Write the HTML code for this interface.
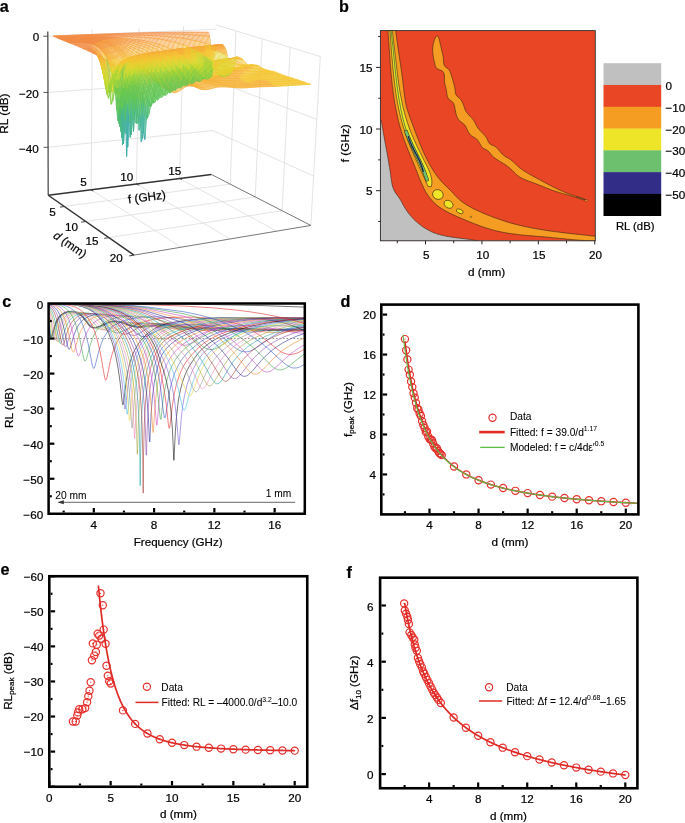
<!DOCTYPE html>
<html><head><meta charset="utf-8"><style>
html,body{margin:0;padding:0;background:#fff;width:685px;height:823px;overflow:hidden;position:relative;}
svg text{font-family:"Liberation Sans", sans-serif;stroke:currentColor;stroke-width:0.22px;}
svg{will-change:transform;}
svg text[font-size="10.2"]{stroke-width:0.06px;}
</style></head><body><svg width="685" height="823" viewBox="0 0 685 823" font-family='"Liberation Sans", sans-serif' style="position:absolute;left:0;top:0"><defs><clipPath id="clipc"><rect x="48.6" y="303.5" width="256.2" height="210.25"/></clipPath><clipPath id="clipb"><rect x="380.4" y="30.6" width="214.89999999999998" height="210.20000000000002"/></clipPath></defs><text x="2.3" y="306.6" font-size="16.2" font-weight="bold">c</text><g fill="none" stroke-width="0.55" clip-path="url(#clipc)"><path d="M48.6 326l1.5 8.4 .7 2.3 .4 .2 .3-.2 .8-1.7 2.2-7.9 1.4-4.2 1.5-3.1 1.8-2.8 2.6-2.5 2.9-1.7 3.3-1 3.7-.3 2.2 .2 2.2 .5 1.8 .8 1.9 1.2 1.4 1.2 1.9 1.9 6.5 8.4 1.9 1.4 1.8 .6 2.6-.2 4-1.1 2.2-.9 5.1-2.6 2.6-1 2.2-.5 2.6-.2 2.5 .2 2.6 .5 12.1 4.1 3.3 .7 2.9 .3 5.2-.2 12.8-1.7 4-.1 9.5 .6 18.7 2.2 8.8 .5 25 .2 32.6 1.1 27.5 .2 22.7 .4" stroke="#666666" stroke-width="1.5"/><path d="M48.6 320.7l2.6 14.7 .7 2.2 .4 .3 .3-.2 .8-1.7 2.2-7.9 1.4-4.3 1.5-3.2 1.8-2.9 2.2-2.3 3-2 3.3-1.2 3.6-.5 2.6 .1 2.2 .5 2.2 .8 2.2 1.3 1.8 1.5 1.9 2 5.1 6.6 1.8 2.1 1.8 1.3 1.9 .6 2.2-.3 4-1.2 7.7-3.6 2.6-1 2.9-.7 2.9-.2 2.6 .2 2.6 .5 12.8 3.8 3.3 .7 2.9 .2 5.2-.1 8-1.1 10.3-.2 9.9 .5 19.8 2.1 9.9 .7 28.2 0 29.3 1.1 27.1 0 14.7 .3" stroke="#40B8E0"/><path d="M48.6 316.3l1.1 5 2.6 14.5 .7 2.5 .4 .5 .3 0 .8-1.4 2.5-9.1 1.5-4.2 1.5-3.2 1.8-2.8 2.6-2.7 2.9-1.8 3.3-1.2 3.7-.5 2.5 .1 2.6 .6 2.2 .8 2.2 1.3 1.8 1.5 1.8 1.9 5.5 7 1.9 2 1.8 1.4 1.8 .6 2.2-.1 3.3-1 3-1.3 5.8-2.8 3-1.1 2.9-.7 3.3-.3 2.9 .2 3 .5 13.2 3.5 3.3 .6 2.9 .3 16.9-.8 9.8 0 12.9 .7 19 1.8 9.6 .6 6.2 .1 21.6-.3 31.2 1.1 30.4 .1" stroke="#E8D030"/><path d="M48.6 312.7l1.1 3.7 1.1 4.9 2.9 16 .8 2.2 .3 .3 .4-.1 .7-1.5 2.6-9.1 1.5-4.2 1.4-3.2 1.9-3 2.5-2.7 3-2 3.6-1.3 3.7-.5 2.9 .1 2.6 .5 2.6 1 2.2 1.3 1.8 1.4 2.2 2.2 5.8 7.2 1.9 2 2.2 1.5 1.8 .4 1.8-.2 3-.9 9.1-4.1 3.3-1.3 3.7-.8 4-.3 3.7 .3 3.3 .5 14.3 3.3 7.7 .7 6.6 .1 23.4-.3 5.9 .1 7.7 .5 18 1.8 8.8 .4 28.9-.3 30.8 1 18.7 0" stroke="#909090"/><path d="M48.6 310.1l1.5 3.7 1.1 3.8 1.4 6.7 2.6 13.9 .7 2.3 .4 .4 .4 0 .7-1.4 2.9-10.2 1.5-4.1 1.5-3.2 1.8-2.8 2.6-2.8 2.9-1.9 3.7-1.4 4-.7 2.9 .1 2.6 .5 2.6 .8 2.5 1.4 2.2 1.6 2.2 2.1 6.2 7.4 1.9 1.9 2.2 1.6 2.2 .6 1.8-.2 2.6-.7 9.9-4.3 4-1.4 4-.9 4.8-.3 3.7 .2 3.6 .5 11.4 2.5 6.6 1.2 5.5 .6 5.8 .5 11 .1 11.4-.8 8.8-.1 8.4 .4 18.4 1.7 8.8 .5 8.4 .1 25.3-.5 34.8 1.1" stroke="#F080B0"/><path d="M48.6 308.1l1.8 3.3 1.9 5.1 1.8 7.7 2.6 13.9 .7 2.8 .4 .9 .3 .3 .4-.1 .7-1.3 3-10.2 1.4-4.2 1.9-3.9 1.8-2.8 2.6-2.7 3.3-2.2 3.6-1.3 4.4-.7 3.3 .1 2.9 .6 3 1 2.5 1.4 2.2 1.7 2.6 2.4 6.2 7.3 2.2 2.3 2.2 1.5 2.2 .7 1.9-.1 2.2-.7 9.9-4.6 5.5-2 4.7-1.1 5.2-.3 3.6 .1 4.1 .5 20.8 4.3 5.9 .9 5.5 .7 7-.2 17.6-1.3 8.4-.1 10.3 .3 19 1.7 9.2 .5 7.7 0 24.5-.6 21.3 .6" stroke="#A0A030"/><path d="M48.6 306.7l1.5 1.6 1.4 2.3 1.1 2.4 1.1 3 2.2 8.7 3 15.4 .7 2.5 .4 .7 .3 .2 .4-.2 .7-1.4 3-10.2 1.4-4.2 1.9-4 2.2-3.3 2.9-3 3.3-2.1 4-1.4 4.4-.7 3.3 .1 3.3 .5 3.3 1.1 2.9 1.5 2.6 1.9 2.6 2.3 7.3 8.2 2.2 2.2 2.2 1.5 2.2 .6 2.2-.1 2.2-.7 10.3-5.2 5.1-2 5.5-1.3 5.9-.6 4.4 .2 6.6 .8 8 1.5 15.4 3.4 4.8 .7 4.7 .4 7.7-.1 20.6-1.5 8.8-.3 9.9 .3 19.7 1.7 9.2 .5 8.4 0 19.1-.6 9.9 0" stroke="#1A9A9A"/><path d="M48.6 305.7l1.8 1.3 1.9 2.1 1.4 2.5 1.5 3.3 1.5 4.6 1.1 4.4 3.6 18.4 .8 2.2 .3 .5 .4 .1 .4-.3 .7-1.6 2.9-10.1 1.9-5.2 1.8-3.8 2.2-3.2 2.9-3 1.9-1.3 1.8-1 4-1.5 4.8-.7 4 .1 3.7 .5 3.6 1.2 3.3 1.6 3 2 2.9 2.5 7.7 8.2 2.6 2.4 2.5 1.7 1.1 .4 1.5 .2 2.2-.2 2.2-.7 9.9-5.6 5.9-2.5 5.8-1.5 5.5-.3 8.1 .2 8.8 1 6.9 1.2 17.3 3.7 5.1 .8 4.8 .4 9.1-.1 19.8-1.8 11-.4 11.4 .4 18.3 1.5 8.1 .5 9.1 .2 11.4-.3" stroke="#A0302A"/><path d="M48.6 305l2.9 1.6 2.2 2 1.9 2.7 1.8 3.9 1.5 4.2 1.4 5.6 4.1 19.7 .7 1.9 .4 .4 .3 0 .4-.4 .7-1.8 3-10.1 1.8-5.2 2.2-4.5 2.2-3.2 1.5-1.7 1.8-1.6 3.7-2.3 4.3-1.6 5.2-.8 4.4 0 4.4 .6 4 1.2 4 1.8 3.3 2.1 3.3 2.6 3 2.7 5.8 5.9 2.6 2.3 2.9 1.8 2.6 .7 2.2-.2 2.6-1 2.2-1.2 6.9-4.5 3.7-1.9 3.7-1 4.4-.8 5.1-.6 5.5-.2 9.9 .1 8 .7 8.1 1.4 18 3.7 5.8 .9 4.8 .4 4.4 .1 4.8-.2 23-2.2 11-.4 12.1 .4 25.7 2.1" stroke="#8A3FA8"/><path d="M48.6 304.5l3.7 1.3 1.4 .9 1.5 1.2 2.2 2.5 2.2 3.9 1.5 3.6 1.4 4.7 1.9 7.6 3.3 16.2 .7 2.2 .4 .6 .3 .1 .8-.7 .7-1.9 2.9-10.2 2.2-6 2.2-4.4 2.2-3.2 1.5-1.7 1.8-1.6 1.9-1.3 2.1-1.3 2.2-.9 2.6-.8 5.5-1 5.1-.1 5.2 .6 5.1 1.3 4.8 2 4.4 2.5 4 2.9 3.3 2.9 6.2 6 2.6 2.2 2.6 1.5 2.5 .6 1.9-.1 1.8-.5 4-2.3 6.3-3.2 3.6-1.5 3.7-1.2 4-.9 5.1-.8 9.9-1.1 5.2-.4 8.8 0 9.1 .8 9.9 1.6 18.4 3.7 5.5 .8 5.1 .3 5.1 .1 5.1-.3 19.8-2 9.2-.7 9.5-.2 10.3 .4" stroke="#1F1F8F"/><path d="M48.6 304.2l2.6 .5 2.2 .6 1.8 .8 1.8 1.2 1.5 1.2 1.5 1.6 2.5 3.9 2.2 5.1 1.9 5.9 1.8 7.6 3.3 16.1 .7 2.5 .8 1 .3 0 .4-.4 .7-1.7 3.3-11.4 2.2-6.1 2.6-5.1 2.6-3.6 1.8-2 1.8-1.5 2.2-1.5 2.2-1.2 2.6-1 2.5-.8 5.9-1 6.2-.2 6.3 .6 6.2 1.5 5.9 2 4.7 2.4 4.8 2.9 4 3 7.7 6.4 4.1 2.7 4 2 1.8 .6 1.9 .2 3.2-.1 3.3-.9 16.2-7.6 5.8-2.1 4.1-1 4.4-.8 9.5-1.1 5.5-.2 6.2 .1 9.9 .7 9.6 1.4 20.8 4 5.2 .7 5.1 .4 5.5 .1 6.2-.3 22.4-2.3" stroke="#F08020"/><path d="M48.6 303.9l3.3 .4 2.9 .7 2.2 .7 2.2 1 1.9 1.2 1.8 1.7 1.8 2.1 1.5 2.3 2.6 5.3 2.2 6.5 2.2 8.8 3.6 17.8 .8 2.5 .7 1.1 .4-.1 .3-.3 .8-1.6 3.6-12.9 2.2-6.1 2.6-5.2 2.9-4.2 1.8-1.9 2.2-1.9 2.2-1.5 2.6-1.4 2.9-1.2 3-.9 3.3-.7 3.6-.5 4.1-.2 4 0 8.1 .7 4 .7 4 1 3.7 1.1 3.7 1.4 5.5 2.7 9.5 5.5 5.8 4.1 8.8 7.2 3.3 2.5 3.3 2 1.9 .8 1.1 .2 1.4 0 1.9-.3 1.8-.6 1.8-.9 3-1.8 10.2-7.2 3.7-2.1 3.7-1.7 4.7-1.6 5.9-1.4 5.1-1 5.5-.7 5.9-.4 6.2-.1 6.2 .2 6.3 .5 11 1.4 24.2 4.5 6.6 .8 6.2 .3" stroke="#C040C0"/><path d="M48.6 303.8l4.8 .4 3.6 .6 3.3 .8 2.6 1.1 2.6 1.5 2.2 1.8 1.8 2.1 1.8 2.6 1.5 2.6 1.5 3.2 1.4 3.8 1.5 4.6 2.6 10.2 3.6 18.2 .8 2.5 .7 1.2 .4 0 .3-.3 .8-1.6 3.6-13.4 2.6-7.5 2.5-5.3 1.5-2.4 1.8-2.5 1.9-2 2.2-2 2.5-1.8 2.6-1.4 2.9-1.3 3-1 3.3-.9 3.6-.6 5.9-.7 6.2-.1 6.3 .1 5.8 .6 5.9 .9 7.3 1.8 6.3 1.7 5.4 1.8 7.7 3.3 6.3 3.5 5.1 4 9.9 9.2 3.7 3 2.2 1.5 1.8 .9 2.2 .8 1.8 .3 1.9 0 2.2-.5 2.2-.8 2.2-1.1 4-2.8 9.9-7.6 3.3-2.2 3.3-1.8 5.8-2.5 6.6-1.9 5.5-1.1 7-.9 6.2-.5 6.6-.2 6.6 .1 7 .4 7 .7 7.3 1.1" stroke="#2E9A3A"/><path d="M48.6 303.7l6.2 .3 4.8 .5 4 .8 3.3 1.1 3 1.3 2.9 2 2.6 2.4 2.2 2.8 2.2 3.5 1.8 3.7 1.8 4.6 1.9 5.5 2.9 11.6 4 20.8 .7 2.6 .8 1.2 .3-.1 .4-.5 .7-1.9 3.7-14.7 2.6-7.9 2.5-5.8 1.5-2.5 1.8-2.7 2.2-2.7 2.2-2.1 2.6-2.1 2.6-1.6 2.9-1.5 3.3-1.3 3.7-1.1 4-1 6.6-1.1 6.6-.7 7.3-.3 6.6 .1 10.3 .6 10.6 1.2 8.8 1.3 5.9 1.5 4.7 1.5 4.8 1.9 4.4 2 4 2.2 4.4 2.8 4.4 3.3 5.9 4.8 6.2 5.6 4.1 3 2.2 1.4 2.2 1 2.1 .6 2.2 .3 1.9-.1 2.2-.4 2.2-.7 2.5-1.3 4.4-2.8 13.2-9.5 4.4-2.6 4.8-2.3 5.1-1.9 5.9-1.6 6.2-1.2 7-.9" stroke="#2B4FC4"/><path d="M48.6 303.6l8.4 .3 6.6 .5 5.5 .9 4.4 1.2 4.1 1.7 3.3 2.1 3.3 2.9 2.9 3.5 2.5 3.9 2.6 5 2.2 5.4 2.2 6.6 1.8 6.7 1.9 8.3 4.4 25.2 .7 2.1 .4 .3 .3-.3 .8-2.1 3.6-17.5 1.5-5.6 1.5-4.6 1.8-4.6 1.8-3.8 2.2-3.6 2.6-3.4 2.9-3.1 3.7-2.9 3.7-2.2 4.4-2.1 4.7-1.8 5.2-1.6 5.8-1.4 6.6-1.2 7.7-.6 8.8-.5 11-.2 8.1 .1 8.4 .5 8.1 .8 7.7 1 7.3 1.4 7 1.6 6.6 2.1 5.8 2.4 5.9 2.9 4.7 2.9 4.8 3.3 16.9 13.4 3.6 2.4 3.3 1.5 2.2 .6 2.2 .4 2.2 0 2.6-.3 2.6-.8 2.5-1 5.9-3.3" stroke="#E41A1C"/><path d="M48.6 303.5l12.5 .3 8.8 .6 7.3 1 5.9 1.5 5.4 2.2 4.8 2.9 4 3.6 4.1 4.7 3.6 5.7 3.7 7.4 3.3 8.7 2.6 8.8 1.8 7.9 1.8 10 1.9 13.5 2.2 20.3 .3 1.8 .4 .5 .4-1.1 .3-2.3 2.6-20.9 1.8-10.4 1.5-6.2 1.5-5 1.4-4.1 1.9-4.1 2.2-4.1 2.9-4.5 2.6-3.3 2.9-3 3.3-2.9 4-2.9 4.4-2.6 4.4-2.2 7.3-2 8.5-1.6 9.9-1.5 12.8-1.3 10.3-.8 10.6-.3 15-.1 8.8 .2 9.5 .6 9.2 .8 8.8 1.3 7.3 1.3 7 1.7 6.6 2.1 6.2 2.4 5.9 2.8" stroke="#000000"/><path d="M48.6 303.5l12.8 .3 9.6 .6 7.3 1.1 6.2 1.5 5.5 2.3 2.6 1.4 2.5 1.8 4.4 3.9 4.1 4.9 4 6.5 3.7 7.7 3.3 9.1 2.5 9.2 1.9 8.3 1.8 10.9 1.5 11.6 2.2 22.1 .3 2.1 .4 .3 .7-4.3 2.2-20.1 1.9-11.4 1.1-5.2 1.4-5.6 1.5-4.5 1.5-3.7 2.5-5.4 2.2-3.8 2.6-3.7 2.9-3.4 3.3-3.2 3.7-3 4-2.7 4.4-2.5 7-2.1 8-1.8 9.2-1.6 12.5-1.5 9.5-.9 10.3-.6 9.9-.3 13.5-.1 9.5 .3 9.6 .6 9.1 .8 8.5 1.2 7.7 1.4 6.9 1.7 6.6 2 5.9 2.3" stroke="#7050D0"/><path d="M48.6 303.5l13.6 .3 9.5 .6 7.7 1.1 6.6 1.7 2.9 1.1 2.9 1.3 2.6 1.5 2.6 1.8 2.5 2.2 2.2 2.2 4.1 5 2.2 3.4 2.2 3.9 3.6 8 3.3 9.4 2.6 9.6 1.8 8.8 1.9 11.7 1.4 12.9 1.9 21 .3 2.7 .4 .5 .7-5.2 1.9-19.2 1.8-12.9 1.1-5.7 1.5-6 1.4-4.8 1.9-5 1.8-4.2 2.2-4.1 2.6-4 2.5-3.3 3.3-3.5 3.3-2.9 3.7-2.7 4-2.6 6.6-2.3 7.7-2 8.8-1.7 11.7-1.7 9.6-1.1 9.9-.8 9.5-.4 12.8-.3 9.9 0 9.9 .3 9.5 .6 8.8 .8 8.1 1.2 7.3 1.3 7 1.7 6.6 2" stroke="#40B8E0"/><path d="M48.6 303.5l13.9 .3 10.3 .7 8.1 1.1 6.5 1.7 3 1.1 2.9 1.4 2.9 1.7 2.6 1.8 2.6 2.2 2.2 2.2 2.2 2.5 2.2 3 2.2 3.4 2.2 3.9 3.6 8 3.3 9.3 3 11.1 2.2 11.3 1.8 13.2 1.1 11 1.8 24 .4 2.1 .4-1.2 1.8-22.1 1.8-15.4 2.2-11.7 1.9-6.8 1.4-4.6 1.9-4.7 2.2-4.6 2.2-3.7 2.5-3.7 3-3.5 3.3-3.2 3.6-3.1 3.7-2.5 5.1-2.1 5.9-1.8 6.6-1.7 7.7-1.5 11.3-1.8 8.5-1 9.9-.9 10.6-.6 13.2-.5 9.5-.1 10.3 .2 10.2 .6 9.6 .8 9.1 1.2 8.1 1.4 7.7 1.9" stroke="#E8D030"/><path d="M48.6 303.5l14.7 .3 10.6 .7 8.4 1.2 3.7 .8 3.3 1 3.3 1.3 2.9 1.5 2.9 1.7 2.6 1.9 2.6 2.3 2.5 2.6 4.4 5.7 2.2 3.5 2.2 4 2.2 4.6 1.9 4.5 3.3 9.7 2.9 11.8 2.2 12.3 1.5 11.4 1.4 16.8 1.5 23.4 .4 1.7 .3-3.1 1.5-22.3 1.5-14.7 1.1-7.7 1.1-6 1.4-6.7 1.5-5.2 1.8-5.3 1.9-4.4 2.2-4.3 2.5-4.1 2.6-3.4 2.9-3.3 3.3-3.2 3.7-2.9 4.7-2.2 5.5-2 5.9-1.7 7-1.6 12.1-2.2 7.3-1.1 9.5-1.1 9.9-.8 23.8-1.1 10.3 0 10.3 .2 10.2 .6 9.6 .9 8.8 1.2 8.4 1.5" stroke="#909090"/><path d="M48.6 303.5l15.8 .3 11 .7 8.8 1.4 3.6 .8 3.7 1.2 3.3 1.3 2.9 1.5 2.9 1.9 3 2.2 2.9 2.7 2.6 2.9 2.5 3.2 2.2 3.3 2.2 3.7 2.2 4.2 2.2 4.9 1.9 4.8 3.3 10.4 1.4 5.9 1.5 7 2.2 14.1 1.5 14.1 1.1 16.1 1.1 23.7 .3 2.8 1.5-27.6 1.5-18.1 1.8-13.8 2.2-10.7 1.5-5.3 1.8-5.4 2.2-5.1 2.2-4.2 2.6-4.1 2.9-3.9 3.3-3.6 3.3-3 4.4-2.3 5.1-2.2 5.5-1.9 6.6-1.8 6.6-1.4 12.5-2.4 8.8-1.2 9.1-1 24.6-1.5 10.2-.3 10.3 0 11.4 .4 9.9 .6 9.5 .9 8.8 1.3" stroke="#F080B0"/><path d="M48.6 303.5l16.5 .3 11.7 .8 4.8 .6 4.4 .8 4 1 3.7 1.3 3.6 1.5 3.3 1.9 3.3 2.2 3 2.5 2.9 2.9 2.6 3 2.5 3.5 2.6 4 2.6 4.7 2.2 4.7 2.2 5.4 1.8 5.3 1.8 6.1 1.5 5.8 2.6 13.1 1.8 13.9 1.5 17.6 .7 14.1 1.1 33.8 .4-6.9 .7-24.4 1.1-20.1 1.5-15.1 1.1-7.7 1.1-6 1.4-6.3 1.5-5.1 1.8-5.2 2.2-5.1 2.6-4.8 2.6-3.9 3.3-4.2 2.9-3.1 4.4-2.7 4.7-2.3 5.5-2.2 5.9-1.8 6.6-1.7 12.1-2.6 8.1-1.4 8.8-1.2 9.1-.9 15.8-1.2 10.2-.4 10.3-.2 12.1 .1 10.3 .4 9.9 .7 9.5 1" stroke="#A0A030"/><path d="M48.6 303.5l18.3 .4 12.5 .9 5.1 .7 4.8 1 4 1.1 4 1.6 4.1 2 3.6 2.3 3.3 2.6 3.3 3.2 3 3.3 2.9 4 2.9 4.6 2.6 4.7 2.6 5.6 2.2 5.5 1.8 5.4 1.8 6.3 1.5 6 1.5 7.2 2.2 14.7 1.4 15.8 1.1 21.7 .4 12.6 .7 49 .4-32.7 .7-30 1.1-20.1 .8-8.4 1.1-9.3 1.1-7 1.4-7.1 1.9-6.9 1.8-5.5 2.2-5.2 2.6-5 2.9-4.6 3.3-4.2 4-3 4.4-2.6 5.1-2.4 5.9-2.2 7-2.1 11.3-2.8 7.7-1.6 8.1-1.3 9.9-1.3 15.4-1.4 9.9-.7 10.2-.4 11-.1 12.5 .1 10.6 .5 10.3 .8" stroke="#1A9A9A"/><path d="M48.6 303.5l19.4 .4 7 .4 5.9 .5 5.5 .8 4.7 1 4.4 1.3 4 1.6 4.1 2 3.6 2.4 3.7 2.9 3.3 3.1 3.3 3.8 2.9 4 3 4.6 2.9 5.5 2.6 5.6 2.2 5.6 2.2 6.6 1.8 6.6 2.6 11.9 1.1 7.1 1.1 9.1 1.4 18.4 .8 15.8 .7 33.1 .4 35.5 .3-37.5 .8-31.3 1.1-20.5 1.4-15.1 1.1-7.6 1.1-6 1.5-6.4 1.8-6.3 1.9-5.1 2.2-5 2.5-4.7 2.6-4 3.6-3.3 4.4-3.1 5.2-2.9 5.5-2.4 6.9-2.5 11-3.2 7.4-1.7 7.7-1.5 10.6-1.6 15-1.7 9.5-.8 9.9-.6 11.4-.4 13.2-.1 11.4 .2 10.6 .6" stroke="#A0302A"/><path d="M48.6 303.5l18.3 .3 12.9 .8 5.1 .6 4.7 .8 4.4 1 4.1 1.3 4 1.6 3.7 1.9 3.6 2.3 3.3 2.5 3.3 3.1 3 3.1 2.9 3.7 2.9 4.2 3 4.9 2.5 5 2.2 4.9 2.2 5.7 1.9 5.5 1.4 5.1 1.5 6.3 1.5 7.7 1.8 13.2 1.5 16.5 1.1 22.3 .7 26.4 .4 1 .7-26.2 1.1-22.1 1.5-16.1 1.8-12.3 1.5-7.1 1.4-5.6 1.9-5.7 2.2-5.5 1.8-3.8 1.5-2.6 2.5-2.9 2.9-2.8 3.7-2.8 4.4-2.8 4.8-2.5 5.1-2.1 5.1-1.8 11.4-3.6 7.3-1.9 8.1-1.6 8.8-1.4 14.7-1.8 9.1-.9 9.5-.7 10.7-.5 13.2-.3 11 0 10.6 .4" stroke="#8A3FA8"/><path d="M48.6 303.5l18.3 .3 12.9 .7 10.2 1.3 4.4 .9 4 1.1 4.1 1.5 3.6 1.7 3.7 2 3.3 2.2 3.3 2.7 3.3 3.1 2.9 3.3 3 3.7 2.9 4.3 2.9 4.9 2.6 4.9 2.2 4.9 1.8 4.6 1.9 5.6 2.9 11.3 2.2 12.1 1.8 15.2 1.5 20.5 1.1 24.1 .4 1.5 1.4-29.4 1.1-14.3 1.9-15 2.2-11.4 2.5-9.3 3-7.7 2.2-3.3 2.5-3.2 2.9-3 3-2.6 3.6-2.6 4.4-2.7 4.4-2.2 5.2-2.2 8.8-3.3 6.2-2 7.3-1.9 8.1-1.7 7.7-1.3 14.3-2.1 17.6-1.7 10.2-.6 12.9-.5 11-.2 10.6 .2" stroke="#1F1F8F"/><path d="M48.6 303.5l18.7 .3 13.2 .6 10.2 1.3 4.4 .8 4.4 1.2 4.1 1.3 4 1.7 3.7 1.9 3.3 2.1 3.3 2.5 3.3 2.9 2.9 2.9 2.9 3.4 3 3.8 2.9 4.4 2.6 4.3 2.5 5 2.2 5.1 1.9 4.9 1.8 5.8 1.5 5.4 2.5 12.4 1.9 13 1.4 15.8 1.5 23.2 .4 3 .3-1.8 1.5-22.5 1.5-15.7 1.1-8.2 1.1-6.5 1.1-5.2 1.4-5.8 1.1-3.7 1.1-2.3 2.2-4 2.2-3.3 2.2-2.8 2.6-2.8 2.5-2.4 3-2.4 4-2.8 4.8-2.7 13.5-6.1 5.2-1.9 5.5-1.7 5.8-1.5 6.6-1.5 20.5-3.4 16.9-2 9.9-.7 12.8-.7 10.7-.3 10.6-.1" stroke="#F08020"/><path d="M48.6 303.5l19.4 .3 13.2 .6 10.6 1.2 4.4 .8 4.4 1.1 4.1 1.2 4 1.6 3.7 1.7 3.6 2.1 3.7 2.6 3.3 2.6 3.3 3.1 2.9 3.1 3 3.6 2.9 3.9 2.9 4.6 2.2 3.9 2.2 4.6 2.2 5.3 1.9 5.1 1.8 6.1 2.6 11 2.2 13.6 1.1 9.5 2.2 26.4 .3 2.1 .4-1 .4-3.5 1.4-18.2 1.5-13.3 1.8-11.5 .4-1.8 1.1-3.5 1.8-5 1.8-4.1 2.2-4 2.2-3.4 2.6-3.4 2.9-3.2 3.3-3 3.3-2.6 3.7-2.5 3.7-2.1 8-4.2 5.2-2.3 5.1-2 5.1-1.7 5.9-1.6 6.2-1.5 18.7-3.5 16.5-2.1 22-1.7 20.9-.8" stroke="#C040C0"/><path d="M48.6 303.5l19.4 .2 13.6 .6 11 1.2 4.7 .8 4.4 .9 4.4 1.3 4.1 1.4 4 1.8 3.7 2 3.6 2.3 3.3 2.5 3.3 2.8 3.3 3.2 3.3 3.6 3.3 4.2 2.2 3.1 2.6 4.2 2.6 4.9 2.2 4.9 1.8 4.6 1.8 5.5 1.5 5.1 1.5 6.1 2.2 12 1.8 14.4 1.8 19.1 .4 2.5 .4 .7 .3-1.4 .4-2.9 1.5-15.3 1.4-9 2.6-11.1 2.9-8.9 1.8-4.3 1.9-3.6 2.2-3.7 2.2-3.1 2.5-3.1 3-3.1 3.3-2.9 3.3-2.5 10.2-6.5 4.1-2.2 4-1.9 4.8-2 5.1-1.8 5.5-1.6 6.2-1.6 17.2-3.6 15.8-2.3 21.6-2.1 20.2-1" stroke="#2E9A3A"/><path d="M48.6 303.5l20.5 .2 14 .6 10.9 1.2 4.8 .7 4.8 1 4.4 1.3 4.4 1.5 4 1.7 3.7 1.9 3.6 2.3 3.7 2.5 3.7 3 3.3 3.1 3.3 3.5 2.5 3 3 4.1 2.5 4 2.6 4.6 2.2 4.7 1.8 4.4 1.9 5.2 2.9 10.4 2.2 10.8 1.8 12.5 2.2 19.5 .8 4.7 .3 1.5 .4 .6 .3-.3 .8-3.1 2.9-19 2.2-10.5 2.6-8.8 1.4-3.9 1.9-4.2 1.8-3.6 2.2-3.7 2.6-3.6 2.5-3.1 5.2-5 9.1-7.3 4.1-2.6 4.4-2.5 4.7-2.3 4.8-1.9 9.9-3.3 15.4-3.9 12.4-2.4 14-2 17.6-1.7 17.2-1.1" stroke="#2B4FC4"/><path d="M48.6 303.5l20.9 .2 14.7 .7 11.7 1.1 5.1 .9 4.8 1 4.7 1.4 4.4 1.6 4.4 1.9 4.1 2.1 4 2.5 3.7 2.7 3.6 3 3.7 3.4 3.3 3.7 2.9 3.7 2.6 3.7 2.6 4.3 2.2 4.2 2.2 4.9 1.8 4.7 1.8 5.6 1.5 5.3 1.5 6.3 3.6 19.1 1.8 12.9 2.2 20.3 .4 2.4 .4 1.2 .3-.4 .4-1.8 2.6-21.4 1.8-11.1 2.2-9.6 2.9-9 1.9-4.4 1.8-3.7 2.2-3.8 2.6-3.7 3.3-4.1 5.1-5.4 5.5-5 3.7-2.8 4-2.6 4.4-2.4 4.8-2.3 4.7-1.9 4.8-1.7 15.4-4.5 12.1-2.6 13.9-2.2 17.6-2.1 17.6-1.3" stroke="#E41A1C"/><path d="M48.6 303.5l23.1 .3 15.7 .7 6.6 .7 5.9 .8 5.5 1 5.1 1.3 5.2 1.7 5.1 2.1 4.8 2.5 4.4 2.6 4.4 3.2 3.6 3 4.1 4 3.6 4.2 3 3.9 2.9 4.6 2.6 4.8 2.5 5.6 2.2 5.8 4.4 13.5 1.8 6.3 1.5 6 1.5 7.2 1.1 6.7 1.8 15 1.5 19.9 1.1 24.9 .3 4.5 1.5-29.1 1.1-15 1.8-15.2 2.2-11.6 1.5-5.6 1.5-4.7 1.8-4.8 2.2-4.8 2.6-4.6 4.4-6.7 2.5-3.5 3-3.4 3.6-3.6 4.1-3.4 4.4-3 4.4-2.6 4.7-2.4 4.8-2.1 14.7-5.2 5.8-1.6 6.6-1.6 14.3-2.8 18.3-2.5 19.1-1.6" stroke="#000000"/><path d="M48.6 303.5l23.1 .3 15.4 .6 12.4 1.3 5.5 1 5.2 1.1 5.1 1.5 5.1 1.9 4.8 2.2 4.4 2.3 4.4 2.8 3.7 2.6 4 3.5 3.7 3.7 3.3 3.8 2.9 4 2.6 4.1 2.5 4.8 8.1 17.6 2.5 6.8 2.2 7 3 12.1 1.4 8.1 1.1 7.5 1.5 13.4 2.2 27 .4 0 .3-3.1 1.9-23 1.4-12.5 1.9-10.7 2.5-10.5 1.5-4.5 1.8-4.8 3-6.7 2.2-4.4 2.2-3.7 2.5-3.7 3-3.6 2.9-3.1 3.3-3 3.7-2.9 4-2.7 4-2.4 5.2-2.5 8.4-3.7 9.9-3.6 6.2-1.8 6.6-1.6 15.8-3 15-2.1 16.5-1.6" stroke="#7050D0"/><path d="M48.6 303.5l21.3 .2 15 .5 11.7 1 10.3 1.6 4.7 1 4.8 1.4 4.4 1.4 4.4 1.8 4.4 2.1 4 2.2 3.3 2.1 3.7 2.7 3.3 2.8 3.3 3.2 2.9 3.3 3 3.8 2.5 3.8 3 5.1 4.4 6.9 4.7 8.7 3.7 8.2 3.3 9.1 3.3 11.5 4.4 18.8 1.1 3.1 .7 .6 .7-.6 1.1-2.9 3.7-14.2 3.7-12 2.5-6.8 3-6.4 3.6-6.3 4.4-5.9 4.8-5.1 5.5-4.7 3.3-2.3 3.7-2.2 10.2-5.5 8.1-3.4 9.1-3.1 11-2.8 14.3-2.8 13.2-2 14.7-1.6" stroke="#40B8E0"/><path d="M48.6 303.5l20.2 .2 14.3 .4 11.7 .8 9.9 1.3 9.1 1.9 8.5 2.6 4.4 1.8 4 1.8 3.3 1.7 3.7 2.3 3.3 2.3 3.3 2.6 2.9 2.6 2.9 3.1 2.6 3 3.7 5.1 5.1 6.3 4.4 6.1 4.7 7.7 4.1 7.5 3.3 7.1 5.5 13.2 1.8 3.8 1.8 2.8 1.5 3.2 .7 .9 .8 .2 .3-.1 .8-.7 1.4-2.8 5.2-13.9 2.9-6.8 2.9-5.6 3.3-5.3 4.4-5.6 4.8-4.9 4.8-3.9 7.3-5.1 6.2-3.7 7-3.3 7.7-2.9 8.8-2.7 11.3-2.8 10.7-2.1 12.1-1.9 12.8-1.4" stroke="#E8D030"/><path d="M48.6 303.5l20.5 .2 14.3 .4 11.7 .7 10.3 1.3 9.5 1.8 8.8 2.5 8.8 3.5 6.6 3.5 6.3 4.2 5.5 4.8 4.7 5.3 4.4 4.2 4.4 4.7 4 4.6 4.1 5.1 5.8 8.2 7.7 11.9 7 17.9 1.5 2.5 .7 .8 .7 .3 1.1-.4 1.5-1.9 8.4-18.4 3.3-5.9 3.7-5.4 3.7-4.4 4-4.1 6.6-5.7 5.9-4.3 6.6-3.8 6.9-3.3 7.7-2.9 9.5-2.9 8.8-2.3 9.6-1.9 10.2-1.7 11.4-1.5" stroke="#909090"/><path d="M48.6 303.5l20.5 .2 14.7 .3 12.1 .8 10.2 1.1 9.6 1.7 9.1 2.3 8.1 2.9 7.7 3.6 4.4 2.7 4 2.9 3 2.4 2.9 2.8 5.1 4.1 5.1 4.4 9.6 9 10.2 11.1 2.6 4.3 2.9 5.7 8.8 19.5 1.9 2.6 .7 .5 .7 .2 .8-.1 .7-.5 1.8-2.2 8.5-16 3.3-5.3 3.3-4.5 5.1-6.1 3.7-3.8 4.7-4.2 5.2-3.7 5.8-3.5 6.6-3.2 6.6-2.6 9.5-3.3 8.1-2.2 8.8-2 9.5-1.7 10.3-1.6" stroke="#F080B0"/><path d="M48.6 303.5l20.9 .1 15 .4 12.1 .7 10.6 1.1 9.9 1.6 9.6 2.3 8 2.6 7.7 3.4 6.6 3.8 5.2 3.9 11.3 7.7 8.8 6.6 9.9 8 5.1 6.8 4.8 7.4 3.7 6.7 5.8 11.9 2.2 4.1 1.9 2.4 1.1 .8 .7 .2 .7-.1 1.1-.5 1.1-1 1.1-1.4 11.4-19 2.6-3.8 2.9-3.8 3.3-3.6 3.7-3.5 4-3.4 4-2.8 5.1-3.1 5.9-3 7.7-3.3 7-2.6 7.3-2.2 8.1-2.1 8.8-1.8 9.5-1.6" stroke="#A0A030"/><path d="M48.6 303.5l21.3 .1 15 .4 12.4 .6 11 1.1 10.7 1.6 9.9 2.2 8.4 2.6 7.3 3 4.1 2.1 4.7 3 7.4 4 7.6 4.5 14.7 9.1 1.1 1 6.2 6.5 5.9 7.3 3.3 4.7 2.9 4.7 8.1 14.5 2.2 3.6 2.2 2.7 1.1 .7 1.1 .3 .7 0 1.1-.5 1.9-1.6 1.8-2.8 7.7-13.2 3.3-4.7 3.3-4.1 3.3-3.6 3.3-3.1 3.6-3 4.1-2.9 4.7-3 6.6-3.6 5.5-2.5 6.3-2.5 6.6-2.2 7.3-2.1 8.1-1.9 8.4-1.6" stroke="#1A9A9A"/><path d="M48.6 303.5l22 .1 15.4 .4 12.8 .6 11.4 1 10.6 1.4 9.9 2 8.8 2.5 7.7 2.9 5.9 3 15 6.8 14.6 7.3 3.3 2.4 4.1 3.3 3.6 3.3 3.7 3.6 6.6 7.6 3.3 4.4 3.3 4.8 10.6 17 2.2 2.5 1.1 .7 .8 .2 1.1-.1 1.1-.5 2.2-2 2.2-2.9 8-12 3.3-4.2 3.3-3.7 2.9-2.9 3.3-2.9 7.7-5.8 4.4-2.8 4.4-2.4 5.2-2.5 5.1-2.2 5.5-2 6.2-1.9 6.6-1.8 7-1.7" stroke="#A0302A"/><path d="M48.6 303.5l28.2 .2 19.4 .6 16.2 1.2 7.3 .9 7 1 9.9 2.1 8.8 2.5 7.7 3.1 14.6 5.4 15 6 6.3 3.8 6.6 4.6 5.8 4.8 5.5 5.2 5.5 6 5.5 6.8 2.6 3.6 6.6 10.4 2.6 3.6 1.4 1.6 1.1 .9 1.1 .6 1.1 .3 1.1-.1 1.1-.4 2.2-1.7 2.6-2.8 8-10.5 4.8-5.5 7.3-7 6.6-5.1 7.7-4.7 8.5-4.1 9.5-3.7 11-3.3" stroke="#8A3FA8"/><path d="M48.6 303.5l27.9 .2 19 .5 16.1 1 14.3 1.5 9.9 1.7 9.2 2.2 37.7 11.8 8.1 4 8.1 4.7 7.3 5.1 7 5.7 6.6 6.3 3.6 4.2 4.1 5.1 8 11.3 3 3.7 1.4 1.5 1.5 1.2 1.4 .8 1.1 .3 1.5-.1 1.5-.5 1.4-.9 1.5-1.2 2.9-3 8.5-9.9 4-4.3 5.5-5 5.5-4.3 6.2-4 7-3.7 7.3-3.2 8.1-2.9" stroke="#1F1F8F"/><path d="M48.6 303.5l27.5 .1 19 .5 16.2 .8 14.3 1.3 9.9 1.4 9.1 1.7 38.1 9.6 10.3 4.2 9.5 4.7 8.8 5.3 8.5 5.9 6.2 5.5 5.9 6 4.4 5 8.7 10.9 3.3 3.8 1.9 1.7 1.4 1 1.5 .8 1.5 .4 1.4 0 1.5-.4 1.5-.7 1.8-1.4 2.9-2.7 7.4-7.9 4-4 4.8-4.3 4.7-3.7 4.8-3.2 4.8-2.8 5.1-2.6 5.5-2.5" stroke="#F08020"/><path d="M48.6 303.5l27.9 .1 19.4 .4 16.5 .7 14.6 1.2 9.9 1.2 8.8 1.4 37 7.5 4.1 1.2 10.6 3.7 9.9 4.2 10.3 5.2 2.9 1.7 4.4 2.9 8.1 6 7.3 6.5 5.8 5.9 9.9 10.9 4.4 4.5 3 2.2 1.4 .7 1.5 .4 1.5 0 1.8-.4 1.5-.7 1.8-1.1 2.9-2.4 9.6-8.9 5.8-5 6.6-4.8 7-4.2" stroke="#C040C0"/><path d="M48.6 303.5l29 .1 20.1 .4 17.2 .7 15.8 1.1 14.7 1.7 37.7 6.1 12.1 3.2 12.1 3.9 11.4 4.5 8.4 4.1 8.4 5 8.4 5.8 8.5 6.8 5.8 5.4 9.9 10.3 4.1 3.8 3.3 2.3 1.8 .8 1.5 .4 1.8 .1 1.8-.3 2.2-.8 2.2-1.2 3.7-2.7 9.2-7.5 5.1-4" stroke="#2E9A3A"/><path d="M48.6 303.5l29 .1 20.1 .3 17.6 .6 15.8 .9 14.3 1.4 38.1 4.9 14.6 3 12.9 3.4 11.7 3.9 11.7 4.9 5.9 2.9 5.5 3 8 4.9 7 4.9 8.1 6.7 14.3 13.1 3.6 2.8 3 1.7 1.8 .7 1.8 .4 1.5 0 1.8-.1 1.9-.5 1.8-.7 4.4-2.5" stroke="#2B4FC4"/><path d="M48.6 303.5l49.8 .2 35.2 .5 50.6 1.9 28.2 1.7 12.9 1.2 12.8 1.3 12.4 1.6 11.4 1.8 11.4 2.1 11 2.3 10.2 2.5 10.3 2.9" stroke="#E41A1C"/><path d="M48.6 303.5l77.3 .2 78.1 .7 55.3 1.1 45.5 1.6" stroke="#000000"/></g><line x1="48.6" y1="338.55" x2="304.8" y2="338.55" stroke="#888" stroke-width="1" stroke-dasharray="1.5 2"/><line x1="62" y1="502.3" x2="295.2" y2="502.3" stroke="#555" stroke-width="0.9"/><path d="M57.3 502.3 L63.8 500.3 L63.8 504.3Z" fill="#333"/><text x="55.3" y="498.5" font-size="10.2">20 mm</text><text x="291.3" y="497.2" font-size="10.2" text-anchor="end">1 mm</text><rect x="48.6" y="303.5" width="256.2" height="210.25" fill="none" stroke="#000" stroke-width="2.5"/><line x1="49.9" y1="338.55" x2="54.4" y2="338.55" stroke="#000" stroke-width="2.2"/><line x1="49.9" y1="373.6" x2="54.4" y2="373.6" stroke="#000" stroke-width="2.2"/><line x1="49.9" y1="408.65" x2="54.4" y2="408.65" stroke="#000" stroke-width="2.2"/><line x1="49.9" y1="443.7" x2="54.4" y2="443.7" stroke="#000" stroke-width="2.2"/><line x1="49.9" y1="478.75" x2="54.4" y2="478.75" stroke="#000" stroke-width="2.2"/><line x1="49.9" y1="321.02" x2="51.8" y2="321.02" stroke="#000" stroke-width="2.2"/><line x1="49.9" y1="356.07" x2="51.8" y2="356.07" stroke="#000" stroke-width="2.2"/><line x1="49.9" y1="391.12" x2="51.8" y2="391.12" stroke="#000" stroke-width="2.2"/><line x1="49.9" y1="426.18" x2="51.8" y2="426.18" stroke="#000" stroke-width="2.2"/><line x1="49.9" y1="461.23" x2="51.8" y2="461.23" stroke="#000" stroke-width="2.2"/><line x1="49.9" y1="496.27" x2="51.8" y2="496.27" stroke="#000" stroke-width="2.2"/><line x1="93.81" y1="512.5" x2="93.81" y2="508" stroke="#000" stroke-width="2.2"/><line x1="154.09" y1="512.5" x2="154.09" y2="508" stroke="#000" stroke-width="2.2"/><line x1="214.37" y1="512.5" x2="214.37" y2="508" stroke="#000" stroke-width="2.2"/><line x1="274.65" y1="512.5" x2="274.65" y2="508" stroke="#000" stroke-width="2.2"/><line x1="63.67" y1="512.5" x2="63.67" y2="510.6" stroke="#000" stroke-width="2.2"/><line x1="123.95" y1="512.5" x2="123.95" y2="510.6" stroke="#000" stroke-width="2.2"/><line x1="184.23" y1="512.5" x2="184.23" y2="510.6" stroke="#000" stroke-width="2.2"/><line x1="244.51" y1="512.5" x2="244.51" y2="510.6" stroke="#000" stroke-width="2.2"/><line x1="304.79" y1="512.5" x2="304.79" y2="510.6" stroke="#000" stroke-width="2.2"/><text x="43.2" y="308.74" font-size="11.7" text-anchor="end">0</text><text x="43.2" y="343.79" font-size="11.7" text-anchor="end">−10</text><text x="43.2" y="378.84" font-size="11.7" text-anchor="end">−20</text><text x="43.2" y="413.89" font-size="11.7" text-anchor="end">−30</text><text x="43.2" y="448.94" font-size="11.7" text-anchor="end">−40</text><text x="43.2" y="483.99" font-size="11.7" text-anchor="end">−50</text><text x="43.2" y="519.04" font-size="11.7" text-anchor="end">−60</text><text x="93.81" y="528.6" font-size="11.7" text-anchor="middle">4</text><text x="154.09" y="528.6" font-size="11.7" text-anchor="middle">8</text><text x="214.37" y="528.6" font-size="11.7" text-anchor="middle">12</text><text x="274.65" y="528.6" font-size="11.7" text-anchor="middle">16</text><text x="178.2" y="545.6" font-size="11.6" text-anchor="middle">Frequency (GHz)</text><text x="13.2" y="408" font-size="11.8" text-anchor="middle" transform="rotate(-90 13.2 408)">RL (dB)</text><text x="339.1" y="12.1" font-size="16.2" font-weight="bold">b</text><g clip-path="url(#clipb)"><rect x="380.4" y="30.6" width="214.89999999999998" height="210.20000000000002" fill="#E84625"/><path d="M378.4 120.7 381.4 120.7 381.6 122.0 381.8 123.3 382.0 124.7 382.2 126.0 382.4 127.3 382.6 128.6 382.9 129.9 383.1 131.2 383.3 132.5 383.5 133.8 383.8 135.1 384.0 136.4 384.2 137.7 384.5 139.0 384.7 140.3 384.9 141.6 385.2 142.9 385.4 144.2 385.7 145.5 385.9 146.8 386.1 148.1 386.4 149.4 386.6 150.8 386.9 152.1 387.1 153.4 387.3 154.7 387.6 156.0 387.8 157.3 388.0 158.6 388.3 159.9 388.5 161.2 388.7 162.5 388.9 163.8 389.1 165.1 389.4 166.4 389.6 167.7 389.8 169.1 390.0 170.4 390.2 171.7 390.4 173.0 390.6 174.3 390.7 175.6 390.9 177.0 391.1 178.3 391.3 179.6 391.5 180.9 391.7 182.2 391.9 183.5 392.2 184.8 392.5 186.0 392.9 187.3 393.3 188.5 393.8 189.6 394.3 190.8 394.9 191.9 395.6 193.0 396.3 194.0 397.1 195.1 397.9 196.1 398.6 197.2 399.4 198.3 400.1 199.3 400.8 200.5 401.4 201.6 402.1 202.8 402.7 204.0 403.3 205.2 404.0 206.3 404.6 207.5 405.3 208.6 406.1 209.7 406.8 210.8 407.6 211.9 408.4 213.0 409.2 214.0 410.0 215.0 410.9 216.1 411.8 217.1 412.7 218.0 413.6 219.0 414.5 219.9 415.5 220.9 416.4 221.8 417.4 222.6 418.4 223.5 419.5 224.3 420.5 225.1 421.6 225.9 422.7 226.7 423.8 227.4 424.9 228.1 426.0 228.8 427.1 229.5 428.3 230.1 429.5 230.7 430.7 231.3 431.9 231.9 433.1 232.4 434.3 232.9 435.5 233.3 436.8 233.8 438.0 234.2 439.3 234.5 440.6 234.9 441.9 235.2 443.2 235.5 444.5 235.8 445.8 236.1 447.1 236.4 448.4 236.6 449.7 236.8 451.1 237.0 452.4 237.2 453.7 237.4 455.1 237.6 456.4 237.8 457.7 237.9 459.1 238.1 460.4 238.3 461.8 238.4 463.1 238.6 464.4 238.7 465.7 238.9 467.1 239.1 468.4 239.3 469.7 239.5 471.0 239.7 472.3 239.9 473.6 240.1 474.9 240.3 476.2 240.6 477.4 240.9 478.7 241.1 479.9 241.5 480.0 242.8 378.4 242.8Z" fill="#C0C0C0" stroke="#3A2418" stroke-width="0.6" stroke-linejoin="round"/><path d="M395.4 28.6 395.7 30.7 395.9 32.9 396.2 35.0 396.5 37.2 396.8 39.3 397.1 41.4 397.4 43.6 397.7 45.7 398.0 47.8 398.3 50.0 398.7 52.1 399.0 54.2 399.3 56.4 399.6 58.5 399.9 60.6 400.3 62.8 400.6 64.9 400.9 67.0 401.2 69.2 401.5 71.3 401.8 73.4 402.1 75.6 402.4 77.7 402.6 79.8 402.9 82.0 403.2 84.1 403.4 86.3 403.7 88.4 403.9 90.6 404.1 92.8 404.4 94.9 404.7 97.0 405.0 99.2 405.3 101.3 405.7 103.4 406.2 105.5 406.7 107.6 407.3 109.7 408.0 111.7 408.7 113.7 409.4 115.8 410.1 117.8 410.9 119.8 411.6 121.8 412.4 123.9 413.1 125.9 413.9 127.9 414.6 130.0 415.4 132.0 416.1 134.0 416.9 136.0 417.7 138.0 418.5 140.0 419.2 142.0 420.1 144.0 420.9 146.0 421.7 148.0 422.5 150.0 423.4 151.9 424.3 153.9 425.2 155.8 426.2 157.8 427.1 159.7 428.1 161.6 429.2 163.5 430.2 165.4 431.3 167.3 432.4 169.2 433.6 171.0 434.7 172.8 436.0 174.5 437.2 176.3 438.5 178.0 439.8 179.6 441.2 181.2 442.7 182.8 444.2 184.4 445.7 185.9 447.3 187.4 448.9 188.9 450.4 190.4 451.9 191.9 453.4 193.5 454.8 195.1 456.3 196.7 457.8 198.2 459.4 199.6 461.0 201.0 462.7 202.3 464.5 203.5 466.3 204.7 468.1 205.8 470.0 206.8 471.9 207.9 473.8 208.9 475.8 209.8 477.7 210.7 479.7 211.6 481.7 212.5 483.7 213.4 485.7 214.2 487.7 215.0 489.7 215.8 491.7 216.6 493.7 217.4 495.8 218.1 497.8 218.8 499.8 219.5 501.9 220.2 503.9 220.9 505.9 221.5 508.0 222.2 510.1 222.8 512.1 223.4 514.2 223.9 516.3 224.5 518.4 225.0 520.5 225.5 522.6 226.0 524.7 226.5 526.8 226.9 528.9 227.3 531.0 227.8 533.1 228.2 535.2 228.6 537.3 228.9 539.5 229.3 541.6 229.7 543.7 230.0 545.9 230.3 548.0 230.7 550.1 231.0 552.3 231.3 554.4 231.6 556.6 231.8 558.7 232.1 560.9 232.4 563.0 232.7 565.2 232.9 567.3 233.2 569.5 233.4 571.6 233.7 573.8 233.9 575.9 234.1 578.0 234.4 580.2 234.6 582.3 234.8 584.5 235.1 586.6 235.3 588.7 235.5 590.9 235.8 593.0 236.0 595.1 236.2 597.3 236.5 597.3 241.0 594.9 240.9 592.5 240.9 590.2 240.8 587.8 240.7 585.4 240.6 583.0 240.4 580.7 240.3 578.3 240.1 576.0 239.9 573.6 239.7 571.3 239.5 568.9 239.3 566.6 239.1 564.2 238.8 561.9 238.6 559.5 238.4 557.2 238.1 554.8 237.9 552.4 237.7 550.1 237.4 547.7 237.2 545.4 237.0 543.0 236.8 540.6 236.6 538.2 236.4 535.9 236.2 533.5 236.0 531.1 235.8 528.7 235.6 526.4 235.4 524.0 235.2 521.6 235.0 519.2 234.7 516.9 234.4 514.5 234.1 512.2 233.8 509.8 233.5 507.5 233.1 505.1 232.7 502.8 232.3 500.5 231.8 498.2 231.3 495.9 230.8 493.6 230.2 491.4 229.6 489.1 228.9 486.9 228.2 484.7 227.5 482.4 226.7 480.2 226.0 478.0 225.1 475.8 224.3 473.6 223.4 471.4 222.6 469.2 221.7 467.0 220.8 464.8 219.8 462.5 218.9 460.3 217.9 458.1 217.0 455.9 216.0 453.7 215.0 451.6 214.0 449.4 213.0 447.3 211.9 445.2 210.8 443.2 209.6 441.2 208.3 439.2 207.0 437.4 205.6 435.6 204.1 433.9 202.5 432.3 200.8 430.7 199.0 429.3 197.2 427.9 195.3 426.6 193.3 425.4 191.3 424.3 189.2 423.3 187.1 422.3 185.0 421.3 182.8 420.4 180.6 419.5 178.4 418.6 176.2 417.7 173.9 416.9 171.7 416.0 169.5 415.1 167.2 414.2 165.0 413.3 162.8 412.4 160.6 411.5 158.4 410.6 156.2 409.7 154.0 408.8 151.8 407.9 149.6 407.0 147.4 406.2 145.1 405.3 142.9 404.5 140.7 403.7 138.5 402.9 136.2 402.2 134.0 401.5 131.7 400.8 129.5 400.1 127.2 399.5 124.9 398.9 122.7 398.3 120.4 397.8 118.1 397.3 115.8 396.8 113.5 396.3 111.1 395.8 108.8 395.4 106.5 395.0 104.2 394.6 101.8 394.2 99.5 393.9 97.2 393.5 94.8 393.2 92.5 392.9 90.1 392.6 87.7 392.3 85.4 392.1 83.0 391.8 80.7 391.6 78.3 391.3 75.9 391.1 73.5 390.9 71.2 390.7 68.8 390.5 66.4 390.3 64.1 390.1 61.7 390.0 59.3 389.8 56.9 389.6 54.6 389.5 52.2 389.3 49.8 389.1 47.5 389.0 45.1 388.8 42.7 388.6 40.4 388.5 38.0 388.3 35.7 388.1 33.3 387.9 31.0 387.7 28.6Z" fill="#F59D22" stroke="#3A2418" stroke-width="0.6" stroke-linejoin="round"/><path d="M389.8 28.6 390.0 31.1 390.2 33.7 390.4 36.2 390.6 38.8 390.8 41.4 391.0 43.9 391.1 46.5 391.3 49.1 391.5 51.6 391.7 54.2 391.9 56.8 392.2 59.3 392.4 61.9 392.6 64.5 392.8 67.0 393.1 69.6 393.3 72.1 393.6 74.7 393.9 77.3 394.2 79.8 394.5 82.4 394.8 84.9 395.1 87.5 395.5 90.0 395.8 92.5 396.2 95.1 396.6 97.6 397.1 100.1 397.5 102.7 398.0 105.2 398.5 107.7 399.0 110.2 399.6 112.7 400.2 115.2 400.8 117.6 401.4 120.1 402.1 122.6 402.8 125.0 403.5 127.5 404.3 129.9 405.1 132.3 405.9 134.8 406.7 137.2 407.6 139.6 408.5 142.0 409.5 144.4 410.4 146.8 411.4 149.1 412.4 151.5 413.4 153.9 414.4 156.2 415.5 158.6 416.5 161.0 417.6 163.3 418.6 165.6 419.7 168.0 420.8 170.3 421.9 172.7 422.9 175.0 424.0 177.3 425.1 179.7 426.1 182.0 427.2 184.3 428.2 186.6 431.3 186.6 431.8 184.2 431.9 181.7 431.7 179.3 431.2 177.0 430.5 174.6 429.7 172.2 428.7 169.9 427.6 167.5 426.5 165.2 425.3 162.8 424.1 160.5 423.0 158.2 421.8 155.8 420.7 153.5 419.5 151.1 418.3 148.8 417.2 146.5 416.1 144.1 415.0 141.8 413.9 139.4 412.9 137.0 411.9 134.7 410.9 132.3 409.9 129.9 409.0 127.4 408.2 125.0 407.4 122.6 406.6 120.1 405.9 117.7 405.1 115.2 404.5 112.7 403.8 110.3 403.2 107.8 402.6 105.3 402.1 102.7 401.6 100.2 401.1 97.7 400.6 95.2 400.1 92.6 399.7 90.1 399.3 87.5 398.9 85.0 398.5 82.4 398.2 79.9 397.8 77.3 397.5 74.7 397.2 72.2 396.9 69.6 396.6 67.0 396.3 64.4 396.0 61.9 395.7 59.3 395.4 56.7 395.1 54.2 394.8 51.6 394.5 49.0 394.2 46.5 393.9 43.9 393.6 41.3 393.3 38.8 393.0 36.2 392.7 33.7 392.3 31.2 392.0 28.6Z" fill="#EEE428" stroke="#3A2418" stroke-width="0.6" stroke-linejoin="round"/><path d="M390.8 28.6 391.2 31.6 391.6 34.7 391.9 37.7 392.2 40.7 392.6 43.8 392.9 46.8 393.2 49.8 393.5 52.9 393.8 55.9 394.1 58.9 394.4 62.0 394.7 65.0 395.0 68.1 395.3 71.1 395.7 74.1 396.0 77.2 396.4 80.2 396.7 83.2 397.1 86.2 397.5 89.3 398.0 92.3 398.4 95.3 398.9 98.3 399.4 101.3 400.0 104.3 400.5 107.3 401.1 110.3 401.8 113.3 402.4 116.2 403.1 119.2 403.9 122.2 404.7 125.1 405.5 128.0 406.4 131.0" fill="none" stroke="#3F6A38" stroke-width="0.8"/><path d="M406.2 131.7 406.7 133.1 407.2 134.6 407.8 136.0 408.4 137.4 409.0 138.8 409.6 140.3 410.2 141.7 410.9 143.1 411.5 144.5 412.2 145.9 412.8 147.3 413.5 148.7 414.1 150.0 414.8 151.4 415.5 152.8 416.2 154.2 416.8 155.6 417.5 157.0 418.2 158.4 418.9 159.7 419.5 161.1 420.2 162.5 420.8 163.9 421.5 165.3 422.1 166.7 422.7 168.1 423.3 169.6 423.9 171.0 424.5 172.4 425.0 173.9 425.5 175.3 426.1 176.8 426.6 178.2 427.0 179.7" fill="none" stroke="#3A2418" stroke-width="3.6" stroke-linecap="round"/><path d="M406.2 131.7 406.7 133.1 407.2 134.6 407.8 136.0 408.4 137.4 409.0 138.8 409.6 140.3 410.2 141.7 410.9 143.1 411.5 144.5 412.2 145.9 412.8 147.3 413.5 148.7 414.1 150.0 414.8 151.4 415.5 152.8 416.2 154.2 416.8 155.6 417.5 157.0 418.2 158.4 418.9 159.7 419.5 161.1 420.2 162.5 420.8 163.9 421.5 165.3 422.1 166.7 422.7 168.1 423.3 169.6 423.9 171.0 424.5 172.4 425.0 173.9 425.5 175.3 426.1 176.8 426.6 178.2 427.0 179.7" fill="none" stroke="#6CC06E" stroke-width="2.6" stroke-linecap="round"/><path d="M408.3 136.6 408.8 138.1 409.3 139.6 409.8 141.1 410.4 142.6 411.1 144.0 411.7 145.5 412.4 146.9 413.1 148.3 413.8 149.7 414.6 151.2 415.3 152.6 416.0 154.0 416.8 155.4 417.5 156.8 418.2 158.2 418.9 159.6 419.6 161.1 420.2 162.5 420.8 163.9 421.4 165.4 421.9 166.9 422.4 168.4 422.8 169.9 423.2 171.5" fill="none" stroke="#1E1B55" stroke-width="1.3" stroke-linecap="round"/><ellipse cx="437.9" cy="194.5" rx="5.4" ry="4.8" transform="rotate(25 437.9 194.5)" fill="#EEE428" stroke="#3A2418" stroke-width="0.6"/><ellipse cx="448.6" cy="204.3" rx="4.8" ry="3.6" transform="rotate(32 448.6 204.3)" fill="#EEE428" stroke="#3A2418" stroke-width="0.6"/><ellipse cx="459.8" cy="211.3" rx="3.7" ry="2.0" transform="rotate(25 459.8 211.3)" fill="#EEE428" stroke="#3A2418" stroke-width="0.6"/><circle cx="471" cy="216.8" r="0.7" fill="#EEE428" stroke="#3A2418" stroke-width="0.5"/><path d="M436.5 36.0 436.1 36.5 435.6 37.2 435.2 38.1 434.8 39.1 434.4 40.2 434.0 41.3 433.7 42.3 433.5 43.3 433.2 44.2 433.1 45.2 432.9 46.1 432.8 47.1 432.7 48.0 432.7 48.9 432.7 49.9 432.7 50.8 432.7 51.7 432.8 52.7 432.9 53.6 433.0 54.6 433.1 55.5 433.3 56.5 433.4 57.4 433.6 58.4 433.8 59.4 434.0 60.4 434.2 61.4 434.4 62.3 434.7 63.3 434.9 64.3 435.2 65.3 435.5 66.3 435.9 67.1 436.4 67.9 437.0 68.6 437.7 69.1 438.6 69.5 439.5 69.8 440.5 70.1 441.4 70.5 442.2 70.9 442.9 71.5 443.4 72.3 443.9 73.1 444.1 74.0 444.3 75.0 444.4 76.0 444.5 76.9 444.5 77.9 444.5 78.9 444.4 79.9 444.5 80.9 444.5 81.9 444.7 82.9 444.8 83.8 445.0 84.7 445.3 85.7 445.5 86.6 445.8 87.5 446.0 88.5 446.2 89.4 446.4 90.4 446.6 91.4 446.7 92.4 446.8 93.4 447.0 94.5 447.1 95.4 447.4 96.4 447.7 97.3 448.1 98.1 448.7 98.8 449.3 99.5 450.1 100.1 450.9 100.7 451.7 101.2 452.4 101.9 453.0 102.6 453.5 103.3 453.9 104.2 454.2 105.1 454.5 106.0 454.7 107.0 454.9 108.0 455.0 109.0 455.2 110.0 455.4 111.0 455.6 112.0 455.8 112.9 456.1 113.9 456.3 114.9 456.6 115.8 457.0 116.7 457.4 117.5 457.8 118.4 458.3 119.2 458.9 119.9 459.5 120.6 460.3 121.3 461.0 121.9 461.8 122.5 462.6 123.1 463.4 123.7 464.1 124.3 464.8 125.0 465.3 125.8 465.8 126.6 466.2 127.4 466.6 128.3 467.0 129.2 467.4 130.1 467.8 131.0 468.3 131.9 468.8 132.8 469.4 133.6 470.0 134.3 470.6 135.0 471.4 135.7 472.1 136.2 473.0 136.7 473.8 137.2 474.7 137.7 475.5 138.2 476.3 138.7 477.0 139.4 477.6 140.1 478.2 140.9 478.7 141.7 479.2 142.5 479.7 143.4 480.2 144.3 480.7 145.2 481.2 146.0 481.8 146.8 482.4 147.5 483.1 148.1 483.9 148.7 484.7 149.1 485.6 149.5 486.5 149.9 487.3 150.4 488.1 151.0 488.8 151.6 489.4 152.3 490.0 153.1 490.6 153.9 491.2 154.6 491.8 155.4 492.5 156.1 493.2 156.7 493.9 157.4 494.7 158.0 495.5 158.5 496.3 159.1 497.1 159.6 497.9 160.2 498.7 160.7 499.6 161.2 500.4 161.7 501.3 162.2 502.1 162.7 502.9 163.2 503.7 163.7 504.6 164.2 505.4 164.7 506.2 165.3 506.9 165.8 507.7 166.4 508.5 167.0 509.2 167.6 510.0 168.2 510.7 168.9 511.4 169.6 512.1 170.2 512.8 170.9 513.5 171.6 514.2 172.3 514.9 173.0 515.6 173.7 516.3 174.4 517.0 175.0 517.7 175.6 518.5 176.2 519.2 176.7 520.0 177.3 520.9 177.7 521.7 178.2 522.5 178.6 523.4 179.0 524.3 179.4 525.2 179.8 526.1 180.1 527.0 180.5 527.9 180.8 528.8 181.2 529.7 181.5 530.7 181.8 531.6 182.1 532.5 182.5 533.4 182.8 534.3 183.2 535.3 183.5 536.2 183.9 537.1 184.2 538.0 184.6 538.9 185.0 539.8 185.3 540.7 185.7 541.7 186.0 542.6 186.4 543.5 186.8 544.4 187.1 545.3 187.5 546.2 187.9 547.1 188.2 548.0 188.6 548.9 188.9 549.8 189.3 550.7 189.6 551.6 190.0 552.5 190.3 553.4 190.6 554.3 190.9 555.2 191.2 556.1 191.6 557.0 191.8 557.9 192.1 558.8 192.4 559.7 192.7 560.6 192.9 561.5 193.2 562.4 193.4 563.3 193.7 564.2 193.9 565.1 194.2 566.1 194.4 567.0 194.7 567.9 194.9 568.9 195.2 569.8 195.4 570.8 195.7 571.7 196.0 572.7 196.3 573.7 196.6 574.7 197.0 575.7 197.3 576.7 197.7 577.7 198.1 578.8 198.4 579.8 198.8 580.7 199.2 581.7 199.4 582.5 199.7 583.3 199.8 584.0 199.9 584.5 199.8 584.7 199.7 584.7 199.4 584.3 199.1 583.8 198.8 583.0 198.5 582.2 198.1 581.2 197.8 580.2 197.5 579.1 197.2 578.0 196.8 576.8 196.5 575.7 196.2 574.6 195.8 573.6 195.5 572.6 195.2 571.6 194.8 570.6 194.5 569.6 194.1 568.7 193.8 567.8 193.5 566.9 193.1 566.0 192.8 565.1 192.4 564.3 192.1 563.4 191.7 562.6 191.3 561.7 191.0 560.9 190.6 560.0 190.2 559.2 189.8 558.4 189.5 557.5 189.1 556.7 188.7 555.8 188.2 555.0 187.8 554.1 187.4 553.3 187.0 552.4 186.6 551.6 186.1 550.7 185.7 549.8 185.2 549.0 184.8 548.1 184.3 547.3 183.9 546.4 183.4 545.5 183.0 544.7 182.5 543.8 182.1 542.9 181.6 542.1 181.1 541.2 180.6 540.3 180.2 539.5 179.7 538.6 179.2 537.7 178.8 536.9 178.3 536.0 177.8 535.2 177.3 534.3 176.9 533.4 176.4 532.6 175.9 531.7 175.4 530.9 175.0 530.0 174.5 529.2 174.0 528.4 173.6 527.5 173.1 526.7 172.6 525.9 172.1 525.0 171.6 524.2 171.1 523.4 170.6 522.6 170.0 521.9 169.5 521.1 168.9 520.3 168.3 519.6 167.7 518.8 167.1 518.1 166.5 517.4 165.8 516.7 165.2 516.0 164.5 515.3 163.8 514.5 163.1 513.8 162.5 513.1 161.8 512.4 161.2 511.6 160.5 510.9 159.9 510.1 159.4 509.3 158.8 508.5 158.3 507.6 157.9 506.8 157.4 506.0 156.9 505.1 156.4 504.3 155.8 503.6 155.2 502.9 154.6 502.1 154.0 501.5 153.3 500.8 152.6 500.2 151.8 499.5 151.1 498.9 150.3 498.3 149.6 497.6 148.8 497.0 148.1 496.3 147.4 495.5 146.8 494.7 146.3 493.8 145.8 492.9 145.5 492.0 145.1 491.1 144.7 490.3 144.2 489.6 143.7 489.0 142.9 488.6 142.1 488.1 141.3 487.7 140.4 487.3 139.4 486.9 138.5 486.4 137.7 485.9 136.9 485.3 136.1 484.7 135.3 484.0 134.6 483.3 133.9 482.6 133.2 482.0 132.5 481.3 131.8 480.6 131.1 479.9 130.4 479.3 129.7 478.7 128.9 478.1 128.2 477.5 127.4 477.0 126.6 476.5 125.7 476.1 124.9 475.6 124.0 475.2 123.2 474.8 122.3 474.3 121.5 473.8 120.6 473.3 119.8 472.7 119.1 472.0 118.3 471.4 117.6 470.7 116.9 470.0 116.2 469.3 115.5 468.7 114.8 468.0 114.1 467.4 113.3 466.8 112.6 466.2 111.8 465.7 111.0 465.3 110.1 464.9 109.3 464.6 108.4 464.3 107.4 464.0 106.5 463.7 105.6 463.3 104.6 463.0 103.7 462.6 102.8 462.2 101.9 461.7 101.1 461.2 100.2 460.6 99.5 460.0 98.7 459.3 98.1 458.5 97.4 457.8 96.8 457.1 96.2 456.4 95.5 456.0 94.7 455.6 93.8 455.4 92.9 455.3 91.9 455.2 90.9 455.1 89.9 455.0 88.9 454.8 88.0 454.6 87.0 454.4 86.1 454.2 85.1 453.9 84.2 453.7 83.3 453.4 82.4 453.2 81.4 452.9 80.5 452.6 79.6 452.4 78.7 452.1 77.7 451.8 76.8 451.5 75.9 451.2 74.9 450.9 74.0 450.6 73.1 450.2 72.1 449.8 71.2 449.4 70.4 448.8 69.6 448.2 68.9 447.4 68.3 446.6 67.8 445.8 67.2 445.1 66.6 444.6 65.9 444.2 65.0 443.9 64.1 443.7 63.1 443.6 62.1 443.6 61.1 443.5 60.1 443.5 59.1 443.4 58.2 443.3 57.3 443.1 56.4 442.9 55.5 442.8 54.7 442.5 53.8 442.3 52.8 442.1 51.8 441.8 50.8 441.5 49.6 441.3 48.4 441.0 47.1 440.7 45.8 440.4 44.5 440.1 43.1 439.8 41.8 439.5 40.6 439.2 39.4 438.8 38.4 438.5 37.5 438.1 36.8 437.7 36.2 437.3 35.9 436.9 35.8 436.5 36.0Z" fill="#F59D22" stroke="#3A2418" stroke-width="0.6" stroke-linejoin="round"/><path d="M576 196.8 L586.5 200.3" stroke="#3A2418" stroke-width="0.6"/><ellipse cx="586.3" cy="200.3" rx="1.6" ry="0.9" fill="#F59D22" stroke="#3A2418" stroke-width="0.4"/></g><rect x="380.4" y="30.6" width="214.89999999999998" height="210.20000000000002" fill="none" stroke="#2a2a2a" stroke-width="0.9"/><line x1="397.32" y1="240.8" x2="397.32" y2="243.2" stroke="#222" stroke-width="1"/><line x1="425.52" y1="240.8" x2="425.52" y2="244.4" stroke="#222" stroke-width="1"/><line x1="453.72" y1="240.8" x2="453.72" y2="243.2" stroke="#222" stroke-width="1"/><line x1="481.92" y1="240.8" x2="481.92" y2="244.4" stroke="#222" stroke-width="1"/><line x1="510.12" y1="240.8" x2="510.12" y2="243.2" stroke="#222" stroke-width="1"/><line x1="538.32" y1="240.8" x2="538.32" y2="244.4" stroke="#222" stroke-width="1"/><line x1="566.52" y1="240.8" x2="566.52" y2="243.2" stroke="#222" stroke-width="1"/><line x1="594.72" y1="240.8" x2="594.72" y2="244.4" stroke="#222" stroke-width="1"/><line x1="380.4" y1="221.5" x2="378.2" y2="221.5" stroke="#222" stroke-width="1"/><line x1="380.4" y1="190.68" x2="376" y2="190.68" stroke="#222" stroke-width="1"/><line x1="380.4" y1="159.86" x2="378.2" y2="159.86" stroke="#222" stroke-width="1"/><line x1="380.4" y1="129.03" x2="376" y2="129.03" stroke="#222" stroke-width="1"/><line x1="380.4" y1="98.21" x2="378.2" y2="98.21" stroke="#222" stroke-width="1"/><line x1="380.4" y1="67.38" x2="376" y2="67.38" stroke="#222" stroke-width="1"/><line x1="380.4" y1="36.56" x2="378.2" y2="36.56" stroke="#222" stroke-width="1"/><text x="426.32" y="259.1" font-size="11.7" text-anchor="middle">5</text><text x="482.72" y="259.1" font-size="11.7" text-anchor="middle">10</text><text x="539.12" y="259.1" font-size="11.7" text-anchor="middle">15</text><text x="595.52" y="259.1" font-size="11.7" text-anchor="middle">20</text><text x="372.5" y="195.28" font-size="11.7" text-anchor="end">5</text><text x="372.5" y="133.63" font-size="11.7" text-anchor="end">10</text><text x="372.5" y="71.98" font-size="11.7" text-anchor="end">15</text><text x="486.6" y="275.9" font-size="11.8" text-anchor="middle">d (mm)</text><text x="349.4" y="143.2" font-size="11.8" text-anchor="middle" transform="rotate(-90 349.4 143.2)">f (GHz)</text><rect x="603.5" y="63.2" width="57.7" height="22.09" fill="#C0C0C0"/><rect x="603.5" y="84.99" width="57.7" height="22.09" fill="#E84625"/><rect x="603.5" y="106.77" width="57.7" height="22.09" fill="#F59D22"/><rect x="603.5" y="128.56" width="57.7" height="22.09" fill="#EEE428"/><rect x="603.5" y="150.34" width="57.7" height="22.09" fill="#6CC06E"/><rect x="603.5" y="172.13" width="57.7" height="22.09" fill="#322E87"/><rect x="603.5" y="193.91" width="57.7" height="22.09" fill="#000"/><text x="665.4" y="89.99" font-size="11.7">0</text><text x="665.4" y="111.77" font-size="11.7">−10</text><text x="665.4" y="133.56" font-size="11.7">−20</text><text x="665.4" y="155.34" font-size="11.7">−30</text><text x="665.4" y="177.13" font-size="11.7">−40</text><text x="665.4" y="198.91" font-size="11.7">−50</text><text x="635.2" y="230.2" font-size="11.3" text-anchor="middle">RL (dB)</text><text x="-0.3" y="12" font-size="16.2" font-weight="bold">a</text><line x1="91.17" y1="189.78" x2="92.24" y2="29.77" stroke="#d8d8d8" stroke-width="0.7"/><line x1="136.49" y1="183.99" x2="139.1" y2="27.95" stroke="#d8d8d8" stroke-width="0.7"/><line x1="179.58" y1="178.49" x2="183.59" y2="26.21" stroke="#d8d8d8" stroke-width="0.7"/><line x1="47.78" y1="36.21" x2="216.16" y2="29.23" stroke="#d8d8d8" stroke-width="0.7"/><line x1="47.94" y1="92.43" x2="214.45" y2="80.45" stroke="#d8d8d8" stroke-width="0.7"/><line x1="214.45" y1="80.45" x2="316.78" y2="119.43" stroke="#d8d8d8" stroke-width="0.7"/><line x1="48.1" y1="147.31" x2="212.78" y2="130.57" stroke="#d8d8d8" stroke-width="0.7"/><line x1="212.78" y1="130.57" x2="313.61" y2="176.02" stroke="#d8d8d8" stroke-width="0.7"/><line x1="230.22" y1="184.12" x2="235.98" y2="30.92" stroke="#d8d8d8" stroke-width="0.7"/><line x1="255.28" y1="196.96" x2="262.13" y2="38.86" stroke="#d8d8d8" stroke-width="0.7"/><line x1="282.09" y1="210.7" x2="290.17" y2="47.37" stroke="#d8d8d8" stroke-width="0.7"/><line x1="310.84" y1="225.43" x2="320.31" y2="56.53" stroke="#d8d8d8" stroke-width="0.7"/><path d="M216.3 24.94 L320.31 56.53" stroke="#d8d8d8" stroke-width="0.7" fill="none"/><line x1="91.17" y1="189.78" x2="180.98" y2="247.23" stroke="#d8d8d8" stroke-width="0.7"/><line x1="136.49" y1="183.99" x2="230.26" y2="238.96" stroke="#d8d8d8" stroke-width="0.7"/><line x1="179.58" y1="178.49" x2="276.78" y2="231.15" stroke="#d8d8d8" stroke-width="0.7"/><line x1="64.34" y1="206.5" x2="230.22" y2="184.12" stroke="#d8d8d8" stroke-width="0.7"/><line x1="85.82" y1="221.5" x2="255.28" y2="196.96" stroke="#d8d8d8" stroke-width="0.7"/><line x1="108.95" y1="237.66" x2="282.09" y2="210.7" stroke="#d8d8d8" stroke-width="0.7"/><path d="M211.32 174.44 L310.84 225.43 L133.95 255.12" stroke="#555" stroke-width="0.8" fill="none"/><g fill="none" stroke-width="0.75" stroke-linejoin="round"><path stroke="#f28c46" d="M52.9 36l48.4-1.9 47.2-1.5 33.2-.5 26.9 .1M53.9 36.4l35.5-1.4 25.7-.7 34.6-.5 26.6 .3M55 36.8l31.1-1.2 21.6-.5 33.5 .1 12.3 .4M56 37.3l26.8-1.1 18.9-.3 14.2 .1 18.2 .9M57 37.7l22.4-.9 16.1-.2 14.4 .3 11.3 .9M57.4 37.9l22.5-.9 14.6-.2 13 .4 11.4 1M57.9 38l20.9-.7 13.2-.2 13.1 .4 10 .9M58.3 38.2l19.5-.7 13.2-.2 11.6 .4 10 1M58.7 38.4l19.5-.7 13.2-.1 10.2 .4 10.1 1.1M59.1 38.5l18-.6 13.3-.1 10.2 .5 8.6 1.1M59.5 38.7l18-.6 11.9 0 8.7 .4 8.7 1M59.9 38.9l16.6-.6 11.8 0 8.8 .4 8.7 1.2M60.4 39.1l16.5-.6 10.4 0 8.8 .4 8.7 1.2M60.8 39.2l16.5-.5 10.4 0 8.8 .6 7.3 1.1M61.2 39.4l15.1-.5 10.4 0 8.8 .5 7.3 1.2M61.6 39.6l15.1-.5 10.4 0 7.4 .5 7.3 1.2M62 39.7l15.1-.4 10.4 0 7.4 .5 7.3 1.3M62.5 39.9l13.6-.4 10.4 0 7.4 .5 7.3 1.2M62.9 40.1l13.6-.4 8.9 0 7.4 .4 7.4 1.1M63.3 40.3l13.6-.5 10.5 .1 7.3 .7 5.9 1.1M63.7 40.4l13.6-.4 9 .1 7.4 .6 5.9 1M64.1 40.6l12.2-.4 9 .1 7.4 .5 5.9 1.1M64.6 40.8l12.1-.4 9 .1 7.4 .7 5.9 1.2M65 41l12.1-.4 9 .2 6 .5 5.9 1.3M65.4 41.1l12.2-.3 7.5 .1 5.9 .6 5.9 1.2M65.8 41.3l10.7-.3 7.5 .1 6 .5 5.9 1.2M66.3 41.5l10.6-.3 7.5 .1 6 .6 5.9 1.4M66.7 41.7l10.6-.3 7.6 .2 6 .6 4.4 1.1M67.1 41.9l10.7-.3 7.5 .2 6 .8 4.4 1.2M67.6 42l9.1-.2 7.5 .2 6 .6 4.5 1.2M68 42.2l9.1-.2 7.6 .2 6 .8 4.4 1.2M68.4 42.4l9.2-.2 6 .1 6 .7 4.5 1.2M68.8 42.6l9.2-.2 7.6 .3 4.5 .6 4.4 1.4M69.3 42.8l9.1-.2 6.1 .2 4.5 .6 4.5 1.2M69.7 42.9l9.2-.1 6 .3 4.5 .6 4.5 1.3M74.1 44.8l6.1-.1 4.6 .3 4.6 .9 3 1.1M78.5 46.6l7.7 .4 3.1 .7 3 1.3M83 48.6l3.1 .1 3.1 .5 3.1 1.1 1.5 .9M87.5 50.6l4.7 .8 3.1 1.5M92.1 52.7l3.2 .8 1.5 .7 1.6 1.2M96.8 54.9l1.6 .5 1.6 .9 1.5 1.4M101.6 57.3l1.6 .9 1.5 1.5M106.4 59.9l1.6 1.5M52.9 36l25.6 10.6 13.6 6.1 9.5 4.6 9.7 5.6M54.4 35.9l21.2 8.8 13.5 6 9.3 4.7 4.8 2.8 4.8 3.2M55.9 35.9l16.9 6.9 13.3 5.9 9.2 4.8 4.7 2.8 4.7 3.4M57.4 35.8l16.9 7 13.3 6.1 4.6 2.5 4.6 2.8 4.7 3.5M58.9 35.7l16.1 6.7 9.7 4.4 4.5 2.4 4.5 2.8 4.7 3.4M60.4 35.7l12.6 5.2 8.7 3.9 4.5 2.2 4.5 2.6 4.6 3.3M61.9 35.6l12.6 5.3 8.8 4 4.4 2.4 4.6 3M63.4 35.6l12.7 5.2 8.7 4.2 4.5 2.7 4.5 3.5M64.9 35.5l16.6 7.1 4.8 2.6 4.5 3M66.4 35.4l10.9 4.6 6.1 2.9 4.4 2.6 4.5 3.5M67.9 35.4l10.9 4.6 6.1 3.1 4.5 2.8 4.4 4.1M69.3 35.3l13.6 6 3.5 1.9 4.5 3.2M70.8 35.3l10.2 4.3 3.4 1.7 3.5 2.1 4.5 3.6M72.3 35.2l10.2 4.4 3.9 2.1 3 2 4.5 4.2M73.8 35.1l11 5 3.5 2 2.6 1.9M75.2 35.1l11.1 5 3.5 2.2 2.6 2.2M76.7 35l5.1 2.2 6 3 3.1 2 2.6 2.4M78.2 35l5 2.2 6.1 3 2.6 2 2.2 2M79.6 34.9l5.1 2.2 5.6 3 2.2 1.6 2.2 2.1M81.1 34.9l5.1 2.2 5.6 3.1 3.5 3.1M82.5 34.8l5.2 2.3 5.1 3 1.3 .9 2.2 2.3M84 34.7l4.3 1.9 2.5 1.5 4.4 2.8 1.7 1.8M85.5 34.7l3.1 1.4 3.3 1.8 4.3 2.9 1.8 1.8M86.9 34.6l3.2 1.4 2.8 1.6 4.3 3.1 1.8 1.7M88.4 34.6l5.5 2.8 5.7 4.3M89.8 34.5l5.1 2.6 5.7 4.6M91.3 34.5l3.2 1.5 1.9 1.1 4.8 4.1M92.7 34.4l4.7 2.5 1.8 1.3 2.6 2.6M94.1 34.4l4.8 2.5 1.7 1.4 2.2 2.3M95.6 34.3l3.2 1.6 1.5 1 3.5 3.5M97 34.2l4.3 2.4 1.8 1.5 1.7 2M98.4 34.2l4.4 2.5 1.7 1.6 1.3 1.6M99.9 34.1l2.1 1.1 2.2 1.5 2.6 2.8M101.3 34.1l2.2 1.1 2.1 1.5 2.6 3.1M102.7 34l3.3 1.9 1.5 1.3 1.7 2.2M104.1 34l3.3 1.9 1.5 1.4 1.3 1.6M105.6 33.9l3.2 2 1.5 1.5 1.4 1.7M107 33.9l3.2 2 2.4 2.8M108.4 33.9l3.3 2 2.4 3M109.8 33.8l3.3 2.2 2 2.4M111.2 33.8l3.3 2.2 2 2.6M112.6 33.7l3.3 2.3 1.5 2M114.1 33.7l2.1 1.4 1.1 1 1.6 2.1M115.5 33.6l2.1 1.5 1.1 1 1.1 1.5M116.9 33.6l2.1 1.5 1.1 1.1 1.1 1.6M118.3 33.5l2.2 1.6 1 1.2 1.1 1.7M119.7 33.5l2.2 1.6 1.1 1.2 1 1.9M121.1 33.5l2.2 1.6 1.1 1.3 1 2M122.5 33.4l2.2 1.8 1 1.3M123.8 33.4l2.2 1.8 1.1 1.4M125.2 33.3l2.2 1.9 1.1 1.4M126.6 33.3l2.2 1.9 1.1 1.5M128 33.2l2.2 2 1.1 1.5M129.4 33.2l2.2 2 1.1 1.6M130.8 33.2l2.2 2 1.1 1.7M132.2 33.1l2.2 2.1 1.1 1.7M133.5 33.1l2.2 2.1 1.1 1.8M134.9 33l2.2 2.2 1.1 1.8M136.3 33l2.2 2.2 1.1 1.9M137.7 32.9l2.2 2.3 1.1 1.9M139 32.9l2.2 2.3 1.1 2M140.4 32.9l1.1 .9 1.1 1.4M141.8 32.8l1.1 1 1.1 1.5M143.1 32.8l1.1 1 1.1 1.5M144.5 32.7l1.1 1.1 1.1 1.5M145.8 32.7l1.1 1.1 1.2 1.6M147.2 32.7l1.1 1.1 1.1 1.6M148.5 32.6l1.2 1.2 1.1 1.7M149.9 32.6l1.1 1.2 1.1 1.7M151.2 32.6l1.2 1.2 1.1 1.8M152.6 32.5l1.1 1.3 1.1 1.9M153.9 32.5l1.2 1.3 1.1 1.9M155.3 32.5l1.1 1.3 1.1 2M156.6 32.5l1.1 1.3 1.1 2.1M158 32.4l1.1 1.4 1.1 2.2M159.3 32.4l1.1 1.4 1.1 2.2M160.6 32.4l1.2 1.4M162 32.3l1.1 1.5M163.3 32.3l1.1 1.5M164.6 32.3l1.1 1.6M165.9 32.3l1.2 1.6M167.3 32.2l1.1 1.7M168.6 32.2l1.1 1.7M169.9 32.2l1.1 1.8M171.2 32.2l1.2 1.8M172.5 32.2l1.2 1.8M173.9 32.2l1.1 1.9M175.2 32.1l1.1 2M176.5 32.1l1.1 2M177.8 32.1l1.1 2.1M179.1 32.1l1.1 2.1M180.4 32.1l1.1 2.2M181.7 32.1l1.1 2.2M183 32.1l1.1 2.3M184.3 32.1l1.1 2.4M185.6 32l1.1 2.5M186.9 32l1.1 2.6"/><path stroke="#f49a3f" d="M176.3 34.1l16.8 .8 16.5 1.5M153.5 35.6l10.7 .6 9.2 .9 9.2 1.2 7.7 1.3M134.1 36.9l9.6 .4 8.2 .8 9.4 1.3 7.9 1.6M121.2 37.8l22.2 2.7 8.2 1.8M118.9 38.2l23.6 3.8 2.7 .6M115.1 38.4l5.6 .9 18.1 3.8M112.6 38.7l8.5 1.6 12.6 3.4M111.7 39.1l8.5 1.9 8.4 2.9M109.2 39.4l5.7 1.1 4.3 1.2 4.2 1.6 2.8 1.3M106.8 39.5l5.7 1.2 4.3 1.2 4.2 1.6 2.8 1.3M105.8 39.9l8.6 2.1 4.2 1.6 2.9 1.4M104.8 40.1l4.3 1 4.3 1.3 4.3 1.8 2.8 1.4M103.8 40.4l7.2 1.9 4.3 1.7 2.8 1.4M102.8 40.6l7.2 2 4.3 1.8 2.8 1.5M101.8 40.8l7.2 2.1 4.3 1.9 2.8 1.6M102.2 41.1l4.3 1.2 2.9 1.1 5.7 3M101.2 41.2l4.3 1.2 2.9 1.1 5.7 3.1M100.2 41.2l4.3 1.3 2.9 1.1 5.8 3.1M100.6 41.7l5.8 1.9 2.9 1.4 2.9 1.8M99.6 41.7l5.8 2 2.9 1.4 2.9 1.8M98.6 41.9l5.8 1.9 2.9 1.5 2.9 1.8M99 42.4l2.9 1 2.9 1.4 4.4 2.7M98 42.6l2.9 1 2.9 1.4 4.4 2.8M96.9 42.7l3 1 2.9 1.4 4.3 2.9M95.9 42.8l2.9 1 3 1.4 4.3 3M96.3 43.3l4.4 1.9 4.4 3M95.3 43.3l3 1.1 2.9 1.6 4.4 3.5M95.7 43.8l4.5 2.1 4.3 3.4M94.7 43.8l4.4 2 4.4 3.3M95.1 44.2l4.5 2.3 2.9 2.3 1.5 1.5M94.1 44.2l4.4 2.1 3 2.2 1.4 1.5M94.5 44.7l4.5 2.4 2.9 2.5M93.5 44.6l4.4 2.2 3 2.4 1.4 1.6M93.9 45l3 1.6 1.5 1 2.9 2.7M92.4 47l3 2 3 3.1M92.3 49l3 2.4 1.5 1.8 1.5 2.4M93.8 51.2l1.5 1.3 1.5 1.8 1.5 2.5M95.3 52.9l1.5 1.4 1.6 2 1.5 2.9M98.4 55.4l1.5 1.9 1.6 2.8M101.5 57.7l1.6 2.3 1.5 3.5M129.3 61.7l3.1-.4 4.5 .1M104.7 59.7l1.6 2.6 1.5 4.1M128.1 64.3l1.6-.6 3-.6 3.1 0 3 .5M108 61.4l1.6 2.5 1.5 4.3M130 66.2l3.1-1 3.1-.3 3.1 .4 1.5 .5M111.3 62.9l1.6 2.3 1.6 4.2M131.9 68.3l3.1-1.1 3.2-.4 3.1 .5 1.5 .5M116.3 66.2l1.6 3.7M133.8 70.9l3.2-1.5 3.1-.6 3.2 .3 3.1 1.3M121.4 70.1l1.5 5.6M137.4 72.7l3.2-1.5 3.2-.4 3.1 .5 1.6 .7M141 74.8l3.2-1.5 3.2-.5 3.2 .6 1.6 .8M144.7 77.1l3.3-1.7 3.2-.5 1.6 .1 1.6 .5 1.6 .8M148.5 79.5l1.6-1.1 1.7-.8 3.2-.6 1.6 .1 1.6 .4 1.6 .8 1.6 1.4M152.3 82.1l1.7-1.3 1.6-.9 3.3-.8 1.6 .1 1.6 .3 1.6 .8 1.6 1.2M111.3 62.9l5 3.3 5.1 3.9 5.1 4.5 5.2 5.5M108 61.4l4.9 3.8 5 4.7 5 5.8M104.7 59.7l4.9 4.2 4.9 5.5M101.5 57.7l4.8 4.6 4.8 5.9M98.4 55.4l4.7 4.6 4.7 6.4M95.3 52.9l4.6 4.4 4.7 6.2M92.3 50.3l4.5 4 4.7 5.8M93.8 51.2l4.6 5.1M148.5 79.5l5.5 1.3M90.8 48.2l4.5 4.3 4.6 6.7M139.4 76.1l5.3 1 10.9 2.8M92.3 49l4.5 5.3M141 74.8l5.4 1.2 10.9 3.4M93.8 50l4.5 6.8M137.4 72.7l5.2 1.2 5.4 1.5 10.9 3.7M90.9 46.4l4.4 5 4.5 8.9M133.8 70.9l5.2 .9 5.2 1.5 5.4 1.7 10.9 4.2M92.4 47l4.4 6.2M130.3 69.3l5.1 .7 5.2 1.2 5.3 1.7 5.3 2 10.9 4.6M93.9 47.9l4.4 7.7M131.9 68.3l5.1 1.1 5.2 1.5 5.2 1.9 5.4 2.2 10.9 5.3M90.9 44l4.5 5M128.4 67l5.1 .7 5.1 1.3 5.2 1.8 10.6 4.7 10.9 6M92.4 44.5l4.5 5.8M130 66.2l5 1 5.1 1.6 5.2 2.1 5.3 2.5 5.4 2.9 5.4 3.4M93.5 44.6l4.9 7.5M131.5 65.6l5.1 1.3 5.1 1.9 5.2 2.5 5.3 2.9M94.1 44.2l1.3 1.5 4.4 8.6M128.1 64.3l5 .9 5.1 1.6 5.1 2.3 5.2 2.9M94.7 43.8l2.2 2.8M129.7 63.7l5 1.3 5 2 5.1 2.6M95.3 43.3l1.8 2.2 1.3 2.1M131.2 63.4l5 1.5 5.1 2.4 5.1 3.1M96.3 43.3l1.8 2.3 1.8 3.2M127.8 62.1l4.9 1 5 1.9 5.1 2.8M96.9 42.7l2.7 3.8 1.7 3.8M129.3 61.7l5 1.3 5 2.3M98 42.6l2.2 3.3 1.7 3.7M130.9 61.4l4.9 1.7 5 2.7M99 42.4l2.2 3.6 1.7 4M132.4 61.3l4.9 2M99.6 41.7l2.2 3.5 1.7 3.9M133.9 61.2l4.9 2.4M100.6 41.7l.9 1 1.3 2.4 1.7 4.2M101.2 41.2l1.7 2 2.2 5M101.8 40.8l2.2 2.3 2.1 5.1M102.8 40.6l2.6 3.1 1.7 4.3M103.8 40.4l3.1 3.9 1.3 3.5M104.8 40.1l3.1 4.2 1.3 3.2M105.8 39.9l3.1 4.3 1.3 2.9M106.8 39.5l2.6 3.9 1.8 3.5M108.2 39.8l2.7 4.3 1.3 2.7M109.2 39.4l4 7.3M110.2 38.9l1.8 3.1 2.1 4.6M111.7 39.1l3.4 7.3M112.6 38.7l2.2 4.3 1.3 3.4M114.1 38.9l1.3 2.5 1.7 4.5M115.1 38.4l1.3 2.4 1.7 4.6M116.5 38.6l1.3 2.6 1.3 3.7M117.4 38l1.8 3.7 1.3 3.9M118.9 38.2l1.3 2.8 1.3 4M119.8 37.6l1.3 2.7 1.3 3.8M121.2 37.8l1.3 2.9 1.3 4.1M122.6 38l.9 1.9 1.3 4M124 38.2l.9 2 1.3 4.4M125.4 38.4l1.8 5M125.7 36.5l1.6 3.1 1.3 4.3M127.1 36.6l1.6 3.2 1.2 4.6M128.5 36.6l1.1 2.2 1.3 4.2M129.9 36.7l1.1 2.3 1.3 4.4M131.3 36.7l1.1 2.5 1.3 4.5M132.7 36.8l1.1 2.5 1.3 4.8M134.1 36.9l1.1 2.6 .8 3M135.5 36.9l1.1 2.7 .8 3.2M136.8 37l1.1 2.8 .9 3.3M138.2 37l1.1 3 .9 3.4M139.6 37.1l1.1 3 .8 3.6M141 37.1l1.5 4.9M142.3 37.2l1.5 5M142.6 35.2l1.1 2.1 1.5 5.3M144 35.3l1.1 2.1 1.5 5.6M145.3 35.3l1.1 2.2 1.5 5.9M146.7 35.3l1.1 2.4 1.1 3.9M148.1 35.4l1.1 2.4 1 4.1M149.4 35.4l1.1 2.6 1.1 4.3M150.8 35.5l1.1 2.6 1 4.5M152.1 35.5l1.1 2.8 1.1 4.7M153.5 35.6l1.1 2.8 1 5M154.8 35.7l1.1 2.9 1.1 5.2M156.2 35.7l1.1 3.1 1 5.4M157.5 35.8l1.1 3.2M158.8 35.9l1.1 3.3M160.2 36l1.1 3.4M161.5 36l1.1 3.7M161.8 33.8l1.1 2.3 1 3.8M163.1 33.8l1.1 2.4 1.1 3.9M164.4 33.8l1.1 2.5 1.1 4.1M165.7 33.9l1.1 2.5 1.1 4.3M167.1 33.9l1.1 2.7 1 4.4M168.4 33.9l1.1 2.8 1 4.6M169.7 33.9l1.1 2.9 1.1 4.8M171 34l1.1 2.9 1.1 5M172.4 34l1 3.1 1.1 5.2M173.7 34l1.1 3.2 1 5.4M175 34.1l1.1 3.3 1 5.6M176.3 34.1l1.1 3.4M177.6 34.1l1.1 3.6M178.9 34.2l1.1 3.7M180.2 34.2l1.1 3.9M181.5 34.3l1.1 4M182.8 34.3l1.1 4.2M184.1 34.4l1.1 4.3M185.4 34.5l1.1 4.4M186.7 34.5l1.1 4.6M188 34.6l1.1 4.7M188.2 32l1.1 2.7 1 4.9M189.5 32l1.1 2.8 1 5M190.8 32l1.1 2.8 1 5.3M192 32l1.1 2.9 1.1 5.5M193.3 32l1.1 3 1.1 5.7M194.6 32l1.1 3.1 1 5.9M195.9 32l1.1 3.2 1 6.1M197.2 32l1.1 3.3 1 6.3M198.4 32l1.1 3.4 1 6.5M199.7 32.1l1.1 3.4M201 32.1l1.1 3.5M202.3 32.1l1 3.7M203.5 32.1l1.1 3.8M204.8 32.1l1.1 3.9M206.1 32.1l1 4M207.3 32.1l1.1 4.2M208.6 32.2l1 4.2"/><path stroke="#f5a63a" d="M190.3 39.6l9 2 8.8 2.5M169.2 41l7.9 2 7.8 2.6M151.6 42.3l8 2.3 6.7 2.5M145.2 42.6l8.1 2.5 6.7 2.7M138.8 43.1l5.5 1.3 9.4 3.8M133.7 43.7l9.6 2.7 5.4 2.4M128.6 43.9l15.1 5.3M126.2 44.6l11.1 4.8M123.8 44.8l9.8 5.4M121.5 45l2.8 1.7 5.5 3.8M120.5 45.6l4.2 2.8 2.8 2.4M118.1 45.4l4.2 2.7 2.8 2.3M117.1 45.9l4.2 2.9 2.8 2.4M214 46.6l3.8-.8M116.1 46.4l4.3 3 2.8 2.6M210.7 46.9l7.7-1.6M115.1 46.4l4.3 2.9 2.8 2.5M208.6 47.3l10.3-2.1M114.1 46.6l4.3 3 2.8 2.6M205.2 47.7l6.5-1.4 7.7-1.4M113.2 46.7l4.2 3.2 2.8 2.6M203.1 47.9l7.8-1.7 9-1.4M112.2 46.8l4.2 3.3 2.9 2.7M199.7 48.4l10.4-2.2 10.3-1.6M111.2 46.9l4.2 3.4 2.9 2.9M197.6 48.5l11.7-2.3 11.6-1.6M110.2 47.1l4.3 3.7 2.8 3M192.8 49.2l6.6-1.5 7.8-1.4 14.2-1.8M109.2 47.5l2.8 2.5 2.9 3M189.3 49.4l6.7-1.5 7.8-1.3 9.1-1.3 9-.8M108.2 47.8l2.8 2.6 2.9 3.3M185.8 49.8l8-1.8 9.2-1.5 10.4-1.2 8.9-.6M107.1 48l2.9 2.7 2.9 3.4M182.3 50.2l9.4-2.1 9.2-1.5 11.7-1.2 10.2-.5M106.1 48.2l2.9 2.7 2.9 3.6M178.8 50.5l10.7-2.3 10.6-1.5 11.7-1.1 11.5-.3M105.1 48.2l2.9 2.8 2.9 3.7M173.9 51.1l14.8-2.9 10.6-1.5 13-.9 11.5 0M105.6 49.5l2.8 3.2 1.5 2M171.7 51.2l6.7-1.4 8.1-1.4 11.9-1.6 14.4-.7 11.5 .3M104.5 49.3l2.9 3.3 1.5 2M168 51.7l12.3-2.5 9.4-1.4 7.9-.8 14.4-.6 6.4 .2 6.4 .5M103.5 49.1l2.9 3.3 1.5 2M165.8 51.9l6.8-1.5 6.8-1.2 9.4-1.3 8-.7 7.9-.4 7.7 0 6.5 .4 6.3 .8M104 50.3l2.9 3.7 1.4 2.3M162.1 52.5l6.9-1.7 8.2-1.4 10.8-1.4 7.9-.6 9.2-.3 7.8 .3 6.4 .6 6.4 1.1M102.9 50l2.9 3.6 1.5 2.3M159.9 52.7l6.9-1.6 8.2-1.5 8.1-1 10.7-.9 7.9-.3 7.8 .3 6.5 .6 6.4 1.1M101.9 49.6l2.9 3.5 1.5 2.3M156.2 53.3l9.7-2.3 6.8-1.2 8.2-1 9.4-.8 7.9-.2 7.9 .2 6.5 .6 6.4 1.1M102.3 50.8l3 4 1.4 2.5M153.9 53.5l9.7-2.2 6.9-1.3 8.2-1 10.7-.7 8-.2 6.6 .3 6.5 .6 6.4 1.2M101.3 50.3l2.9 3.8 1.5 2.5M151.6 53.8l6.9-1.7 9.7-1.8 6.9-.9 8.1-.6 9.4-.4 6.6 .2 7.9 .7 6.4 1.1M98.4 52.1l2.9 4.9M136.4 56.6l4.3-1.7 5.8-1.7 8.5-1.2 9.7-.7 7-.1 6.8 .4 6.8 1 5.4 1.3M98.3 55.6l1.5 3.1 1.5 4M126.6 59.2l4.4-2.1 5.8-1.7 5.8-1 5.8-.5 7.1 .1 8.4 .7 5.6 .9 4.2 1.2M98.3 56.8l1.5 3.5 1.5 4.6M120.9 62l3-2.1 4.5-2 4.4-1.2 5.9-.7 5.8 0 4.4 .4 5.7 1.4 5.7 1.7M99.9 59.2l1.5 4.1M118.1 64.9l3.1-2.8 1.5-1 3-1.5 4.5-1.3 4.5-.6 4.4 0 5.9 .9 4.3 1.4 4.3 2.2M101.5 60.1l1.5 4.1 1.5 6M118.3 66.4l3.1-3 3.1-1.8 3-1.2 4.5-.9 4.5 0 4.5 .7 4.4 1.6 4.4 2.5M104.6 63.5l1.5 5.4M118.5 69.4l1.6-2.2 3.1-2.8 3.1-1.7 3-1M136.9 61.4l3 .7 3 1.2 4.4 3M107.8 66.4l1.5 6.3M120.3 71.2l1.6-2.3 1.5-1.7 1.6-1.3 3.1-1.6M138.8 63.6l3.1 1.2 1.5 .9 1.5 1.1 2.9 2.8M111.1 68.2l1.5 6.8M122.1 74.2l1.6-2.7 1.6-2 1.5-1.5 3.2-1.8M140.8 65.8l3 1.6 1.5 1.2 3 3.1M114.5 69.4l1.5 6.9M125.5 75l1.6-2.6 1.6-1.8 3.2-2.3M142.8 67.8l3 1.9 1.6 1.4 3 3.8M117.9 69.9l1.5 6.5M129 76.4l1.6-2.5 1.6-1.8 1.6-1.2M146.4 70.4l3 2.7 3 4M122.9 75.7l1.5 9.3M132.5 78.3l1.7-2.5 1.6-1.8 1.6-1.3M148.5 72l1.5 1 1.6 1.5 3 4M126.5 74.6l1.5 8M136.1 80.9l1.7-2.8 1.6-2 1.6-1.3M152.2 74.2l1.5 1.2 1.6 1.6 3 4.6M139.8 83.9l1.6-3.2 1.7-2.2 1.6-1.4M156 76.3l1.5 1.3 1.6 1.8 3 4.9M180.9 81.9l1.6-.3 3 0M143.5 87.5l1.7-3.9 1.6-2.4 1.7-1.7M161.4 79.7l1.5 1.8 3.1 5M183.4 84.2l3.1-.6 3.1 .3M147.2 91.8l1.7-4.7 1.7-3 1.7-2M165.3 81.5l1.6 1.9 3.1 5M185.8 86.7l3.2-.8 1.6-.1 3.1 .6M131.7 80.1l5.2 6.4M122.9 75.7l5.1 6.9M114.5 69.4l4.9 7M111.1 68.2l4.9 8.1M107.8 66.4l4.8 8.6M143.5 87.5l5.4-.4M104.6 63.5l4.7 9.2M139.8 83.9l5.4-.3 5.4 .5M101.5 60.1l4.6 8.8M136.1 80.9l5.3-.2 5.4 .5 5.5 .9M98.4 56.3l4.6 7.9M132.5 78.3l5.3-.2 5.3 .4 5.4 1M99.9 59.2l4.6 11M129 76.4l5.2-.6 5.2 .3M96.8 54.3l4.6 9M125.5 75l5.1-1.1 5.2 .1 5.2 .8M98.3 56.8l4.6 12.3M122.1 74.2l5-1.8 5.1-.3 5.2 .6M123.7 71.5l5-.9 5.1 .3M96.8 53.2l4.5 11.7M120.3 71.2l5-1.7 5-.2M121.9 68.9l4.9-.9 5.1 .3M95.4 49l4.4 9.7M118.5 69.4l4.9-2.2 5-.2M96.9 50.3l4.4 12.4M120.1 67.2l4.9-1.3 5 .3M161.4 79.7l5.5 3.7M116.8 68.6l4.8-3 5-.6 4.9 .6M152.2 74.2l5.3 3.4 10.9 8.2M118.3 66.4l4.9-2 4.9-.1M148.5 72l5.2 3.4 5.4 4 10.9 9M96.9 46.6l4.4 10.4M119.9 64.7l4.8-1.3 5 .3M144.8 69.6l5.2 3.4 5.3 4 10.7 9.5M98.4 47.6l4.4 12.8M116.6 66.9l4.8-3.5 4.9-.7 4.9 .7M146.4 70.4l5.2 4.1 10.5 9.8M99.9 48.8l4.3 15.7M118.1 64.9l4.8-2.5 4.9-.3M142.8 67.8l5.1 3.8 10.4 10M119.7 63.3l4.8-1.7 4.8 .1M139.3 65.3l5 3.3 5.1 4.5 5.2 5.4M101.9 49.6l.9 2.5M121.2 62.1l4.8-1.2 4.9 .5M140.8 65.8l5 3.9 5.1 5.3M102.9 50l1.3 4.1M122.7 61.1l4.8-.7 4.9 .9M137.3 63.3l5 3.2 5.1 4.6 5 6M103.5 49.1l2.2 7.5M119.4 63.4l4.8-3.1 4.8-.3 4.9 1.2M138.8 63.6l5 3.8 5.1 5.4M104.5 49.3l1.8 6.1M120.9 62l4.8-2.4 4.8 .1 4.9 1.6 5 2.9 4.9 4.4 5.1 6.3M105.1 48.2l2.2 7.7M122.4 60.8l4.8-1.7 4.8 .4 4.9 1.9 5 3.4 4.9 5.2M106.1 48.2l1.8 6.2M123.9 59.9l4.8-1.3 4.8 .8 4.9 2.3 5 4 4.9 6M107.1 48l1.8 6.6M125.4 59.1l4.8-.8 4.8 1.1 4.9 2.7 5 4.7 4.9 6.8M181.8 84.9l5.6 1.3M108.2 47.8l1.7 6.9M122.1 62.4l4.8-4 4.8-.4 4.8 1.5 4.9 3.2 4.9 5.4M183.4 84.2l5.6 1.7M109.2 47.5l1.7 7.2M123.6 61.2l4.8-3.3 4.8-.1 4.8 1.8 4.9 3.7 4.9 6.3M184.9 83.8l5.7 2M110.2 47.1l1.7 7.4M125.1 60.1l4.8-2.7 4.8 .3 4.8 2.2 4.9 4.3 4.9 7.1M180.9 81.9l5.6 1.7 5.6 2.4M111.2 46.9l1.7 7.2M126.6 59.2l4.8-2.2 4.8 .7 4.8 2.5 4.9 4.9M182.5 81.6l5.5 2.1 5.7 2.7M112.2 46.8l.8 2.6 .9 4.3M128.1 58.4l4.7-1.7 4.8 1 4.9 3 4.8 5.6M113.2 46.7l.8 2.3 .9 4M129.5 57.7l4.8-1.2 4.8 1.2 4.8 3.5 4.9 6.4M114.1 46.6l1.3 3.7 .5 1.9M131 57.1l4.8-.8 4.8 1.6 4.8 3.9 4.9 7.2M115.1 46.4l1.3 3.7 .9 3.7M132.5 56.6l4.7-.5 4.8 2 4.9 4.4M116.1 46.4l.9 2.1 1.3 4.7M133.9 56.2l4.8-.2 4.8 2.3 4.8 5M117.1 45.9l2.2 6.9M130.6 59.7l4.8-3.9 4.8 .1 4.8 2.7 4.8 5.7M118.1 45.4l2.1 7.1M132.1 58.8l4.7-3.4 4.8 .5 4.8 3.1 4.8 6.3M119.1 44.9l2.1 7.3M133.5 58l4.8-2.9 4.8 .8 4.8 3.6 4.8 7M120.5 45.6l1.7 6.2M135 57.3l4.7-2.4 4.8 1.1 4.8 4M121.5 45l1.7 7M136.4 56.6l4.8-2 4.8 1.5 4.8 4.6M122.4 44.1l1.7 7.1M137.9 56l4.7-1.6 4.8 1.8 4.8 5.2M123.8 44.8l1.3 5.6M139.3 55.4l4.8-1.2 4.8 2.2 4.7 5.8M124.8 43.9l1.7 7.8M140.7 54.9l4.8-.8 4.8 2.6 4.8 6.4M126.2 44.6l1.3 6.2M142.2 54.4l4.8-.4 4.7 3 4.8 7.1M127.2 43.4l1.2 6.2M143.6 54l4.8-.1 4.8 3.5M128.6 43.9l1.2 6.6M145 53.6l4.8 .3 4.8 3.9M129.9 44.4l1.3 7M146.5 53.2l4.7 .7 4.8 4.3M130.9 43l1.3 6.4M143.1 56.8l4.8-3.8 4.8 .9 4.7 4.7M132.3 43.4l1.3 6.8M144.5 56.2l4.8-3.5 4.8 1.2 4.7 5.1M133.7 43.7l1.2 7.3M145.9 55.6l4.8-3.1 4.8 1.5 4.8 5.5M135.1 44.1l.8 4.7M147.3 55.1l4.8-2.7 4.8 1.7 4.8 6M136 42.5l1.3 6.9M148.8 54.6l4.7-2.4 4.8 2 4.8 6.5M137.4 42.8l1.3 7.2M150.2 54.2l4.8-2.2 4.7 2.3 4.8 7M138.8 43.1l1.2 7.5M151.6 53.8l4.8-1.9 4.7 2.5 4.8 7.6M140.2 43.4l.8 4.8M152.5 53.9l.5-.5 4.8-1.6 4.7 2.7M141.5 43.7l.9 5M153.9 53.5l.5-.5 4.8-1.4 4.7 3.1M142.5 42l1.2 7.2M155.3 53.1l.5-.4 4.8-1.2 4.7 3.4M143.8 42.2l1.3 7.6M156.2 53.3l1-.9 4.8-1 4.7 3.7M145.2 42.6l.8 4.9M157.6 52.9l.9-.8 4.9-.8 4.7 4M146.6 43l.8 5.2M158.5 53.1l1.4-1.3 4.8-.5 4.8 4.3M147.9 43.4l.8 5.4M159.9 52.7l1.4-1.2 4.8-.3 4.8 4.8M148.9 41.6l1.2 7.9M161.3 52.4l1.4-1.1 4.8-.1 4.8 5.2M150.2 41.9l.8 5.1M162.1 52.5l2-1.5 4.8 .2 4.8 5.6M151.6 42.3l.8 5.2M163.5 52.1l2-1.4 4.8 .5 4.7 6.1M152.9 42.6l.8 5.6M164.4 52.3l1-.9 1.4-.9 4.9 .7 4.7 6.7M154.3 43l.8 5.8M165.8 51.9l1-.8 1.4-.8 4.8 1 4.8 7.2M155.6 43.4l.8 6.1M166.7 52.1l1.4-1.3 1.5-.7 4.8 1.2 4.7 7.9M157 43.8l.4 2.9M168 51.7l1.5-1.2 1.5-.6 4.8 1.5M158.3 44.2l.4 3M169.4 51.4l1.5-1.2 1.4-.5 4.9 1.8M158.6 39l1.4 8.8M170.3 51.6l1.5-1.3 1.9-.7 4.8 2M159.9 39.2l1.5 9.2M171.7 51.2l1.4-1.2 2-.6 4.8 2.4M161.3 39.4l1.4 9.7M173 50.9l1.5-1.1 1.9-.5 4.8 2.7M162.6 39.7l1 6.4M173.9 51.1l1.9-1.5 2-.5 4.8 3.1M163.9 39.9l1 6.7M175.2 50.8l2-1.4 1.9-.4 4.8 3.4M165.3 40.1l1 7M176.6 50.5l1.9-1.3 2-.3 4.8 3.7M166.6 40.4l1 7.3M177.4 50.8l2-1.6 1-.3 1.4-.1 4.8 4.1M167.9 40.7l1 7.7M178.8 50.5l2-1.5 1.4-.3 1 .1 4.8 4.4M169.2 41l1 8M180.1 50.2l2-1.4 1.5-.2 .9 .1 4.8 4.8M170.5 41.3l1 8.4M181 50.5l1-1.1 1-.6 1.4-.3 1.5 .1 4.8 5.3M171.9 41.6l.9 8.8M182.3 50.2l1-1 1-.6 1.5-.3 1.4 .3 4.8 5.7M173.2 41.9l.9 9.3M183.7 49.8l1-.9 .9-.5 1.5-.2 1.5 .3 4.7 6.2M184.5 50.1l1-1.1 1.5-.8 1.4-.1 1.5 .4 4.7 6.7M185.8 49.8l1-1.1 1.5-.7 1.5-.1 1.4 .5 4.8 7.4M187.2 49.4l1-.9 1.5-.7 1.4 0 1.5 .6 4.7 8M177.4 37.5l1 5.9M188 49.8l1-1.2 1.5-.8 1.9-.1 1.5 .7M178.7 37.7l1 6.1M189.3 49.4l1.5-1.4 1.5-.5 1.5 .2 1.4 .7M180 37.9l1 6.3M190.7 49.1l1.5-1.3 1.4-.4 1.5 .2 1.5 .9M181.3 38.1l1 6.6M191.5 49.5l1.5-1.6 1.5-.6 1.9 .2 1.5 1M182.6 38.3l1 6.8M192.8 49.2l1.5-1.6 1.5-.5 1.9 .4 1.5 1.1M183.9 38.5l1 7.1M194.1 48.8l1.5-1.4 1.5-.4 2 .5 1.4 1.1M185.2 38.7l1 7.4M195.4 48.5l1.6-1.3 1.4-.4 2 .7 1.4 1.2M186.5 38.9l.9 7.7M196.3 48.8l1.5-1.5 1-.5 .9-.1 2 .7 1.4 1.4M187.8 39.1l.9 8M197.6 48.5l1.5-1.4 1-.4 1-.1 1.9 .9 1.4 1.5M189.1 39.3l.9 8.4M198.4 48.7l2-1.8 1.5-.4 1.9 .6 2 2M190.3 39.6l1 8.7M199.7 48.4l2-1.7 1.5-.3 1.9 .7 2 2.2M191.6 39.8l1 9.1M201 48.1l2-1.6 1.5-.2 1.9 .8 2 2.3M192.9 40.1l.9 9.4M201.8 48.2l2-1.6 1-.4 1 0 1.9 .9 2 2.5M203.1 47.9l2-1.5 1-.4 1 .1 1.9 1.1 1.9 2.7M204.4 47.6l2.5-1.6 1.5 0 1.9 1.2 1.9 2.9M205.2 47.7l2.5-1.7 1-.2 1 .1 1.9 1.4 1 1.3 .9 1.8M206.5 47.4l2.5-1.6 1-.2 1 .3 1.9 1.5 1 1.3 .9 2M207.3 47.6l1-.9 2-1 1.5-.1 1 .5 .9 .8 1 1.2 .9 1.8M208.6 47.3l1-.8 2-1 1.5 0 1 .6 .9 .9 1 1.3 .9 1.9M200.8 35.5l1 6.8M209.4 47.2l3-1.7 1.5-.2 1 .4 .9 .8 1 1.2 .9 1.7M202.1 35.6l1 7M210.7 46.9l3-1.5 1.5-.2 .9 .5 1 .8 1 1.3 .9 1.9M203.3 35.8l1 7.2M212 46.6l3-1.4 1.4 0 1 .5 1 .9 .9 1.4 1 2M204.6 35.9l1 7.5M212.7 46.9l.5-.6 1.5-.7 1.5-.6 1 0 1 .3 1 .8 .9 1.3 1 1.7M205.9 36l.9 7.7M214 46.6l.5-.5 1.5-.8 1.5-.4 1 0 1 .4 1 .9 .9 1.3 1 1.9M207.1 36.1l1 8M215.3 46.4l.5-.6 2-.8 1.5-.3 1 .3 1 .7 .9 1.2 1.4 2.8M208.4 36.3l.9 8.2M216.6 46.1l.5-.5 1.5-.7 1.5-.3 1 .1 1 .6 .9 1 1.4 2.5M209.6 36.4l1 8.6M217.3 46.4l1.1-1.1 1-.4 2-.4 .9 .2 1 .6 1 1.1 1.4 2.7"/><path stroke="#f6b137" d="M208.1 44.1l2.5 .9M184.9 45.6l5.1 2.1 6.4 3.1M166.3 47.1l5.2 2.6 3.9 2.2M160 47.8l5.3 2.6 4 2.4M153.7 48.2l5.4 2.7 3.9 2.5M148.7 48.8l4.1 2.2 4 2.6M143.7 49.2l4.1 2.2 4 2.7M137.3 49.4l6.8 3.1 2.7 1.8M133.6 50.2l8.2 4.7M210.6 51.6l5.2-2M129.8 50.5l8.3 5.7M204.7 52.3l5.2-2 6.4-2.1M127.5 50.8l6.9 5.7M201.3 52.4l7.8-2.9 7.7-2.3M125.1 50.4l5.5 5.7M196.6 53.2l9.2-3.6 11.5-3.2M124.1 51.2l4.2 4.7M193.2 53.4l9.2-3.5 11.6-3.3M123.2 52l4.1 4.9M189.8 53.7l10.5-3.9 10.4-2.9M122.2 51.8l4.2 4.8M187.6 54.1l9.3-3.5 11.7-3.3M121.2 52.2l4.2 4.9M185.5 54.2l9.3-3.5 10.4-3M120.2 52.5l4.2 5.1M182 55l4-1.8 5.3-2 11.8-3.3M119.3 52.8l4.2 5.2M179.8 55.1l9.4-3.8 10.5-2.9M118.3 53.2l4.2 5.3M176.3 55.6l10.7-4.1 10.6-3M117.3 53.8l4.2 5.8M172.7 55.9l5.4-2.2 6.7-2.3 8-2.2M114.9 53l4.2 5.8M169.2 56.1l8.1-3.2 12-3.5M113.9 53.7l4.2 6.2M165.6 56.4l8.1-3.2 12.1-3.4M112.9 54.1l2.8 4.3M161.9 56.9l4.2-1.8 5.4-2 10.8-2.9M111.9 54.5l2.8 4.5M158.3 57.5l4.1-1.9 5.5-2.1 5.5-1.7 5.4-1.3M110.9 54.7l2.8 4.7M154.6 58l9.7-4 9.6-2.9M109.9 54.7l2.8 4.8M152.4 58l11-4.4 8.3-2.4M108.9 54.6l2.8 5M148.6 58.7l7-3 7-2.4 5.4-1.6M107.9 54.4l2.8 4.9 1.4 3.1M146.3 58.9l4.2-2 4.2-1.6 11.1-3.4M108.3 56.3l2.8 5.7M144 59.3l7-3.3 4.2-1.5 6.9-2M107.3 55.9l2.8 5.6M141.6 59.8l4.3-2.3 4.2-1.8 9.8-3M222.4 49.4l3.8 1M106.3 55.4l2.8 5.6M140.7 59.7l1.4-1.1 4.3-2.1 4.2-1.6 5.6-1.6M219 49.7l3.8 1 3.8 1.3M106.7 57.3l1.4 3M139.8 59.7l2.8-2.1 1.4-.6 4.3-1.8 5.6-1.7M216.9 50.2l5.1 1.5 5 2.1M105.7 56.6l2.9 6.4M137.4 60.9l2.8-2.3 2.9-1.8 4.2-1.7 4.3-1.3M213.5 50.4l6.4 1.9 6.3 3M101.3 57l2.9 7.5M126.2 63.1l4.4-3.4 5.8-3.1M190.7 53.9l5.3 1.9 5.2 2.8M101.3 62.7l1.5 5.1M119.2 65.8l2.9-3.4 4.5-3.2M173.7 56.8l5.4 2.4 4.1 2.6M228.6 59.4l3.9-1.4 5.2-1.4M101.3 64.9l1.5 6.1M116.4 67.2l1.5-2.1 3-3.1M160.3 59.5l5.6 2.5 4.1 2.6M209.9 62.6l2.7-1.1 4-1.2 4-.9 5.3-.8 7.9-.2 9 .9M101.4 63.3l1.5 5.8M115.1 69.4l1.5-2.5 1.5-2M153.6 62.2l5.7 3.8 2.9 2.2M195.9 65.3l4.2-1.6 4.1-1.1 4.1-.8 4.1-.4 4-.1 5.4 .2 5.3 .7 5.2 1M115.2 71.5l1.6-2.9 1.5-2.2M149.8 64.3l2.9 2.2 4.3 4.1M182.8 68.8l4.3-2 4.2-1.3 4.2-.9 5.6-.6 5.5-.1 4.1 .3 10.8 1.9M106.1 68.9l1.5 7.7M115.4 76.1l1.6-3.9 1.5-2.8M147.3 66.3l3 2.7 2.9 3.4M170.7 71.9l4.4-2 4.3-1.3 7.2-1.6 5.7-.7 4.2-.1 5.6 .5 11 2.1M244.2 66.8l6.7-.8 7.8-.3M109.3 72.7l1.5 9.1M117.1 78.7l1.6-4.4 1.6-3.1M147.8 69.6l4.4 5.3M167 74.1l3-2.3 3-1.2 5.8-1.4 5.8-.6 5.8-.1 4.2 .4 12.6 2.5M233.5 69.8l5.4-.9 4.1-.4 9.3 0M112.6 75l1.5 9.8M120.5 78.1l1.6-3.9M148.3 71.7l4.4 6M164.7 77.2l4.6-3.3 3-1.6 2.9-1 4.5-.6 4.3-.1 5.8 .5 4.3 .7 10 2.2M225.1 72.6l5.6-1 5.5-.5 5.4-.1 5.5 .2M116 76.3l1.4 10M122.2 84l1.7-5.4 1.6-3.6M150.4 74.9l2.9 4.3M163.9 79.6l4.6-3.2 3-1.6 3-1.1 4.5-.9 4.4 .1 4.4 .6 14.4 3M216.5 75.6l8.5-1.4 5.6-.6 5.6-.1 6.8 .3M119.4 76.4l1.5 9.9M125.7 85.4l1.6-5.4 1.7-3.6M152.4 77.1l3 4.5M164.6 81.4l4.6-3.1 3.1-1.5 3-1.1 3-.5 3-.1 3 .3 13.2 2.6 7.3 .9 4.3-.4 10.1-1.8 5.7-.6 7-.2 8.4 .4M129.2 88l1.7-5.8 1.6-3.9M154.6 78.5l3 4.5 1.5 1.6M163.7 84.6l9.4-5.6 3-1.1 3.1-.6 4.5 .2 10.4 2.1 7.4 .7 8.8-.3 8.7-1.4 5.7-.4 5.8 .1 9.8 .5M128 82.6l1.5 11.3M132.7 91.7l1.7-6.5 1.7-4.3M158.3 81.6l3.1 4.4 1.5 1.1M166 86.7l9.4-5.7 3.1-1.2 3.1-.4 4.5 .4 7.5 1.9 3 .4 7.4-.1 19.2-1.6 5.7 .1 12.9 .7M255.8 80.2l11.1-.8M131.7 80.1l1.4 10.5M138 88.9l1.8-5M162.1 84.3l1.5 2.4 1.6 1.7 1.5 .8 1.6-.3 1.6-.7 7.9-5 3.1-1.3M185.5 81.6l3.1 .5 7.5 2.2 3 .4 3-.2 10.5-1.4 6-.4 7.3 0 11.6 .6 5.7 .1 5.7-.3 11.4-1 8.3-.4M136.9 86.5l1.5 11.9M141.7 93.4l1.8-5.9M166 86.5l1.5 2.4 1.6 1.6 1.5 .5 1.6-.4 3.2-1.5 4.8-3.3 3.2-1.6M189.6 83.9l9.1 2.9 3 .4 3.1-.2 7.6-1.7 6-.5 7.4 0 10.2 .7 5.8 .2 5.8-.2 14.3-1.2 9.9-.3M145.4 98.9l1.8-7.1M170 88.4l1.5 2.4 1.6 1.6 1.5 .4 1.6-.4 3.2-1.4 6.4-4.3M193.7 86.4l7.6 2.9 3.1 .4 3-.1 9.2-2.3 3.1-.4 6 0 13.3 1 4.4 0 17.4-1.1 15.6-.5M136.9 86.5l5.3 7.2M128 82.6l5.1 8M119.4 76.4l5 8.6M116 76.3l4.9 10M141.7 93.4l5.5-1.6M112.6 75l4.8 11.3M132.7 91.7l5.3-2.8 5.5-1.4M109.3 72.7l4.8 12.1M129.2 88l5.2-2.8 5.4-1.3M106.1 68.9l4.7 12.9M125.7 85.4l5.2-3.2 5.2-1.3M103 64.2l4.6 12.4M122.2 84l5.1-4 5.2-1.7M123.9 78.6l5.1-2.2M101.4 63.3l4.5 15.1M120.5 78.1l5-3.1M117.1 78.7l5-4.5M99.8 60.3l4.5 16.5M118.7 74.3l5-2.8M115.4 76.1l4.9-4.9M98.3 55.6l4.5 15.4M117 72.2l4.9-3.3M113.6 75.4l4.9-6M115.2 71.5l4.9-4.3M98.4 52.1l4.4 15.7M99.8 54.3l4.4 20.2M113.5 72.8l4.8-6.4M115.1 69.4l4.8-4.7M166 86.5l5.5 4.3M162.1 84.3l5.4 4.6 5.6 3.5M113.3 73.4l4.8-8.5M158.3 81.6l5.3 5.1 5.5 3.8 5.5 2.3M101.3 50.3l4.4 19.4M114.9 69.9l4.8-6.6M154.6 78.5l5.2 5.5 5.4 4.4 5.4 2.6 5.6 1.4M116.4 67.2l4.8-5.1M150.9 75l5.2 5.9 5.3 5.1 5.3 3.2 11.1 2.6M117.9 65.1l4.8-4M152.4 77.1l5.2 5.9 5.3 4.1 5.4 1.8 11.1 2.1M148.9 72.8l5 6.6 5.2 5.2M164.4 87.2l16.6 2.8M106.3 55.4l.8 4.1M116.1 70.9l4.8-8.9M150.4 74.9l5 6.7 5.3 3.7M166 86.7l16.6 2.1M107.3 55.9l1.3 7.1M117.7 68.1l4.7-7.3M146.8 70l5 7 5.1 6.2M167.6 85.9l11 1 5.6 .7M107.9 54.4l1.2 6.6M119.2 65.8l4.7-5.9M148.3 71.7l5 7.5M163.7 84.6l16.5 1.2 5.6 .9M108.9 54.6l1.2 6.9M120.7 64l4.7-4.9M149.8 73.6l5 7.4M165.3 83.7l10.9 .5 5.6 .7M109.9 54.7l1.2 7.3M146.3 68.1l5 7.6M166.9 82.8l10.9 .4 5.6 1M110.9 54.7l.8 4.9M147.8 69.6l4.9 8.1M163.1 82.4l5.3-.6 5.4 0 5.5 .6 5.6 1.4M111.9 54.5l.8 5M149.3 71.3l4.9 8.1M164.6 81.4l5.4-.6 5.4 .2 5.5 .9M112.9 54.1l.8 5.3M121.8 68.7l4.8-9.5M145.9 65.1l4.8 8M166.2 80.3l5.3-.5 5.4 .5 5.6 1.3M113.9 53.7l.8 5.3M123.3 66.5l4.8-8.1M147.3 66.3l4.9 8.6M162.4 80.7l5.3-1.4 5.4-.3 5.4 .8 5.5 1.7 5.6 2.4 5.6 3M114.9 53l.8 5.4M124.8 64.7l4.7-7M148.8 67.6l4.9 9.1M163.9 79.6l5.3-1.3 5.4 .1 5.4 1.1 5.5 2.1 5.6 2.7 5.6 3.3M115.9 52.2l1.2 8.7M126.2 63.1l4.8-6M150.3 69l4.8 9.2M165.4 78.5l5.4-1 5.3 .4 5.5 1.5 5.5 2.4 11.2 6.4M117.3 53.8l.8 6.1M127.7 61.8l4.8-5.2M146.9 62.5l4.8 8.1M167 77.4l5.3-.6 5.4 .7 5.4 1.9 5.5 2.7 11.2 6.7M118.3 53.2l.8 5.6M129.2 60.7l4.7-4.5M148.3 63.3l4.9 9.1M163.2 78.4l5.3-2 5.3-.2 5.4 1.1 5.4 2.2 5.5 3 11.2 6.8M119.3 52.8l.8 4.7M149.8 64.3l4.8 9.8M164.7 77.2l5.3-1.7 5.3 .2 5.4 1.6 5.4 2.5 16.7 9.8M120.2 52.5l1.3 7.1M151.2 65.3l4.8 10.5M166.3 76l5.2-1.2 5.3 .6 5.4 1.9 5.4 2.8 11.1 6.7 5.7 2.9M121.2 52.2l1.3 6.3M167.8 74.9l5.2-.7 5.3 1 5.4 2.3 16.5 9.6 5.7 2.6M122.2 51.8l1.3 6.2M149.3 60l4.8 7.8M164 76.7l5.3-2.8 5.2-.2 5.3 1.4 5.4 2.6 10.9 6.6 5.6 2.9 5.7 2.4M123.2 52l1.2 5.6M150.8 60.7l4.7 8.5M165.5 75.4l5.3-2.3 5.2 .2 5.3 1.8 5.4 2.9 10.9 6.5 5.6 2.7 5.8 2.1M124.1 51.2l1.3 5.9M133.1 65.3l4.8-9.3M152.2 61.4l4.8 9.2M167 74.1l5.3-1.8 5.2 .7 5.3 2.2 10.8 6.5 5.5 3 5.7 2.3 5.7 1.9M125.1 50.4l1.3 6.2M134.5 63.6l4.8-8.2M153.6 62.2l4.8 9.9M168.5 72.8l5.3-1.1 5.2 1.1 5.3 2.6 10.8 6.6 5.5 2.7 5.7 2 5.7 1.8M126.5 51.7l.8 5.2M135.9 62.2l4.8-7.3M155.1 63.1l4.7 10.4M170 71.8l5.2-.5 5.3 1.5 5.3 2.8 5.3 3.4 5.5 3.1 5.5 2.4 11.5 3.6M127.5 50.8l.8 5.1M137.4 60.9l4.8-6.5M171.5 71.1l5.2-.1 5.3 1.8 10.6 6.5 5.5 2.8 5.6 2.2 11.4 3.4M128.4 49.6l1.3 8.2M138.8 59.7l4.8-5.7M153.2 57.4l4.7 7.6M167.8 73.9l5.2-3.3 5.2 .2 5.2 2.1 10.7 6.7 5.5 2.6 17 5.1M129.8 50.5l.8 5.6M139.8 59.7l.4-1.1 4.8-5M154.6 57.8l4.7 8.2M169.2 72.9l5.2-2.8 5.3 .6 5.2 2.4 10.7 6.7 5.5 2.4 17 4.8M131.2 51.4l.8 6.1M140.7 59.7l1-2.1 4.8-4.4M156 58.2l4.7 8.8M170.7 71.9l5.2-2.1 5.2 .8 5.3 2.7 5.3 3.6 5.3 3.1 5.6 2.1 11.3 3 5.8 1.8M132.2 49.4l.8 6M141.6 59.8l1.5-3M157.4 58.6l4.8 9.6M172.2 71.1l5.2-1.6 5.2 1.1 5.2 2.9 5.3 3.7 5.4 3 5.5 1.8 11.4 3 5.8 1.9M133.6 50.2l.8 6.3M143.1 58.9l1.4-2.7M158.8 59l4.8 10.4M173.6 70.5l5.2-1.3 5.2 1.4 5.3 3.2 5.3 3.7 5.4 2.7 5.5 1.7 11.4 2.9 5.8 2M134.9 51l.4 3.2M144 59.3l1.9-3.7M160.3 59.5l4.7 11.2M175.1 69.9l5.2-.9 5.2 1.7 10.5 7 5.5 2.6 11.1 2.8 5.8 1.7 5.8 2M135.9 48.8l.8 6.4M145.4 58.5l1.9-3.4M161.7 60.1l4.6 12M176.5 69.4l5.2-.6 5.2 2 10.6 7.2 5.4 2.3 11.2 2.7 5.8 1.7 5.8 2.2M137.3 49.4l.8 6.8M146.3 58.9l1-2.1 1.5-2.2M178 68.9l5.2-.2 5.2 2.2 10.6 7.3 5.4 2.1 11.2 2.5 5.7 1.9 5.8 2.2M138.7 50l.7 7.2M147.7 58.2l1-2 1.5-2M179.4 68.6l5.2 0 5.2 2.5 5.3 3.9 5.3 3.4 5.5 1.9 11.2 2.4 5.7 2 5.8 2.3M140 50.6l.4 3.5M148.6 58.7l1.5-3 1.5-1.9M180.9 68.2l5.2 .3 5.2 2.8 5.2 4.1 5.4 3.2 5.4 1.6 5.6 1 5.7 1.5 5.7 2 5.8 2.4M141 48.2l.8 6.7M150.1 58l.9-2 1.5-2.1M162.5 54.5l4.8 8.3M182.3 67.9l5.2 .6 5.2 3 5.2 4.2 5.4 3.1 5.5 1.3 5.6 1 5.7 1.5 11.5 4.7M142.4 48.7l.7 7M151 58.6l1.4-3.1 1.5-2M163.9 54.7l4.8 8.9M178.5 71.5l5.2-3.9 5.2 .9 5.2 3.3 5.3 4.2 5.4 2.9 11.1 2.1 5.6 1.6 11.6 4.8M143.7 49.2l.8 7.3M152.4 58l1.4-3 1.5-1.9M165.3 54.9l4.7 9.7M179.9 70.6l5.3-3.3 5.2 1.2 5.2 3.6 5.2 4.2 5.4 2.5 11.1 2.1 5.7 1.7 11.6 4.9M145.1 49.8l.4 3.5M153.7 57.3l1-2 1.5-2M166.7 55.1l4.7 10.6M181.4 69.6l5.2-2.6 5.2 1.6 10.4 7.9 5.5 2.1 11.1 2.1 5.7 1.9 11.5 5M146 47.5l.8 6.8M154.6 58l1.5-3.2 1.5-1.9M168.1 55.3l4.7 11.6M182.8 68.8l5.2-2 5.2 1.9 10.5 8M209.1 78.5l5.5 .8 5.6 1.3 5.7 2.1 11.6 5.1M147.4 48.2l.8 7.1M156 57.4l1-2.2 1.5-2.1M169.5 55.6l4.7 12.8M184.2 68l5.2-1.4 5.2 2.3 5.2 4.2 5.3 3.7M210.5 78.2l5.6 .8 5.6 1.5 5.7 2.2 11.6 5.2M148.7 48.8l.8 7.6M156.9 58.2l1.5-3.5 1.5-2M170.9 56l4.6 13.9M185.7 67.4l5.2-1 5.1 2.7 5.2 4.4 5.3 3.3M212 78l5.5 .8 5.7 1.6 17.2 7.5M150.1 49.5l.4 3.7M158.3 57.5l1.5-3.2 1.5-1.9M187.1 66.8l5.2-.5 5.2 3 5.2 4.5M213.4 77.7l5.6 .9 5.6 1.8 17.3 7.5M151 47l.8 7.1M159.7 56.9l1-2.3 1.4-2.1M188.5 66.3l5.2-.1 5.2 3.4 5.2 4.4M209.4 76.7l11 1.8 5.6 1.9 11.5 5.2 5.9 2.3M152.4 47.5l.8 7.6M160.6 57.6l1.5-3.5 1.4-2M189.9 65.9l5.2 .3 5.2 3.7 5.2 4.4M210.8 76.5l5.5 .7 5.6 1.2 5.6 2 11.4 5.3 5.9 2.2M153.7 48.2l.8 8M161.9 56.9l1-2.4 1.5-2.2M191.3 65.5l5.2 .7 10.4 8.3M212.3 76.3l5.5 .7 5.5 1.3 5.6 2.2 11.5 5.2 5.9 2.1M155.1 48.8l.4 3.9M163.3 56.3l1-2.3 1.5-2.1M192.7 65.2l5.2 1.1 10.4 8.3M213.7 76.1l5.5 .6 5.5 1.5 17.1 7.5 5.9 2M156.4 49.5l.4 4.1M164.2 57.1l1-2.6 1.5-2.4M194.1 64.9l5.2 1.5 5.2 4.4M215.1 75.9l5.5 .6 5.6 1.7 11.3 5.1 5.8 2.4 5.9 1.9M157.4 46.7l.7 7.8M165.6 56.4l1-2.4 1.4-2.3M175.8 51.4l4.7 8.6M190.3 68.5l5.2-3.9 5.2 1.9 5.2 4.6M216.5 75.6l5.5 .8 5.6 1.8 11.3 5.2 5.8 2.2 5.9 1.9M158.7 47.2l.7 8.3M166.9 55.8l1-2.3 1.5-2.1M177.2 51.5l4.6 9.3M191.7 67.5l5.2-3.1 5.2 2.3 5.1 4.7M218 75.4l5.5 .8 5.5 2 11.4 5.2 11.7 4M160 47.8l.4 3.9M167.8 56.7l1-2.7 1.5-2.4M178.5 51.6l4.7 10.2M193.1 66.6l5.2-2.3 5.2 2.6 5.1 4.8M219.4 75.1l5.5 1 5.6 2.2 11.3 5.2 11.8 3.8M161.4 48.4l.3 4.1M169.2 56.1l1-2.6 1.5-2.3M179.9 51.8l4.6 11M194.5 65.9l5.2-1.8 5.2 3 5.1 4.8M220.8 74.9l5.5 1.1 16.9 7.4 11.8 3.8M162.7 49.1l.3 4.3M170.5 55.5l1-2.4 1.5-2.2M181.2 52l4.7 11.9M195.9 65.3l5.2-1.3 5.2 3.3 5.1 4.8M222.2 74.6l5.5 1.4 11.2 5.1 5.8 2.3 11.7 3.6M163.6 46.1l.8 8.1M171.4 56.5l1-2.9 1.5-2.5M182.6 52.2l4.6 12.9M197.3 64.7l5.2-.7 5.1 3.6 5.2 4.7M223.6 74.4l5.5 1.5 11.2 5.3 5.8 2.1 11.8 3.6M164.9 46.6l.8 8.5M172.7 55.9l1-2.7 1.5-2.4M183.9 52.4l4.6 14M198.7 64.2l5.2-.3 5.1 4M219.5 73.7l5.5 .5 5.5 1.7 11.3 5.3 5.7 2 11.8 3.6M166.3 47.1l.3 4.1M174.1 55.3l1-2.6 1.5-2.2M185.3 52.6l4.5 15.1M200.1 63.7l5.2 .2 5.1 4.3M220.9 73.4l5.5 .6 5.5 1.9 11.3 5.3 17.6 5.6M167.6 47.7l.4 4.3M174.9 56.2l1-2.8 1.5-2.6M201.5 63.3l5.1 .6 5.1 4.6M222.3 73.2l5.5 .6 5.5 2.1 5.6 2.8 5.7 2.4M250.4 83l11.8 3.7M168.9 48.4l.4 4.4M176.3 55.6l1-2.7 1.5-2.4M202.8 62.9l5.2 1.1 5.1 4.8M223.7 72.9l5.5 .8 5.5 2.3 5.6 2.8M251.8 82.9l11.8 3.7M170.2 49l.4 4.7M177.6 55l1-2.5 1.5-2.3M204.2 62.6l5.2 1.5 5.1 5M225.1 72.6l5.5 1 11.1 5.2M253.2 82.7l11.8 3.9M171.5 49.7l.4 4.9M178.5 55.7l1.5-3.6 1-1.6M205.6 62.3l5.1 1.9 5.1 5.1M226.5 72.3l5.5 1.2 11.1 5.4M248.8 80.9l11.7 3.5 6 2.1M179.8 55.1l1.5-3.4 1-1.5M207 62l5.1 2.4 5.1 5.2M227.9 72.1l5.5 1.4 5.5 2.7M250.2 80.8l11.7 3.5 6 2.2M181.1 54.5l1.6-3.2 1-1.5M208.3 61.8l5.1 2.8 5.2 5.2M229.3 71.8l5.5 1.7 5.5 2.8M251.6 80.6l5.8 1.7 11.9 4.2M174.5 42.3l.9 9.6M182 55l2.5-4.9M204.4 65.8l5.3-4.1 5.1 3.1 5.1 5.2M230.7 71.6l5.5 1.9 5.5 2.9M253 80.5l5.8 1.7 11.9 4.3M175.8 42.6l.9 10.1M183.3 54.3l2.5-4.5M205.8 64.8l5.2-3.3 5.1 3.5M232.1 71.5l5.4 2 5.6 2.9M254.4 80.3l5.9 1.8 11.8 4.3M177.1 43l.9 10.6M184.1 54.8l3.1-5.4M207.1 64l5.3-2.6 5.1 3.9M228 70.9l5.5 .4 5.4 2.3 5.5 2.9M255.8 80.2l5.9 1.8 11.8 4.4M178.4 43.4l.9 11M185.5 54.2l2.5-4.4M193.9 48.4l4.7 8.7M208.5 63.2l5.2-1.9 5.1 4.2M229.4 70.6l5.4 .6 5.5 2.4M257.2 80.1l5.9 1.8 11.9 4.5M179.7 43.8l.9 11.5M186.8 53.6l2.5-4.2M195.2 48.4l4.7 9.4M209.9 62.6l5.2-1.3 5.1 4.5M230.7 70.3l5.5 .8 5.5 2.6M258.6 79.9l5.9 1.9 11.9 4.5M181 44.2l.9 12.1M187.6 54.1l1-2 2.1-3M196.6 48.5l4.6 10.1M211.2 62l5.2-.7 5.1 4.8M232.1 70.1l5.5 .9 5.4 2.8M260 79.8l11.8 4.2M182.3 44.7l.8 12.6M189 53.6l2.5-4.1M197.9 48.5l4.6 11M212.6 61.5l5.2-.2 5.1 5.1M233.5 69.8l5.4 1.2 5.5 2.9M261.4 79.7l11.8 4.3M189.8 53.7l3-4.5M199.2 48.6l4.6 11.9M213.9 61l5.2 .3 5.1 5.4M234.8 69.5l5.5 1.5 5.5 2.9M262.8 79.6l5.8 2.1M191.1 53.2l3-4.4M200.5 48.6l4.6 12.9M215.3 60.6l5.2 .8 5 5.5M236.2 69.3l5.4 1.7 5.5 3M264.2 79.5l5.8 2.2M191.9 54l.5-1.4 3-4.1M201.8 48.7l4.6 13.9M216.6 60.3l5.2 1.2 5.1 5.6M237.6 69.1l5.4 1.9M193.2 53.4l.5-1.3 2.6-3.3M203.1 48.8l4.6 15M218 59.9l5.1 1.8 5.1 5.7M238.9 68.9l5.5 2.2M194.5 52.9l.6-1.3 2.5-3.1M204.4 49l4.5 16M219.3 59.6l5.1 2.2M240.3 68.8l5.4 2.3M195.3 53.8l1.1-2.7 2-2.4M220.6 59.4l5.2 2.6M241.6 68.6l5.5 2.6M196.6 53.2l1.1-2.5 2-2.3M222 59.1l5.1 3.1M243 68.5l5.4 2.8M198 52.6l1-2.4 2-2.1M223.3 58.9l5.1 3.6M244.3 68.5l5.4 2.8M199.3 52l1-2.2 1.5-1.6M224.6 58.8l5.1 3.9M240.2 67.6l5.4 .8 5.5 3M194.2 40.4l.9 9.8M200 53l1.6-3.6 1.5-1.5M225.9 58.6l5.1 4.4M241.6 67.3l5.4 1.1M195.5 40.7l.9 10.1M201.3 52.4l1.6-3.4 1.5-1.4M227.3 58.5l5 4.7M242.9 67.1l5.4 1.3M196.7 41l.9 10.5M202.7 51.8l1.5-3.2 1-.9M223.3 62.3l5.3-3.8 5 5M244.2 66.8l5.4 1.6M198 41.3l.9 11M203.4 52.9l1.6-3.9 .5-.8 1-.8M224.6 61.4l5.3-3 5 5.4M245.6 66.6l5.4 1.9M199.3 41.6l.8 11.4M204.7 52.3l1.6-3.7 .5-.7 .5-.3M215.6 49.9l.5 1.2M225.9 60.7l5.3-2.3 5 5.6M246.9 66.4l5.4 2.1M200.5 41.9l.9 11.9M206 51.8l1.6-3.5 .5-.8 .5-.2M216.9 50.2l.5 1.3M227.2 60l5.3-1.6 5 5.9M248.2 66.2l5.4 2.4M201.8 42.3l.8 12.3M207.3 51.2l1.1-2.4 1-1.6M217.7 49.4l.9 2.5M228.6 59.4l5.2-1 5 6.1M249.5 66.1l5.4 2.6M203.1 42.6l.8 12.8M208.1 52.7l1-3.2 1.6-2.6M219 49.7l.9 2.6M229.9 58.9l5.2-.4 5 6.2M204.3 43l.8 13.3M209.3 52.1l1.1-3.1 1.6-2.4M220.3 50l.9 2.8M231.2 58.4l5.2 .2 5 6.3M210.6 51.6l1.1-3 1-1.7M221.1 49.1l1.4 4.3M232.5 58l5.2 .7M211.9 51l1.1-2.7 1-1.7M222.4 49.4l1.3 4.6M233.8 57.6l5.2 1.2M213.2 50.6l1.1-2.7 1-1.5M223.6 49.7l1.4 4.9M235.1 57.2l5.2 1.8M213.9 52.1l1.1-3.5 1.6-2.5M224.4 48.8l.9 2.7 .9 3.8M236.4 56.9l5.1 2.2M215.2 51.5l1.1-3.3 1-1.8M225.7 49.1l.9 2.9 .9 4.1M237.7 56.6l5.1 2.7"/><path stroke="#f4c531" d="M196.4 50.8l7.5 4.6M175.4 51.9l7.7 5.4M169.3 52.8l6.5 4.8M163 53.4l2.7 1.7 3.9 3.3M156.8 53.6l6.6 5.1M151.8 54.1l6.7 5.5M209.5 56.8l5.1-2.8M146.8 54.3l6.7 5.8M203.6 57.4l5.2-2.9 6.4-3M141.8 54.9l4.1 2.6 2.6 2.6M198.9 57.5l5.3-3 6.4-2.9M138.1 56.2l6.8 5.1M194.3 57.8l5.2-3 5.2-2.5M134.4 56.5l5.4 4.9M189.5 58.8l5.3-3.2 6.5-3.2M130.6 56.1l5.5 5.7M186.1 58.9l4-2.4 6.5-3.3M128.3 55.9l5.5 7.1M182.6 59.2l5.3-3.2 5.3-2.6M127.3 56.9l4.1 6.6M179.1 59.7l5.4-3.3 5.3-2.7M126.4 56.6l4.1 6.6M176.9 60.3l5.4-3.5 5.3-2.7M125.4 57.1l4.1 6.8M174.7 60.2l5.4-3.3 5.4-2.7M124.4 57.6l4.2 6.9M171.2 60.9l4-2.5 6.8-3.4M123.5 58l4.1 7.1M167.6 61.7l5.5-3.4 6.7-3.2M122.5 58.5l2.8 4.7M165.4 61.6l5.4-3.4 5.5-2.6M121.5 59.6l2.8 5M161.8 62.2l5.5-3.6 5.4-2.7M119.1 58.8l2.8 4.9M158.2 62.6l5.5-3.7 5.5-2.8M118.1 59.9l2.8 5.4M154.5 62.8l6.9-4.2 4.2-2.2M115.7 58.4l4.2 8.3M150.8 63.3l4.2-2.7 6.9-3.7M114.7 59l2.8 5.6M147.1 64l5.6-3.7 5.6-2.8M113.7 59.4l2.8 5.9M144.8 63.9l4.3-2.9 5.5-3M112.7 59.5l2.8 6.3M142.5 64.1l4.2-3.1 5.7-3M111.7 59.6l2.8 6.4M140.2 64.5l4.2-3.3 4.2-2.5M112.1 62.4l1.5 3.5M139.2 64.3l1.5-1.6 1.4-1.1 4.2-2.7M111.1 62l1.5 3.6M136.9 65.9l4.3-4.8 2.8-1.8M110.1 61.5l2.9 7.8M135.9 65.7l2.9-3.3 2.8-2.6M109.1 61l2.9 7.7M135 65.5l2.8-3.2 2.9-2.6M108.1 60.3l2.9 7.6M132.6 67.3l2.9-3.6 4.3-4M108.6 63l1.4 4M131.6 67.1l2.9-3.5 2.9-2.7M226.2 55.3l1.3 .8M104.2 64.5l1.5 5.2M121.8 68.7l1.5-2.2 2.9-3.4M201.2 58.6l2.6 1.9 3.9 3.3M102.8 67.8l1.4 6.7M116.1 70.9l3.1-5.1M183.2 61.8l2.7 2.1 3.9 3.8M219.2 65.3l4.1-3 5.3-2.9M102.8 71l1.4 8M113.3 73.4l1.6-3.5 1.5-2.7M170 64.6l2.8 2.3 2.7 3M200.2 69.4l4.2-3.6 2.7-1.8 2.8-1.4M102.9 69.1l1.4 7.7M111.9 77.3l1.6-4.5 1.6-3.4M162.2 68.2l5.5 5.3M186 72.1l4.3-3.6 2.8-1.9 2.8-1.3M232.3 63.2l9.1 1.7 6.5 .3M104.5 70.2l1.4 8.2M112.1 80.8l1.5-5.4 1.6-3.9M157 70.6l2.8 2.9 2.9 2.3M172.7 75.4l10.1-6.6M221.5 66.1l8 1.4 5.3 .2 6.7-.7 11.8-2.4M107.6 76.6l1.5 9.7M113.8 81.6l1.6-5.5M153.2 72.4l2.8 3.4 1.5 1.3 1.4 .9 1.5 .4 1.4-.3 1.5-.8 3-2.3 4.4-3.1M213.1 68.8l6.8 1.2 2.7 .2 4.1-.1 5.4-.8 12.1-2.5M115.5 84.8l1.6-6.1M152.2 74.9l2.9 3.3 1.5 1.1 1.5 .5 1.4-.1 1.5-.6 1.5-1.1 4.5-3.9M207.2 71.4l5.6 .9 5.5 .1 5.6-.7 9.6-1.9M252.3 68.5l11.8 .6M118.8 83.7l1.7-5.6M152.7 77.7l1.5 1.7 1.5 1.2 1.5 .7 1.5-.1 1.5-.6 1.5-1 3-2.4M204.1 74l5.6 .7 4.2-.2 4.2-.5 7-1.4M247.1 71.2l12 .4 10.6-.9M120.6 91.1l1.6-7.1M153.3 79.2l1.5 1.8 1.5 1.2 1.5 .5 1.5-.2 1.6-.8 3-2.1M202.2 76.5l5.8 .3 8.5-1.2M243 73.8l6.8 .3 5.4-.1 20.1-2M120.9 86.3l1.5 9.1M124 92.6l1.7-7.2M155.4 81.6l1.5 1.6 1.6 .8 1.5 0 1.5-.6 3.1-2M240.3 76.3l9.7 .1 19-1.8 12-.4M124.4 85l1.5 10.6M127.5 95.3l1.7-7.3M159.1 84.6l1.6 .7 1.5-.1 1.5-.6M240.3 78.8l8.4-.1 19.3-1.7 18.8-.6M131 98.4l1.7-6.7M162.9 87.1l1.5 .1 1.6-.5M241.8 81.2l5.6-.2 8.4-.8M266.9 79.4l15-.4 10.7-.8M133.1 90.6l1.5 9.5 1.7-4 1.7-7.2M268.6 81.7l12.4-.3 17.6-1.3M138.4 98.4l1.6 2.4 1.7-7.4M271.8 84l9.7-.3 23.1-1.5M142.2 93.7l1.5 9.8 1.7-4.6M276.4 86.3l34.4-2M133.1 90.6l5.3 7.8 5.3 5.1M124.4 85l5.1 8.9 5.1 6.2M140 100.8l5.4-1.9M120.9 86.3l5 9.3M136.3 96.1l5.4-2.7M127.5 95.3l5.2-3.6M124 92.6l5.2-4.6M120.6 91.1l5.1-5.7M117.2 90.8l5-6.8M104.5 70.2l4.6 16.1M118.8 83.7l5.1-5.1M115.5 84.8l5-6.7M102.9 69.1l4.5 18.8M113.8 81.6l4.9-7.3M101.3 64.9l4.5 21.2M112.1 80.8l4.9-8.6M99.8 58.7l4.4 20.3M110.4 83.2l4.8-11.7M111.9 77.3l4.9-8.7M101.3 57l4.3 25.9M111.8 78l4.8-11.1M102.8 52.1l4.3 24M104.2 54.1l4.3 30.3M113.1 79.3l4.8-14.2M114.6 74.6l4.8-11.2M159.1 84.6l5.3 2.6M160.7 85.3l5.3 1.4M156.9 83.2l5.3 2 5.4 .7M109.1 61l.9 6M153.3 79.2l5.2 4.8 5.2 .6M110.1 61.5l.9 6.4M154.8 81l5.2 3 5.3-.3M111.1 62l.9 6.7M151.3 75.7l5 6.5 5.2 1.2 5.4-.6M111.7 59.6l.9 6M118.8 74.7l4.8-13.5M152.7 77.7l5.1 5 5.3-.3M112.7 59.5l.9 6.4M120.3 71.4l4.8-11.3M154.2 79.4l5.1 3.1 5.3-1.1M113.7 59.4l.8 6.6M150.7 73.1l5 7.5 5.2 1.1 5.3-1.4M114.7 59l.8 6.8M152.2 74.9l5 6.4 5.2-.6M115.7 58.4l.8 6.9M153.7 76.7l5 4.5 5.2-1.6M117.1 60.9l.4 3.7M155.1 78.2l5.1 2.4 5.2-2.1M118.1 59.9l.4 3.7M151.7 70.6l4.9 8.7 5.1 .3 5.3-2.2M119.1 58.8l.8 7.9M153.2 72.4l4.9 7.4 5.1-1.4M120.1 57.5l.8 7.8M154.6 74.1l4.9 5.6 5.2-2.5M121.5 59.6l.4 4.1M127.2 74.6l4.9-15.8M156 75.8l5 3.3 5.3-3.1M122.5 58.5l.8 8.1M128.7 71.7l4.8-13.7M152.7 66.5l4.8 10.6 5 .9 5.3-3.1M123.5 58l.8 6.6M130.1 69.2l4.9-11.9M154.1 67.8l4.8 10.2 5.1-1.3M124.4 57.6l.9 5.6M131.6 67.1l4.8-10.5M155.5 69.2l4.9 9.2 5.1-3M125.4 57.1l.8 5.4M132.6 67.3l.5-2M157 70.6l4.8 7.5 5.2-4M126.4 56.6l1.2 8.5M134 65.4l.5-1.8M158.4 72.1l4.9 5.2 5.2-4.5M127.3 56.9l1.3 7.6M135 65.5l.9-3.3M159.8 73.5l5 2.6 5.2-4.3M128.3 55.9l1.2 8M135.9 65.7l1.5-4.8M156.5 64.1l4.7 10.6 5.1 .3 5.2-3.9M129.7 57.8l.8 5.4M136.9 65.9l1.9-6.2M157.9 65l4.8 10.8 5.1-1.9M130.6 56.1l.8 7.4M137.8 66.1l2-6.4M159.3 66l4.8 10.6 5.1-3.7M132 57.5l.4 3.7M139.2 64.3l1.5-4.6M160.7 67l4.8 10.2 5.2-5.3M133 55.4l.8 7.6M140.2 64.5l1.4-4.7M162.2 68.2l4.7 9.2 5.3-6.3M134.4 56.5l.4 3.8M141.1 65.4l1-3.8 1-2.7M163.6 69.4l4.8 8 5.2-6.9M135.3 54.2l.8 7.6M142.5 64.1l1.5-4.8M165 70.7l4.8 6.3 5.3-7.1M136.7 55.2l.8 8.1M143.4 65.2l1-4 1-2.7M166.3 72.1l5 4.2 5.2-6.9M138.1 56.2l.4 4M144.8 63.9l1.5-5M163.1 60.7l4.6 12.8M172.7 75.4l5.3-6.5M139.4 57.2l.4 4.2M146.2 62.9l1.5-4.7M164.5 61.3l4.6 13.7M174.2 74.5l5.2-5.9M140.4 54.1l.8 8.6M147.1 64l1.5-5.3M165.9 62l4.6 14.3M175.6 73.4l5.3-5.2M141.8 54.9l.4 4.3M148.6 63l1.5-5M167.3 62.8l4.6 14.8M177.1 72.4l5.2-4.5M143.1 55.7l.4 4.6M149.4 64.3l1.6-5.7M168.7 63.6l4.6 15M144.5 56.5l.4 4.8M150.8 63.3l1.6-5.3M145.5 53.3l.7 9.3M152.2 62.3l1.5-5M146.8 54.3l.4 4.5M153.1 63.8l1.5-5.8M203.7 76.7l5.4 1.8M148.2 55.3l.3 4.8M154.5 62.8l1.5-5.4M178.9 78.6l5.3-10.6M205.1 76.8l5.4 1.4M149.5 56.4l.4 5.1M155.9 62l1-3.8M180.3 77.6l5.4-10.2M206.5 76.8l5.5 1.2M150.5 53.2l.7 9.8M156.8 63.6l1.5-6.1M172.3 56.4l4.6 15.1M181.7 76.3l5.4-9.5M202.7 73.8l5.3 3 5.4 .9M151.8 54.1l.4 4.7M158.2 62.6l1.5-5.7M173.7 56.8l4.5 16.3M183.2 75l5.3-8.7M204.1 74l5.3 2.7M153.2 55.1l.3 5M159.5 61.6l1.1-4M175 57.3l4.6 17.4M184.6 73.5l5.3-7.6M205.5 74.3l5.3 2.2M154.5 56.2l.3 5.2M160.4 63.2l1.5-6.3M176.4 57.9l4.5 18.3M186 72.1l5.3-6.6M206.9 74.5l5.4 1.8M155.5 52.7l.3 4.6M161.8 62.2l1.5-5.9M177.8 58.5l4.4 19M187.5 70.8l5.2-5.6M208.3 74.6l5.4 1.5M156.8 53.6l.4 4.8M163.2 61.2l1-4.1M179.1 59.2l4.5 19.4M188.9 69.6l5.2-4.7M204.5 70.8l5.2 3.9 5.4 1.2M158.1 54.5l.4 5.1M164 62.6l1.6-6.2M205.9 71.1l5.2 3.6 5.4 .9M159.4 55.5l.4 5.4M165.4 61.6l1.5-5.8M207.2 71.4l5.3 3.2 5.5 .8M160.4 51.7l.7 10.5M166.8 60.6l1-3.9M208.6 71.7l5.3 2.8 5.5 .6M161.7 52.5l.4 5.1M167.6 61.7l1.6-5.6M210 71.9l5.3 2.5 5.5 .5M163 53.4l.4 5.3M169 60.8l1.5-5.3M211.4 72.1l5.3 2.1 5.5 .4M164.4 54.2l.3 5.6M169.8 61.8l1.6-5.3M212.8 72.3l5.3 1.7 5.5 .4M165.7 55.1l.3 6M171.2 60.9l1.5-5M209 67.9l5.2 4.5 5.3 1.3M166.6 51.2l.4 5M172.5 60l1.6-4.7M194.6 75.3l5.5-11.6M210.4 68.2l5.2 4.3 5.3 .9M168 52l.3 5.3M173.4 61l1.5-4.8M186.6 52.9l4.6 16.2M196 73.8l5.5-10.5M211.7 68.5l5.3 4 5.3 .7M244.6 81.1l5.8 1.9M169.3 52.8l.3 5.6M174.7 60.2l1.6-4.6M188 53.2l4.5 17.4M197.4 72.3l5.4-9.4M213.1 68.8l5.2 3.6 5.4 .5M240.3 78.8l5.7 2.3 5.8 1.8M170.6 53.7l.3 5.9M175.6 61.3l2-6.3M189.3 53.5l4.5 18.6M198.8 70.8l5.4-8.2M214.5 69.1l5.2 3.2 5.4 .3M241.7 78.8l5.7 2.2 5.8 1.7M171.9 54.6l.3 6.2M176.9 60.3l1.6-4.6M190.7 53.9l4.4 19.6M200.2 69.4l5.4-7.1M215.8 69.3l5.3 2.8 5.4 .2M243.1 78.9l5.7 2M172.8 50.4l.4 5.2M177.8 60.6l2-5.5M192 54.3l4.4 20.6M201.6 68.1l5.4-6.1M217.2 69.6l5.3 2.3 5.4 .2M238.9 76.2l5.6 2.7 5.7 1.9M174.1 51.2l.4 5.4M179.1 59.7l2-5.2M193.3 54.7l4.4 21.4M203 66.9l5.3-5.1M218.6 69.8l5.3 1.9 5.4 .1M240.3 76.3l5.6 2.5 5.7 1.8M175.4 51.9l.4 5.7M180.4 58.8l1.6-3.8M219.9 70l5.3 1.4 5.5 .2M241.7 76.4l5.6 2.4 5.7 1.7M176.7 52.7l.3 6M181.3 60.1l.5-2.2 1.5-3.6M216.1 65l5.2 5.1 5.3 1.1 5.5 .3M243.1 76.4l5.6 2.3 5.7 1.6M178 53.6l.3 6.3M182.6 59.2l.5-2.1 1-2.3M217.5 65.3l5.1 4.9 5.4 .7M244.4 76.5l5.7 2.1 5.7 1.6M179.3 54.4l.3 6.7M183.9 58.3l.6-1.9 1-2.2M218.8 65.5l5.2 4.7 5.4 .4M240.3 73.6l5.5 2.9 5.7 2 5.7 1.6M184.7 59.8l1.1-4.2 1-2M220.2 65.8l5.2 4.3 5.3 .2M241.7 73.7l5.5 2.8 5.7 1.9 5.7 1.5M186.1 58.9l1-3.9 .5-.9M221.5 66.1l5.2 4 5.4 0M243 73.8l5.6 2.7 11.4 3.3M271.8 84l6 2.3M187.4 58l1.1-3.7 .5-.7M222.9 66.4l5.2 3.5 5.4-.1M244.4 73.9l5.6 2.5 11.4 3.3M273.2 84l6 2.3M183.6 45.1l.8 13.2M188.2 59.7l1.6-6M224.2 66.7l5.2 3.1 5.4-.3M245.8 73.9l5.5 2.5 11.5 3.2M268.6 81.7l12 4.5M184.9 45.6l.8 13.8M189.5 58.8l1.6-5.6M225.5 66.9l5.3 2.7 5.4-.3M247.1 74l5.6 2.3 11.5 3.2M270 81.7l12 4.4M186.2 46.1l.8 14.4M190.8 58l1.1-4M211.1 73.3l5.5-13M226.9 67.1l5.2 2.2 5.5-.2M243 71l5.5 3 5.6 2.2 5.7 1.4 5.7 1.8 17.9 6.6M187.4 46.6l.8 15.1M191.6 59.7l1.6-6.3M212.4 72l5.6-12.1M228.2 67.4l5.3 1.6 5.4-.1M244.4 71.1l5.4 3 5.6 1.9 5.7 1.5 5.8 1.9 11.8 4.5 6.1 2M188.7 47.1l.8 15.9M192.9 58.7l1.6-5.8M213.8 70.6l5.5-11M224.4 61.8l5.1 5.7 5.3 1.3 5.5 0M245.7 71.1l5.5 3 5.6 1.8 5.7 1.4 23.6 8.6M190 47.7l.7 16.6M194.3 57.8l1-4M205.8 49.1l4.4 17.2M215.2 69.2l5.4-9.8M225.8 62l5 5.7 5.4 .8 5.4 .1M247.1 71.2l5.4 2.9 11.4 3.1 17.6 6.5 6 2.1M195.6 57l1-3.8M207.1 49.3l4.4 18.4M216.5 67.8l5.5-8.7M227.1 62.2l5.1 5.5 10.8 .8M248.4 71.3l5.5 2.7 11.4 3.1 11.6 4.4 12 4.1M196.3 59.3l.6-3.1 1.1-3.6M208.4 49.4l4.3 19.6M217.9 66.5l5.4-7.6M228.4 62.5l5.1 5.3 5.4 .1 5.4 .6M249.7 71.3l5.5 2.7 11.4 3 11.7 4.5 12 4M197.6 58.3l.6-2.8 1.1-3.5M209.7 49.6l4.3 20.8M219.2 65.3l5.4-6.5M229.7 62.7l5.1 5 5.4-.1M251.1 71.4l5.5 2.5 5.7 1.3 5.7 1.8 11.6 4.4 12.1 4M198.9 57.5l1.1-4.5M210.9 49.9l4.3 21.8M220.6 64.2l5.3-5.6M231 63l5.2 4.7 5.4-.4M247 68.4l5.4 3.1 5.5 2.3 5.7 1.3 5.7 1.8 11.7 4.5 12.1 3.9M200.3 56.7l1-4.3M212.2 50.1l4.3 22.8M221.9 63.2l5.4-4.7M232.3 63.2l5.2 4.4 5.4-.5M248.3 68.4l5.4 3.1 5.6 2.1 5.7 1.3 5.7 2 11.7 4.4 12 3.9M201.6 55.9l1.1-4.1M213.5 50.4l4.3 23.6M233.6 63.5l5.2 3.9 5.4-.6M249.6 68.4l5.5 3.2 5.5 1.9 5.7 1.3 17.4 6.4 12.1 3.9M202.3 58.3l1.1-5.4M234.9 63.8l5.2 3.4 5.5-.6M251 68.5l5.4 3.1 5.6 1.7 5.7 1.4 11.5 4.4 18 5.9M203.6 57.4l1.1-5.1M236.2 64l5.3 3 5.4-.6M252.3 68.5l5.4 3.1 11.3 3 11.5 4.4 18.1 5.9M204.9 56.6l1.1-4.8M237.5 64.3l5.3 2.5 5.4-.6M253.6 68.6l5.5 3 11.3 2.9 11.5 4.5 18 5.9M206.2 55.9l1.1-4.7M238.8 64.5l5.3 2 5.4-.4M254.9 68.7l5.5 2.8 11.3 3 11.5 4.4 18.1 5.9M206.9 58.5l1.2-5.8M240.1 64.7l5.3 1.5 5.5-.2 10.8 5.5 5.6 1.2 5.7 1.7 11.6 4.4 18.1 5.9M208.2 57.6l1.1-5.5M241.4 64.9l5.3 1 5.5 0 5.4 2.9 5.5 2.6 5.6 1.2 5.7 1.7 11.5 4.5 18.1 5.9M205.6 43.4l.7 13.8M209.5 56.8l1.1-5.2M237.7 58.7l5 6.3 5.4 .7 5.4 .1 5.4 3.1 5.5 2.4 5.6 1.1 5.7 1.9 5.7 2.4 5.9 2 18.1 5.9M206.8 43.7l.8 14.4M210.8 56.1l1.1-5.1M239 58.8l5 6.3 10.8 .7 5.4 3.1 5.5 2.2 5.6 1.2 5.7 2 5.8 2.3 23.9 7.9M208.1 44.1l.7 14.9M212.1 55.4l1.1-4.8M240.3 59l5 6.2 5.4-.1 5.4 .6 5.4 3.3 5.5 2 5.7 1.2 11.4 4.4 11.8 3.7 12.2 4.2M209.3 44.5l.7 15.5M212.8 58.1l1.1-6M241.5 59.1l5.1 6.1 5.4-.4 5.4 .9 5.4 3.3 5.5 1.9 5.7 1.2 11.4 4.4 11.9 3.7 12.1 4.2M210.6 45l.7 16M214 57.3l1.2-5.8M242.8 59.3l5.1 5.9 5.4-.6 5.4 1.1 5.4 3.4 5.6 1.6 5.6 1.3 11.5 4.4 11.8 3.7 12.2 4.2"/><path stroke="#e2d42e" d="M203.9 55.4l7.4 5.6M183.1 57.3l3.9 3.2 2.5 2.5M175.8 57.6l6.3 6.1M169.6 58.4l5.2 5.1M163.4 58.7l2.6 2.4 2.6 2.8M207.6 61.9l6.4-4.6M158.5 59.6l5.2 5.5M201.7 62.3l3.9-3 3.9-2.5M153.5 60.1l5.3 5.9M195.7 63.3l4-3.2 3.9-2.7M148.5 60.1l5.4 6.2M191 63.5l4-3.3 3.9-2.7M144.9 61.3l1.3 1.3 2.7 3.3M186.3 63.9l4-3.2 4-2.9M139.8 61.4l5.4 5.3M181.5 65.2l4-3.6 4-2.8M136.1 61.8l5.4 6.4M178 65.4l4.1-3.6 4-2.9M133.8 63l4 5.6M174.5 65.9l4.1-3.7 4-3M131.4 63.5l2.8 4.2M171 66.5l4-3.7 4.1-3.1M130.5 63.2l2.7 5.8M168.8 66.8l2.7-2.4 5.4-4.1M129.5 63.9l2.7 6.1M166.6 66.5l4.1-3.5 4-2.8M128.6 64.5l2.7 6.2M163 67.7l4.1-3.8 4.1-3M127.6 65.1l1.4 3M160.7 67.7l2.8-2.7 4.1-3.3M125.3 63.2l2.7 5.8M158.5 67.6l2.7-2.7 4.2-3.3M124.3 64.6l2.7 6.4M154.8 68l7-5.8M121.9 63.7l2.8 6.2M151.2 68.1l2.8-2.4 4.2-3.1M120.9 65.3l2.8 6.8M147.5 68.6l2.8-2.6 4.2-3.2M119.9 66.7l1.4 3.5M143.8 69.7l2.8-3 4.2-3.4M117.5 64.6l2.8 7.2M141.5 69.5l2.8-3 2.8-2.5M116.5 65.3l2.8 7.8M139.2 69.8l2.8-3.3 2.8-2.6M115.5 65.8l2.8 8.2M136.8 71.7l2.9-4.8 2.8-2.8M114.5 66l1.4 4M135.8 71l2.9-4.6 1.5-1.9M113.6 65.9l2.7 8.8M134.9 70.6l4.3-6.3M112.6 65.6l2.7 9M134 70.3l2.9-4.4M113 69.3l1.4 4.9M131.6 72.5l1.4-2.6 2.9-4.2M112 68.7l1.4 5M130.6 72.2l1.5-2.6 2.9-4.1M111 67.9l1.4 4.9M129.6 71.9l3-4.6M110 67l1.4 4.9M128.7 71.7l2.9-4.6M105.7 69.7l1.4 6.4M118.8 74.7l3-6M207.7 63.8l5 5.2M104.2 74.5l1.4 8.4M113.1 79.3l1.5-4.7 1.5-3.7M189.8 67.7l5.3 5.8M212.4 72l6.8-6.7M111.8 78l1.5-4.6M175.5 69.9l5.4 6.3M194.6 75.3l5.6-5.9M104.3 76.8l1.5 9.3M110.4 83.2l1.5-5.9M167.7 73.5l2.8 2.8 2.8 2.3M178.9 78.6l2.8-2.3 4.3-4.2M105.9 78.4l1.5 9.5M110.5 87.6l1.6-6.8M162.7 75.8l2.8 1.4 1.4 .2 1.5 0 1.4-.4 2.9-1.6M112.1 88.4l1.7-6.8M110.8 81.8l1.5 9.4M113.8 91.6l1.7-6.8M114.1 84.8l1.5 8.4 1.6-2.4 1.6-7.1M117.4 86.3l1.5 8.2 1.7-3.4M122.4 95.4l1.6-2.8M125.9 95.6l1.6-.3M129.5 93.9l1.5 4.5M134.6 100.1l5.4 .7M125.9 95.6l5.1 2.8 5.3-2.3M117.4 86.3l5 9.1 5.1-.1M114.1 84.8l4.8 9.7 5.1-1.9M110.8 81.8l4.8 11.4 5-2.1M107.6 76.6l4.7 14.6 4.9-.4M109.1 86.3l4.7 5.3 5-7.9M105.9 78.4l4.6 14.1 5-7.7M112.1 88.4l5-9.7M104.3 76.8l4.6 15.7M110.5 87.6l4.9-11.5M102.8 71l4.4 22M108.8 90.2l4.8-14.8M101.3 62.7l4.4 25.7M110.2 84.1l4.9-14.7M102.8 60.4l4.2 32.3M111.5 85.6l4.9-18.4M111 67.9l.4 4M115.8 84.6l4.9-20.6M112 68.7l.4 4.1M117.3 79l4.8-16.6M112.6 65.6l.8 8.1M113.6 65.9l.8 8.3M114.5 66l.8 8.6M115.5 65.8l.4 4.2M116.5 65.3l.4 4.3M117.5 64.6l.8 9.4M118.5 63.6l.8 9.5M119.9 66.7l.4 5.1M124.2 82.2l5-21.5M120.9 65.3l.4 4.9M125.7 77.9l4.9-18.2M121.9 63.7l.4 4.8M123.3 66.6l.4 5.5M124.3 64.6l.4 5.3M129.6 71.9l.5-2.7M125.3 63.2l.4 4.4M130.6 72.2l1-5.1M126.2 62.5l.8 8.5M131.6 72.5l1-5.2M127.6 65.1l.4 3.9M132.5 72.9l1.5-7.5M128.6 64.5l.4 3.6M134 70.3l1-4.8M129.5 63.9l.4 3.5M134.9 70.6l1-4.9M130.5 63.2l.8 7.5M135.8 71l1.1-5.1M131.4 63.5l.8 6.5M136.8 71.7l1-5.6M132.4 61.2l.8 7.8M138.2 69.1l1-4.8M133.8 63l.4 4.7M139.2 69.8l1-5.3M134.8 60.3l.7 9.7M140.1 71.3l1-5.9M136.1 61.8l.4 4.8M141.5 69.5l1-5.4M137.5 63.3l.3 5.3M142.4 71.4l1-6.2M138.5 60.2l.3 4.7M143.8 69.7l1-5.8M167.7 73.5l5 1.9M139.8 61.4l.4 5.1M145.2 68.1l1-5.2M169.1 75l5.1-.5M141.2 62.7l.3 5.5M146.1 70.1l1-6.1M170.5 76.3l5.1-2.9M142.2 59.2l.7 10.8M147.5 68.6l1.1-5.6M171.9 77.6l5.2-5.2M143.5 60.3l.4 5.1M148.9 67.2l.5-2.9M173.3 78.6l5.2-7.1M144.9 61.3l.3 5.4M149.8 69.5l1-6.2M170 64.6l4.7 14.7 5.2-8.7M146.2 62.6l.4 5.5M151.2 68.1l1-5.8M171.4 65.7l4.7 13.9 5.3-10M147.2 58.8l.4 5.4M152.6 66.8l.5-3M172.8 66.9l4.7 12.4 5.3-10.5M148.5 60.1l.4 5.8M153.4 69.3l1.1-6.5M174.2 68.4l4.7 10.2M149.9 61.5l.3 6.3M154.8 68l1.1-6M175.5 69.9l4.8 7.7M156.2 66.8l.6-3.2M176.9 71.5l4.8 4.8M152.2 58.8l.3 5.8M157.1 69.1l1.1-6.5M178.2 73.1l5 1.9M153.5 60.1l.4 6.2M158.5 67.6l1-6M179.6 74.7l5-1.2M154.8 61.4l.4 6.7M159.9 66.2l.5-3M180.9 76.2l5.1-4.1M155.8 57.3l.4 5.6M160.7 67.7l1.1-5.5M182.2 77.5l5.3-6.7M157.2 58.4l.3 6M162.1 66.3l1.1-5.1M183.6 78.6l5.3-9M158.5 59.6l.3 6.4M163 67.7l1-5.1M180.5 60l4.5 19.4 5.3-10.9M159.8 60.9l.3 6.8M164.3 66.3l1.1-4.7M181.8 60.8l4.5 19 5.4-12.3M165.2 67.9l1.6-7.3M183.2 61.8l4.5 18 5.4-13.2M162.1 57.6l.3 6M166.6 66.5l1-4.8M184.5 62.8l4.6 16.7 5.4-13.6M163.4 58.7l.3 6.4M167.9 65.2l1.1-4.4M185.9 63.9l4.5 14.9 5.5-13.5M164.7 59.8l.3 6.9M168.8 66.8l1-5M187.2 65.1l4.6 12.7 5.5-13.1M166 61.1l.3 7.3M170.1 65.6l1.1-4.7M188.5 66.4l4.7 10.3 5.5-12.5M167 56.2l.3 6.3M171 66.5l1.5-6.5M189.8 67.7l4.8 7.6M168.3 57.3l.3 6.6M172.3 65.3l1.1-4.3M191.2 69.1l4.8 4.7M169.6 58.4l.3 7.1M173.1 67.4l.6-3.4 1-3.8M192.5 70.6l4.9 1.7M170.9 59.6l.3 7.5M174.5 65.9l.5-3.1 .6-1.5M193.8 72.1l5-1.3M175.9 64.6l.5-2.9 .5-1.4M195.1 73.5l5.1-4.1M173.2 55.6l.3 6.5M176.7 66.8l1.1-6.2M196.4 74.9l5.2-6.8M174.5 56.6l.3 6.9M178 65.4l1.1-5.7M197.7 76.1l5.3-9.2M175.8 57.6l.2 7.4M179.4 64.1l1-5.3M194.6 55.2l4.4 21.8 5.4-11.2M177 58.7l.3 7.8M180.1 66.5l1.2-6.4M196 55.8l4.3 21.9 5.5-12.9M181.5 65.2l1.1-6M197.3 56.4l4.3 21.8 5.5-14.2M182.8 63.9l1.1-5.6M198.6 57.1l4.4 21.2 5.5-15.1M180.6 55.3l.3 7M184.2 62.7l.5-2.9M199.9 57.8l4.4 20.2 5.6-15.4M181.9 56.3l.2 7.4M184.9 65.1l1.2-6.2M201.2 58.6l4.4 18.9 5.6-15.5M183.1 57.3l.3 7.7M186.3 63.9l1.1-5.9M202.5 59.5l4.5 17.3 5.6-15.3M184.4 58.3l.3 8.1M187.6 62.8l.6-3.1M203.8 60.5l4.6 15.3 5.5-14.8M188.4 66.1l1.1-7.3M205.1 61.5l4.6 13.1 5.6-14M189.7 64.8l1.1-6.8M206.4 62.6l4.7 10.7M191 63.5l.6-3.8M207.7 63.8l4.7 8.2M192.4 62.3l.5-3.6M208.9 65l4.9 5.6M193.7 61.2l.6-3.4M210.2 66.3l5 2.9M191.3 48.3l.7 17.3M194.4 64.5l1.2-7.5M211.5 67.7l5 .1M192.6 48.9l.6 18.1M195.7 63.3l.6-4M212.7 69l5.2-2.5M193.8 49.5l.7 19M197 62.2l.6-3.9M214 70.4l5.2-5.1M195.1 50.2l.6 19.8M198.4 61.1l.5-3.6M215.2 71.7l5.4-7.5M196.4 50.8l.5 20.7M199.1 64.7l1.2-8M216.5 72.9l5.4-9.7M200.4 63.5l1.2-7.6M217.8 74l5.5-11.7M201.7 62.3l.6-4M214.8 50.7l4.2 24.2 5.6-13.5M203 61.3l.6-3.9M216.1 51.1l4.2 24.6 5.6-15M204.3 60.3l.6-3.7M217.4 51.5l4.2 24.7 5.6-16.2M205 64.1l1.2-8.2M218.6 51.9l4.2 24.6 5.8-17.1M206.3 62.9l.6-4.4M219.9 52.3l4.2 24.2 5.8-17.6M207.6 61.9l.6-4.3M221.2 52.8l4.2 23.5 5.8-17.9M208.9 60.8l.6-4M222.5 53.4l4.2 22.4 5.8-17.8M210.2 59.9l.6-3.8M223.7 54l4.3 21.1 5.8-17.5M210.8 64.2l1.3-8.8M225 54.6l4.3 19.7 5.8-17.1M212.1 63.1l.7-5M226.2 55.3l4.4 18 5.8-16.4M213.4 62.1l.6-4.8M227.5 56.1l4.5 16.1 5.7-15.6"/><path stroke="#c5db30" d="M189.5 63l5 5.5M182.1 63.7l3.8 4.2M174.8 63.5l5 6.2M206.9 68l6.5-5.9M168.6 63.9l5.1 6.8M201 67.9l2.7-2.6 3.9-3.4M163.7 65.1l3.9 5.2M195.1 68.8l2.6-2.8 4-3.7M158.8 66l3.9 5.4M190.4 68.8l5.3-5.5M153.9 66.3l3.9 5.8M185.7 68.9l5.3-5.4M148.9 65.9l4 6M180.9 69.5l5.4-5.6M145.2 66.7l1.4 1.4 2.6 4.3M176.1 71.3l2.7-3.3 2.7-2.8M141.5 68.2l4.1 5.4M172.6 71.8l2.7-3.5 2.7-2.9M137.8 68.6l2.7 4.2M169 72.3l5.5-6.4M134.2 67.7l4 7.4M165.5 72.7l2.7-3.4 2.8-2.8M133.2 69l2.7 5.4M164.6 71.4l4.2-4.6M132.2 70l1.4 3.9M161 72.9l2.8-3.5 2.8-2.9M131.3 70.7l1.3 3.9M158.8 72.8l4.2-5.1M129 68.1l2.7 7.4M156.5 72.8l4.2-5.1M128 69l2.7 7.8M152.9 73.7l5.6-6.1M127 71l1.4 3.9M149.2 74.2l2.9-3.4 2.7-2.8M124.7 69.9l1.3 3.9M145.6 74.7l2.8-3.7 2.8-2.9M123.7 72.1l1.3 4.4M141.8 76l2.9-4.1 2.8-3.3M121.3 70.2l2.7 8.8M139.5 75.8l1.5-2.4 2.8-3.7M120.3 71.8l1.4 4.4M137.2 77l1.4-3.5 2.9-4M119.3 73.1l1.4 4.8M136.3 75.7l2.9-5.9M118.3 74l1.4 5.2M133.9 78.3l2.9-6.6M115.9 70l2.8 10.2M132.9 77.3l2.9-6.3M116.3 74.7l1.4 5.8M132 76.6l2.9-6M115.3 74.6l1.4 5.9M131 76.1l3-5.8M114.4 74.2l1.3 6.1M128.6 79.3l3-6.8M113.4 73.7l1.3 6M127.7 78.7l2.9-6.5M112.4 72.8l1.4 6M126.7 78.4l2.9-6.5M111.4 71.9l1.4 5.9M125.7 77.9l3-6.2M107.1 76.1l1.4 8.3M117.3 79l1.5-4.3M212.7 69l3.8 3.9 2.5 2M229.3 74.3l2.7-2.1M111.5 85.6l1.6-6.3M195.1 73.5l3.9 3.5 2.6 1.2M204.3 78l1.3-.5 2.8-1.7 4-3.8M104.2 79l1.5 9.4M110.2 84.1l1.6-6.1M180.9 76.2l2.7 2.4 1.4 .8 1.3 .4 1.4 0 1.4-.3 1.3-.7 1.4-1 2.8-2.5M105.8 86.1l1.4 6.9M108.8 90.2l1.6-7M173.3 78.6l1.4 .7 1.4 .3 1.4-.3 1.4-.7M107.4 87.9l1.5 4.6 1.6-4.9M109.1 86.3l1.4 6.2 1.6-4.1M112.3 91.2l1.5 .4M107.4 87.9l4.7 .5M108.9 92.5l4.9-10.9M105.8 86.1l4.7 1.5M107.2 93l4.9-12.2M104.2 79l4.6 11.2M105.7 88.4l4.7-5.2M102.8 67.8l4.3 27 4.8-17.5M104.2 74.5l4.4 16.8 4.9-18.5M105.6 82.9l4.6 1.2M107 92.7l4.8-14.7M104.2 64.5l4.2 33.8M105.7 69.7l4.3 23.6 4.9-23.4M107.1 76.1l4.4 9.5M108.5 84.4l4.6-5.1M105.7 56.6l4.1 38.2M110 67l4.2 25.1 5-26.3M111.4 71.9l4.4 12.7M112.4 72.8l.4 5 4.5 1.2M113.4 73.7l.4 5.1M114.1 85.3l4.7-10.6M114.4 74.2l.3 5.5M115.3 74.6l.4 5.7M115.9 70l.8 10.5M116.9 69.6l.8 10.9M118.3 74l.4 6.2M121.2 95.4l5-32.3M119.3 73.1l.4 6.1M122.7 87.7l5-25.9M120.3 71.8l.4 6.1M121.3 70.2l.4 6M122.3 68.5l.4 5.7M126.7 78.4l.5-3.8M123.7 72.1l.3 6.9M127.7 78.7l1-7M124.7 69.9l.3 6.6M128.6 79.3l1-7.4M125.7 67.6l.3 6.2M129.6 79.9l1-7.7M127 71l.4 7.3M131 76.1l.6-3.6M128 69l.4 5.9M132 76.6l.5-3.7M129 68.1l.4 4.5M132.9 77.3l1.1-7M129.9 67.4l.8 9.4M133.9 78.3l1-7.7M131.3 70.7l.4 4.8M135.3 74.7l.5-3.7M132.2 70l.4 4.6M136.3 75.7l.5-4M133.2 69l.4 4.9M137.2 77l1-7.9M134.2 67.7l.3 3.9M138.6 73.5l.6-3.7M135.5 70l.4 4.4M139.5 75.8l.6-4.5M136.5 66.6l.4 5.9M141 73.4l.5-3.9M137.8 68.6l.4 6.5M141.8 76l.6-4.6M138.8 64.9l.4 5.8M143.3 73.8l.5-4.1M140.2 66.5l.3 6.3M144.1 77l1.1-8.9M141.5 68.2l.4 6.9M145.6 74.7l.5-4.6M147 72.8l.5-4.2M143.9 65.4l.3 6.3M147.8 76.3l1.1-9.1M145.2 66.7l.4 6.9M149.2 74.2l.6-4.7M146.6 68.1l.3 7.3M150.6 72.4l.6-4.3M147.6 64.2l.3 6M151.5 75.6l1.1-8.8M148.9 65.9l.3 6.5M152.9 73.7l.5-4.4M150.2 67.8l.3 7.1M154.3 72.1l.5-4.1M151.2 63l.3 6.8M155.1 74.7l1.1-7.9M152.5 64.6l.4 7.3M156.5 72.8l.6-3.7M153.9 66.3l.3 7.9M157.4 74.9l1.1-7.3M158.8 72.8l1.1-6.6M156.2 62.9l.3 7.1M160.2 70.9l.5-3.2M157.5 64.4l.3 7.7M161 72.9l1.1-6.6M158.8 66l.3 8.2M162.4 71.1l.6-3.4M163.2 73.3l1.1-7M161.1 62.2l.3 7.3M164.6 71.4l.6-3.5M162.4 63.6l.3 7.8M165.5 72.7l1.1-6.2M163.7 65.1l.3 8.3M166.9 70.9l1-5.7M168.2 69.3l.6-2.5M169 72.3l1.1-6.7M167.3 62.5l.3 7.8M170.4 70.6l.6-4.1M168.6 63.9l.3 8.4M171.8 69l.5-3.7M169.9 65.5l.3 8.9M172.6 71.8l.5-4.4M173.9 70l.6-4.1M172.2 60.8l.3 8.1M174.7 73.3l1.2-8.7M173.5 62.1l.2 8.6M176.1 71.3l.6-4.5M174.8 63.5l.2 9.1M177.4 69.6l.6-4.2M178.8 68l.6-3.9M179.5 71.2l.6-4.7M178.3 59.9l.3 8.2M180.9 69.5l.6-4.3M179.6 61.1l.2 8.6M182.3 67.9l.5-4M180.9 62.3l.2 9.2M183 72.3l1.2-9.6M182.1 63.7l.3 9.5M184.3 70.5l.6-5.4M185.7 68.9l.6-5M187 67.4l.6-4.6M185.7 59.4l.2 8.5M187.7 72.1l.7-6M187 60.5l.2 9M189.1 70.4l.6-5.6M188.2 61.7l.2 9.4M190.4 68.8l.6-5.3M189.5 63l.2 9.8M191.7 67.3l.7-5M193.1 65.8l.6-4.6M193.7 70.4l.7-5.9M195.1 68.8l.6-5.5M196.4 67.3l.6-5.1M197.7 66l.7-4.9M198.4 70.9l.7-6.2M197.6 51.5l.6 21.4M199.7 69.4l.7-5.9M198.9 52.3l.5 22.1M201 67.9l.7-5.6M200.1 53l.5 22.7M202.3 66.6l.7-5.3M201.4 53.8l.5 23.1M203.7 65.3l.6-5M202.6 54.6l.5 23.3M204.3 70.8l.7-6.7M205.6 69.4l.7-6.5M206.9 68l.7-6.1M208.2 66.7l.7-5.9M209.5 65.4l.7-5.5M211.4 70l.7-6.9M212.7 68.7l.7-6.6"/><path stroke="#9ad33b" d="M194.5 68.5l3.7 4.4M185.9 67.9l5 6.6M208.8 72.9l3.9-4.2M179.8 69.7l3.8 5.3M203 72.4l3.9-4.4M173.7 70.7l2.6 3.9M195.7 74.3l5.3-6.4M167.6 70.3l3.8 6.3M191.1 73.9l4-5.1M162.7 71.4l2.6 4.2M185 75.8l5.4-7M157.8 72.1l2.6 4.5M180.3 76.2l2.7-3.9 2.7-3.4M152.9 71.9l2.6 4.8M176.8 75.1l4.1-5.6M149.2 72.4l2.6 5.1M173.3 75.4l2.8-4.1M145.6 73.6l1.3 1.8 1.3 2.4M169.8 76l2.8-4.2M140.5 72.8l4 7.2M164.9 78.4l4.1-6.1M138.2 75.1l1.3 2.8M162.7 76.8l2.8-4.1M135.9 74.4l2.7 6.5M160.5 77.6l4.1-6.2M133.6 73.9l2.6 7.3M156.8 79.9l4.2-7M132.6 74.6l1.3 4.7M154.6 79.9l1.4-2.7 2.8-4.4M131.7 75.5l1.3 4.9M152.3 78.8l4.2-6M130.7 76.8l1.3 5.1M148.7 80.2l4.2-6.5M128.4 74.9l1.3 4.7M145 81.3l1.4-2.7 2.8-4.4M126 73.8l2.7 10.1M142.7 79.5l2.9-4.8M125 76.5l1.4 5.2M139 81.8l2.8-5.8M124 79l1.4 5.9M136.6 83.3l1.5-4.6 1.4-2.9M121.7 76.2l1.3 5.3M135.7 81.2l1.5-4.2M120.7 77.9l1.3 5.9M133.3 84.3l3-8.6M119.7 79.2l1.3 6.4M132.4 82.7l1.5-4.4M118.7 80.2l1.3 7M131.5 81.4l1.4-4.1M129 85.5l1.5-4.9 1.5-4M116.7 80.5l1.4 7.6M128.1 84.6l2.9-8.5M115.7 80.3l1.4 7.6M127.1 83.9l1.5-4.6M114.7 79.7l1.4 7.8M126.2 83.2l1.5-4.5M113.8 78.8l1.3 7.7M125.2 82.6l1.5-4.2M112.8 77.8l1.3 7.5M124.2 82.2l1.5-4.3M115.8 84.6l1.5-5.6M219 74.9l2.6 1.3 2.5 .3 2.6-.7 2.6-1.5M105.6 82.9l1.4 9.8M110 93.3l1.5-7.7M201.6 78.2l1.4 .1 1.3-.3M105.7 88.4l1.4 6.4 1.5-3.5 1.6-7.2M107.2 93l1.6-2.8M108.4 98.3l4.9-24.9M109.8 94.8l4.8-20.2M107.1 59.5l4.1 44.8 4.9-33.4M108.6 63l4.1 38.3 5-33.2M113.8 78.8l.3 6.5M114.7 79.7l.4 6.8M115.5 95.5l4.8-24.1M115.7 80.3l.4 7.2M116.7 80.5l.4 7.4M119.6 107l5.2-42.3M119.7 79.2l.3 8M120.7 77.9l.3 7.7M121.7 76.2l.3 7.6M125.2 82.6l.5-4.7M122.7 74.2l.3 7.3M126.2 83.2l.5-4.8M127.1 83.9l.6-5.2M125 76.5l.4 8.4M128.1 84.6l.5-5.3M126 73.8l.4 7.9M129 85.5l.6-5.6M130.5 80.6l.5-4.5M128.4 74.9l.3 9M131.5 81.4l.5-4.8M129.4 72.6l.3 7M132.4 82.7l.5-5.4M130.7 76.8l.3 8.6M133.3 84.3l.6-6M131.7 75.5l.3 6.4M134.8 79.6l.5-4.9M132.6 74.6l.4 5.8M135.7 81.2l.6-5.5M133.6 73.9l.3 5.4M136.6 83.3l.6-6.3M134.5 71.6l.4 5.9M138.1 78.7l.5-5.2M135.9 74.4l.3 6.8M139 81.8l.5-6M136.9 72.5l.3 5M140.4 78.7l.6-5.3M138.2 75.1l.4 5.8M141.3 82.6l.5-6.6M139.2 70.7l.3 7.2M142.7 79.5l.6-5.7M140.5 72.8l.4 8.2M145 81.3l.6-6.6M142.9 70l.3 7.5M146.4 78.6l.6-5.8M144.2 71.7l.3 8.3M147.2 82.9l.6-6.6M145.6 73.6l.3 9M148.7 80.2l.5-6M150.1 77.7l.5-5.3M147.9 70.2l.3 7.6M150.9 81.3l.6-5.7M149.2 72.4l.3 8.5M152.3 78.8l.6-5.1M153.7 76.6l.6-4.5M151.5 69.8l.3 7.7M154.6 79.9l.5-5.2M152.9 71.9l.2 8.5M156 77.2l.5-4.4M156.8 79.9l.6-5M155.2 68.1l.3 8.6M158.2 77.3l.6-4.5M156.5 70l.3 9.3M159.1 80.2l1.1-9.3M157.8 72.1l.2 10.1M160.5 77.6l.5-4.7M161.3 79.2l1.1-8.1M160.1 67.7l.3 8.9M162.7 76.8l.5-3.5M161.4 69.5l.3 9.6M164.1 74.6l.5-3.2M162.7 71.4l.2 10.3M164.9 78.4l.6-5.7M166.3 76.2l.6-5.3M165 66.7l.3 8.9M167.6 74.1l.6-4.8M166.3 68.4l.3 9.5M168.4 78.2l.6-5.9M167.6 70.3l.2 10.1M169.8 76l.6-5.4M171.2 73.9l.6-4.9M171.9 77.7l.7-5.9M171.2 67.1l.2 9.5M173.3 75.4l.6-5.4M172.5 68.9l.2 10M175.4 77.3l.7-6M176.8 75.1l.6-5.5M176 65l.3 9.6M178.2 73l.6-5M177.3 66.5l.2 10.1M178.9 78.4l.6-7.2M178.6 68.1l.2 10.5M180.3 76.2l.6-6.7M181.6 74.1l.7-6.2M183.7 77.9l.6-7.4M183.4 65l.2 10M185 75.8l.7-6.9M184.7 66.4l.2 10.5M186.4 73.9l.6-6.5M185.9 67.9l.2 10.7M188.4 77.9l.7-7.5M189.7 75.8l.7-7M191.1 73.9l.6-6.6M190.7 64.3l.2 10.2M192.4 72.1l.7-6.3M192 65.6l.2 10.5M193.2 67l.2 10.7M194.4 76.2l.7-7.4M195.7 74.3l.7-7M197.1 72.6l.6-6.6M199 77.4l.7-8M200.3 75.7l.7-7.8M201.6 74l.7-7.4M203 72.4l.7-7.1M203.9 55.4l.4 23.2M205.1 56.3l.5 22.7M206.2 75.8l.7-7.8M206.3 57.2l.5 21.9M207.5 74.3l.7-7.6M207.6 58.1l.5 20.7M208.8 72.9l.7-7.5M208.8 59l.6 19.2M210.1 71.4l.7-7.2M210 60l.7 17.3M211.3 61l.7 15.3"/><path stroke="#81cd44" d="M198.2 72.9l2.4 2.8 2.5 2.2M210.7 77.3l1.3-1M190.9 74.5l3.7 4.6M203.6 78.6l5.2-5.7M183.6 75l3.8 5.3M197.7 79l5.3-6.6M176.3 74.6l3.7 6.1M191.7 80l4-5.7M171.4 76.6l2.5 4.6M187 80l4.1-6.1M165.3 75.6l2.5 4.8M182.3 80.1l2.7-4.3M160.4 76.6l2.5 5.1M177.5 80.8l2.8-4.6M155.5 76.7l2.5 5.5M172.7 82.4l4.1-7.3M151.8 77.5l2.6 6M169.2 83.3l4.1-7.9M148.2 77.8l2.6 6.5M165.6 83.3l4.2-7.3M144.5 80l2.7 5.2M162.1 83.9l2.8-5.5M139.5 77.9l2.7 6.4M158.5 85.2l1.4-3.2 2.8-5.2M138.6 80.9l1.3 3.8M157.6 83.2l2.9-5.6M136.2 81.2l1.4 4.2M155.4 82.9l1.4-3M133.9 79.3l1.3 5.5M151.7 85.5l2.9-5.6M133 80.4l1.3 6M149.5 84.1l2.8-5.3M132 81.9l1.3 6.4M145.8 86.2l2.9-6M129.7 79.6l1.3 5.8M143.5 84.4l1.5-3.1M128.7 83.9l1.3 7.1M139.8 86.3l2.9-6.8M126.4 81.7l1.3 6.5M137.5 86l1.5-4.2M135.1 89.3l1.5-6M123 81.5l1.3 6.6M134.2 86.4l1.5-5.2M122 83.8l1.3 7.4M131.8 90.5l1.5-6.2M130.9 88.4l1.5-5.7M130 86.6l1.5-5.2M117.7 80.5l1.3 7.3M127.5 92.1l1.5-6.6M126.6 90.9l1.5-6.3M125.6 89.8l1.5-5.9M124.7 88.8l1.5-5.6M123.7 88.2l1.5-5.6M114.1 85.3l1.4 10.2M122.7 87.7l1.5-5.5M108.5 84.4l1.3 10.4M114.2 92.1l1.6-7.5M107 92.7l1.4 5.6 1.6-5M115.1 86.5l.4 9M116.7 110.1l5.1-41.4M117.7 80.5l.4 7.6M118.7 80.2l.3 7.6M123.7 88.2l.5-6M122 83.8l.3 10.2M124.7 88.8l.5-6.2M123 81.5l.3 9.7M125.6 89.8l.6-6.6M124 79l.3 9.1M126.6 90.9l.5-7M127.5 92.1l.6-7.5M126.4 81.7l.3 10.9M127.4 78.3l.3 9.9M130 86.6l.5-6M130.9 88.4l.6-7M129.7 79.6l.3 11.4M131.8 90.5l.6-7.8M134.2 86.4l.6-6.8M133 80.4l.3 7.9M135.1 89.3l.6-8.1M133.9 79.3l.4 7.1M134.9 77.5l.3 7.3M137.5 86l.6-7.3M136.2 81.2l.3 8.8M138.4 90.9l.6-9.1M137.2 77.5l.4 7.9M139.8 86.3l.6-7.6M139.5 77.9l.4 6.8M142.1 88.3l.6-8.8M140.9 81l.3 8M143.5 84.4l.6-7.4M141.9 75.1l.3 9.2M144.4 90.2l.6-8.9M143.2 77.5l.3 10.5M145.8 86.2l.6-7.6M148.1 87.5l.6-7.3M146.9 75.4l.3 9.8M149.5 84.1l.6-6.4M148.2 77.8l.3 10.3M151.7 85.5l.6-6.7M150.5 74.9l.3 9.4M153.2 82.5l.5-5.9M151.8 77.5l.3 10.5M154 86.4l.6-6.5M155.4 82.9l.6-5.7M154.2 74.2l.2 9.3M156.2 86.6l.6-6.7M155.5 76.7l.2 10.2M157.6 83.2l.6-5.9M158.5 85.2l.6-5M159.9 82l.6-4.4M159.1 74.2l.2 11M160.7 87.1l.6-7.9M160.4 76.6l.2 11.7M162.1 83.9l.6-7.1M163.5 81l.6-6.4M164.2 86.3l.7-7.9M164 73.4l.2 11M165.6 83.3l.7-7.1M165.3 75.6l.2 11.6M167 80.6l.6-6.5M167.8 86.2l.6-8M169.2 83.3l.6-7.3M168.9 72.3l.2 10.7M170.6 80.3l.6-6.4M170.2 74.4l.2 11.2M171.3 85.4l.6-7.7M172.7 82.4l.6-7M174.1 79.7l.6-6.4M173.7 70.7l.2 10.5M175 72.6l.2 10.9M176.1 83.4l.7-8.3M176.3 74.6l.2 10.9M177.5 80.8l.7-7.8M179.6 84.8l.7-8.6M179.8 69.7l.2 11M180.9 82.4l.7-8.3M181.1 71.5l.2 11M182.3 80.1l.7-7.8M182.4 73.2l.2 10.9M184.3 84l.7-8.2M185.7 82l.7-8.1M187 80l.7-7.9M187.2 69.5l.2 10.8M188.4 71.1l.2 10.7M189 83.5l.7-7.7M189.7 72.8l.2 10.1M190.4 81.8l.7-7.9M190.9 74.5l.2 9M191.7 80l.7-7.9M193.1 78.1l.6-7.7M194.5 68.5l.1 10.6M195 81.9l.7-7.6M195.7 70l.2 10.2M196.3 80.6l.8-8M196.9 71.5l.2 9.5M197.7 79l.7-8.1M198.2 72.9l.2 8.4M199.4 74.4l.3 6.8 .6-5.5M200.6 75.7l.4 5 .6-6.7M202.3 79.8l.7-7.4M203.6 78.6l.7-7.8M204.3 78.6l.6-1.3 .7-7.9M205.6 79l.6-3.2M206.8 79.1l.7-4.8M208.1 78.8l.7-5.9M209.4 78.2l.7-6.8M210.7 77.3l.7-7.3M212 76.3l.7-7.6"/><path stroke="#69c84e" d="M203.1 77.9l2.5 1.1 1.2 .1 1.3-.3 2.6-1.5M194.6 79.1l2.5 1.9 1.3 .3 1.3-.1 1.3-.5 2.6-2.1M187.4 80.3l2.5 2.6 1.2 .6 1.3 0 1.3-.6 1.3-1 2.7-2.9M180 80.7l2.6 3.4 1.2 1.1 1.3 .5M186.4 85.6l1.3-.8 1.3-1.3 2.7-3.5M173.9 81.2l2.6 4.3 1.2 1.5M183 85.8l4-5.8M167.8 80.4l3.8 7.5M178.2 87l4.1-6.9M162.9 81.7l2.6 5.5M174.8 86.1l2.7-5.3M158 82.2l2.6 6.1M169.9 88.5l2.8-6.1M154.4 83.5l2.6 6.8M166.4 89.2l2.8-5.9M150.8 84.3l1.3 3.7M162.8 89.6l2.8-6.3M147.2 85.2l1.3 2.9M159.2 90.8l2.9-6.9M142.2 84.3l2.6 7.6M157.1 88.8l1.4-3.6M139.9 84.7l1.3 4.3M154.8 90.7l2.8-7.5M137.6 85.4l1.2 5M152.5 90.5l2.9-7.6M135.2 84.8l1.3 5.2M150.3 89l1.4-3.5M134.3 86.4l1.2 7.9M146.6 91.6l2.9-7.5M144.4 90.2l1.4-4M131 85.4l1.3 7.5M140.6 93l2.9-8.6M138.4 90.9l1.4-4.6M127.7 88.2l1.2 8.8M136 93l1.5-7M125.4 84.9l1.3 7.7M124.3 88.1l1.3 9.2M132.7 93.4l1.5-7M121 85.6l1.3 8.4M129.4 96l1.5-7.6M120 87.2l1.3 9.3M128.5 93.5l1.5-6.9M119 87.8l1.3 10M118.1 88.1l1.3 10.3M125 99.7l1.6-8.8M117.1 87.9l1.3 10.6M124.1 97.9l1.5-8.1M116.1 87.5l1.3 10.6M123.1 96.6l1.6-7.8M115.1 86.5l1.3 10.4M122.2 95.9l1.5-7.7M121.2 95.4l1.5-7.7M109.8 94.8l1.4 9.5M112.7 101.3l1.5-9.2M116.1 87.5l.3 9.4M117.1 87.9l.3 10.2M118 121l5.3-54.5M118.1 88.1l.3 10.4M119 87.8l.4 10.6M120 87.2l.3 10.6M122.2 95.9l.5-8.2M121 85.6l.3 10.9M123.1 96.6l.6-8.4M124.1 97.9l.6-9.1M125 99.7l.6-9.9M125.4 84.9l.2 12.4M128.5 93.5l.5-8M129.4 96l.6-9.4M128.7 83.9l.2 13.1M130.3 99.1l.6-10.7M132.7 93.4l.6-9.1M132 81.9l.3 11M133.6 97.5l.6-11.1M134.3 86.4l.3 10.5M136 93l.6-9.7M135.2 84.8l.3 9.5M136.8 98.2l.7-12.2M137.6 85.4l.2 11M138.6 80.9l.2 9.5M140.6 93l.7-10.4M139.9 84.7l.2 11.7M142.9 95.2l.6-10.8M142.2 84.3l.3 9.7M144.5 80l.3 11.9M146.6 91.6l.6-8.7M145.9 82.6l.2 13.4M148.9 93.2l.6-9.1M150.3 89l.6-7.7M149.5 80.9l.3 11.5M151.1 94.9l.6-9.4M152.5 90.5l.7-8M153.1 80.4l.3 11.4M154.8 90.7l.6-7.8M157.1 88.8l.5-5.6M156.8 79.3l.2 11M158 82.2l.3 11.5M159.2 90.8l.7-8.8M161.4 93.1l.7-9.2M161.7 79.1l.2 12.1M162.8 89.6l.7-8.6M162.9 81.7l.2 12M165 92.3l.6-9M166.4 89.2l.6-8.6M166.6 77.9l.2 11.9M167.8 80.4l.2 11.5M168.5 91.5l.7-8.2M169.9 88.5l.7-8.2M171.4 76.6l.2 11.3M172 91.1l.7-8.7M172.7 78.9l.2 10.7M173.4 88.8l.7-9.1M173.9 81.2l.3 9.2M174.8 86.1l.6-8.8M175.5 90.2l.6-6.8M176.8 88.9l.7-8.1M177.5 76.6l.2 10.4M178.2 87l.7-8.6M178.8 78.6l.2 9.3M180 80.7l.3 7.3 .6-5.6M181.3 82.5l.3 4.7 .7-7.1M182.6 84.1l.4 1.7 .7-7.9M183.6 75l.2 10.2 .5-1.2M184.9 76.9l.2 8.8 .6-3.7M186.1 78.6l.3 7 .6-5.6M187.4 80.3l.3 4.5 .7-6.9M188.6 81.8l.4 1.7M189.9 82.9l.5-1.1M191.1 83.5l.6-3.5M192.2 76.1l.2 7.4 .7-5.4M193.4 77.7l.3 5.2 .7-6.7M194.6 79.1l.4 2.8M195.9 80.2l.4 .4M197.1 81l.6-2M198.4 81.3l.6-3.9M201.9 76.9l.4 2.9M203.1 77.9l.5 .7"/><path stroke="#63c652" d="M185.1 85.7l1.3-.1M177.7 87l1.3 .9 1.3 .1 1.3-.8 1.4-1.4M171.6 87.9l1.3 1.7 1.3 .8 1.3-.2 1.3-1.3 1.4-1.9M165.5 87.2l2.5 4.7 1.3 1.1 1.4-.4 1.3-1.5 2.8-5M160.6 88.3l2.5 5.4M167.1 94.1l2.8-5.6M157 90.3l1.3 3.4M163.6 95.1l2.8-5.9M152.1 88l2.5 7.7M161.4 93.1l1.4-3.5M148.5 88.1l2.5 8.9M157.8 94.8l1.4-4M144.8 91.9l1.3 4.1M155.6 93l1.5-4.2M141.2 89l1.3 5M153.3 95.5l1.5-4.8M138.8 90.4l1.3 6M151.1 94.9l1.4-4.4M136.5 90l1.3 6.4M147.4 98.6l1.5-5.4 1.4-4.2M145.2 96.7l1.4-5.1M133.3 88.3l1.3 8.6M142.9 95.2l1.5-5M132.3 92.9l1.2 10.6M139.1 99.2l1.5-6.2M130 91l1.2 9.8M136.8 98.2l1.6-7.3M134.4 103l1.6-10M126.7 92.6l1.2 11M133.6 97.5l1.5-8.2M131.2 103.6l1.5-10.2M123.3 91.2l1.3 10.6M130.3 99.1l1.5-8.6M122.3 94l1.3 12.1M126.9 103.8l1.6-10.3M126 101.6l1.5-9.5M120.6 107.7l1.6-11.8M115.5 95.5l1.2 14.6M119.6 107l1.6-11.6M111.2 104.3l1.5-3M120.6 107.7l.6-12.3M123.3 91.2l.3 14.9M124.3 88.1l.3 13.7M126 101.6l.6-10.7M126.9 103.8l.6-11.7M127.7 88.2l.2 15.4M131.2 103.6l.6-13.1M131 85.4l.2 15.4M133.3 88.3l.2 15.2M134.4 103l.7-13.7M136.5 90l.3 13.1M139.1 99.2l.7-12.9M141.4 101.6l.7-13.3M141.2 89l.2 15.1M143.7 103.3l.7-13.1M143.5 88l.2 11.9M145.2 96.7l.6-10.5M147.4 98.6l.7-11.1M147.2 85.2l.2 14.7M148.5 88.1l.2 14.8M149.6 100.6l.7-11.6M150.8 84.3l.2 12.7M151.9 101l.6-10.5M152.1 88l.2 13M153.3 95.5l.7-9.1M154.2 97.7l.6-7M154.4 83.5l.2 12.2M155.6 93l.6-6.4M155.7 86.9l.2 11.9M156.4 98.9l.7-10.1M157.8 94.8l.7-9.6M159.3 85.2l.2 11.1M160 96.5l.7-9.4M160.6 88.3l.2 9.3M162.2 97.1l.6-7.5M163.6 95.1l.6-8.8M164.2 84.4l.2 10.8M165.5 87.2l.3 8.2 .6-6.2M166.8 89.8l.3 4.3 .7-7.9M168 91.9l.5-.4M169.1 83l.2 10 .6-4.5M170.4 85.6l.3 7 .6-7.2M171.6 87.9l.4 3.2M172.9 89.6l.5-.8M174.2 90.4l.6-4.3M175.2 83.5l.3 6.7M176.5 85.5l.3 3.4M177.7 87l.5 0M179 87.9l.6-3.1"/><path stroke="#5dc455" d="M163.1 93.7l1.3 1.5 1.4 .2 1.3-1.3M158.3 93.7l1.2 2.6 1.3 1.3 1.4-.5 1.4-2M154.6 95.7l1.3 3.1 1.3 1.4 1.4-1 2.8-6.1M151 97l1.3 4M155 102.2l2.8-7.4M146.1 96l1.3 3.9M152.7 102.6l2.9-9.6M142.5 94l1.2 5.9M151.9 101l1.4-5.5M140.1 96.4l1.3 7.7M149.6 100.6l1.5-5.7M137.8 96.4l1.3 8.4M145.9 105.9l1.5-7.3M135.5 94.3l1.3 8.8M143.7 103.3l1.5-6.6M134.6 96.9l1.2 12.4M141.4 101.6l1.5-6.4M137.6 107.6l1.5-8.4M128.9 97l1.2 13.4M132 110.3l1.6-12.8M125.6 97.3l1.2 14.3M127.8 107.8l1.6-11.8M121.3 96.5l1.3 14.3M120.3 97.8l1.3 15.7M119.4 98.4l1.2 16.6M123.4 113.7l1.6-14M118.4 98.5l1.2 16.7M122.5 110.7l1.6-12.8M117.4 98.1l1.2 16.4M121.6 108.7l1.5-12.1M116.4 96.9l1.3 15.5M116.4 96.9l.3 13.2M117.4 98.1l.3 14.3M118.4 98.5l.2 16M119.4 98.4l.2 16.8M120.3 97.8l.3 17.2M121.6 108.7l.6-12.8M121.3 96.5l.3 17M122.5 110.7l.6-14.1M122.3 94l.3 16.8M123.4 113.7l.7-15.8M126.7 92.6l.1 19M127.8 107.8l.7-14.3M128.7 113.3l.7-17.3M130 91l.1 19.4M132 110.3l.7-16.9M135.2 111.3l.8-18.3M135.5 94.3l.3 15M137.6 107.6l.8-16.7M138.8 90.4l.3 14.4M139.9 110.5l.7-17.5M144.8 91.9l.2 15M145.9 105.9l.7-14.3M148.1 108.2l.8-15M149.8 92.4l.2 13.7M150.4 107.3l.7-12.4M152.7 102.6l.6-7.1M153.4 91.8l.2 11.3 .6-5.4M154.6 95.7l.4 6.5 .6-9.2M155.9 98.8l.5 .1M157 90.3l.2 9.9 .6-5.4M158.3 93.7l.3 5.5 .6-8.4M159.5 96.3l.5 .2M160.8 97.6l.6-4.5M161.9 91.2l.3 5.9M163.1 93.7l.5 1.4M164.4 95.2l.6-2.9"/><path stroke="#57c25b" d="M152.3 101l1.3 2.1 1.4-.9M147.4 99.9l2.6 6.2 1.3 0 1.4-3.5M143.7 99.9l1.3 7M150.4 107.3l1.5-6.3M148.1 108.2l1.5-7.6M136.8 103.1l1.2 11.5M142.1 112.8l1.6-9.5M139.9 110.5l1.5-8.9M131.2 100.8l1.2 15.6M135.2 111.3l1.6-13.1M124.6 101.8l1.1 19.1M128.7 113.3l1.6-14.2M124.3 117.9l1.7-16.3M118 121l1.6-14M124.3 117.9l.7-18.2M125.6 97.3l.1 23.6M128.9 97l.1 26.4M129.5 122.2l.8-23.1M132.3 92.9l.1 23.5M132.8 120.2l.8-22.7M134.6 96.9l.1 23.1M137.8 96.4l.2 18.2M140.1 96.4l.1 20.8M142.1 112.8l.8-17.6M142.5 94l0 21M144.3 116.8l.9-20.1M146.1 96l.1 18.4M150 106.1l.4 1.2M151 97l.3 9.1 .6-5.1M152.3 101l.4 1.6"/><path stroke="#50bf6b" d="M145 106.9l1.2 7.5M148.9 114.3l1.5-7M141.4 104.1l1.1 10.9M139.1 104.8l1.1 12.4M144.3 116.8l1.6-10.9M133.5 103.5l1.2 16.5M132.8 120.2l1.6-17.2M127.9 103.6l1.1 19.8M129.5 122.2l1.7-18.6M125.2 123.1l1.7-19.3M119.9 126.8l1.7-18.1M117.7 112.4l1.3 11.2 1.6-15.9M116.7 110.1l1.3 10.9M117.7 112.4l.3 8.6M118.6 114.5l.4 9.1 .6-16.6M119.9 126.8l.7-19.1M124.6 101.8l0 29.7M125.2 123.1l.8-21.5M136 123.1l.8-24.9M136.8 103.1l.1 20.6M138.3 122.1l.8-22.9M140.5 126.9l.9-25.3M146.5 119.7l.9-21.1M147.4 99.9l.1 18.4M148.7 102.9l.2 11.4 .7-13.7"/><path stroke="#49bb7b" d="M146.2 114.4l1.3 3.9 1.4-4M146.5 119.7l1.6-11.5M135.8 109.3l1.1 14.4M138.3 122.1l1.6-11.6M136 123.1l1.6-15.5M123.6 106.1l1 25.4M126 133.7l1.8-25.9M119.6 115.2l1.2 16.3 1.7-20.8M118.6 114.5l1.3 12.3M119.6 115.2l.3 11.6M120.6 115l.2 16.5 .8-22.8M121.7 137.8l.8-27.1M126 133.7l.9-29.9M130.2 137.4l1-33.8M131.2 100.8l0 34.1M132.4 116.4l.4 3.8M133.5 103.5l0 28 .9-28.5M134.7 120l.5-8.7M135.8 109.3l.2 13.8M136.9 123.7l.7-16.1M138 114.6l.3 7.5M139.1 104.8l0 25.5M143.7 99.9l-.1 33M146.2 114.4l.3 5.3M147.5 118.3l.6-10.1"/><path stroke="#45b68d" d="M142.5 115l1.1 17.9M138 114.6l1.1 15.7M140.5 126.9l1.6-14.1M136.9 123.7l1.4-1.6M134.7 120l1.3 3.1M132.4 116.4l1.1 15.1 1.7-20.2M130.1 110.4l1.1 24.5M130.2 137.4l1.8-27.1M122.6 110.8l.9 33.1M121.6 113.5l.9 31.5M120.6 115l1.1 22.8 1.7-24.1M121.6 113.5l.1 24.3M122.6 110.8l-.1 34.2 .9-31.3M123.6 106.1l-.1 37.8M124.6 131.5l.6-8.4M125.7 120.9l.3 12.8M127.9 103.6l-.2 43.6M129 123.4l.5-1.2M130.1 110.4l.1 27M131.2 134.9l.8-24.6M139.1 130.3l.8-19.8M140.2 117.2l.3 9.7M141.4 104.1l-.2 37.5M142.6 138l1.1-34.7M145 106.9l-.2 32.6 1.1-33.6"/><path stroke="#40b19f" d="M144.8 139.5l1.7-19.8M140.2 117.2l1 24.4M142.6 138l1.7-21.2M139.1 130.3l1.4-3.4M131.2 134.9l1.6-14.7M129 123.4l1.2 14M126.8 111.6l.9 35.6M124.6 131.5l1.4 2.2M123.5 143.9l1.7-20.8M122.5 145l1.8-27.1M123.5 143.9l.8-26M126.8 111.6l-.2 44.8 1.2-48.6M127.7 147.2l1-33.9M141.2 141.6l.9-28.8M142.5 115l.1 23M143.6 132.9l.7-16.1"/><path stroke="#40a9b2" d="M127.7 147.2l1.8-25M125.7 120.9l.9 35.5 2.1-43.1"/><path stroke="#469ec4" d="M143.6 132.9l1.2 6.6M141.2 141.6l1.4-3.6"/></g><line x1="47.77" y1="31.5" x2="48.24" y2="195.26" stroke="#666" stroke-width="1.5"/><line x1="48.24" y1="195.26" x2="211.32" y2="174.44" stroke="#333" stroke-width="1.5"/><line x1="48.24" y1="195.26" x2="133.95" y2="255.12" stroke="#333" stroke-width="1.5"/><line x1="43.28" y1="36.21" x2="47.78" y2="36.21" stroke="#444" stroke-width="0.9"/><line x1="43.44" y1="92.43" x2="47.94" y2="92.43" stroke="#444" stroke-width="0.9"/><line x1="43.6" y1="147.31" x2="48.1" y2="147.31" stroke="#444" stroke-width="0.9"/><text x="39.3" y="41.4" font-size="11.7" text-anchor="end">0</text><text x="38.8" y="97.95" font-size="11.7" text-anchor="end">−20</text><text x="38.8" y="152.8" font-size="11.7" text-anchor="end">−40</text><text x="8.4" y="113.6" font-size="11.8" text-anchor="middle" transform="rotate(-90 8.4 113.6)">RL (dB)</text><line x1="91.17" y1="189.78" x2="93.24" y2="191.1" stroke="#333" stroke-width="0.9"/><text x="83.4" y="186.2" font-size="11.7" text-anchor="middle">5</text><line x1="136.49" y1="183.99" x2="138.65" y2="185.26" stroke="#333" stroke-width="0.9"/><text x="126.8" y="180.9" font-size="11.7" text-anchor="middle">10</text><line x1="179.58" y1="178.49" x2="181.83" y2="179.71" stroke="#333" stroke-width="0.9"/><text x="174.8" y="174.5" font-size="11.7" text-anchor="middle">15</text><text x="147.4" y="201" font-size="11.8" text-anchor="middle" transform="rotate(-7.5 147.4 201)">f (GHz)</text><line x1="64.34" y1="206.5" x2="59.86" y2="207.11" stroke="#333" stroke-width="0.9"/><text x="52.6" y="216.3" font-size="11.7" text-anchor="middle">5</text><line x1="85.82" y1="221.5" x2="81.22" y2="222.17" stroke="#333" stroke-width="0.9"/><text x="71.6" y="230.5" font-size="11.7" text-anchor="middle">10</text><line x1="108.95" y1="237.66" x2="104.24" y2="238.4" stroke="#333" stroke-width="0.9"/><text x="92.1" y="245.1" font-size="11.7" text-anchor="middle">15</text><line x1="133.95" y1="255.12" x2="129.11" y2="255.94" stroke="#333" stroke-width="0.9"/><text x="116.2" y="262.2" font-size="11.7" text-anchor="middle">20</text><text x="67.8" y="247.8" font-size="11.8" text-anchor="middle" transform="rotate(34.5 67.8 247.8)"><tspan font-style="italic">d</tspan> (mm)</text><text x="340.5" y="307.3" font-size="16.2" font-weight="bold">d</text><circle cx="404.94" cy="339.1" r="3.6" fill="none" stroke="#E5302C" stroke-width="1.2"/><circle cx="404.94" cy="339.1" r="0.6" fill="#E5302C"/><circle cx="406.17" cy="350.33" r="3.6" fill="none" stroke="#E5302C" stroke-width="1.2"/><circle cx="406.17" cy="350.33" r="0.6" fill="#E5302C"/><circle cx="407.39" cy="359.4" r="3.6" fill="none" stroke="#E5302C" stroke-width="1.2"/><circle cx="407.39" cy="359.4" r="0.6" fill="#E5302C"/><circle cx="408.62" cy="369.6" r="3.6" fill="none" stroke="#E5302C" stroke-width="1.2"/><circle cx="408.62" cy="369.6" r="0.6" fill="#E5302C"/><circle cx="409.85" cy="374.84" r="3.6" fill="none" stroke="#E5302C" stroke-width="1.2"/><circle cx="409.85" cy="374.84" r="0.6" fill="#E5302C"/><circle cx="411.07" cy="381.46" r="3.6" fill="none" stroke="#E5302C" stroke-width="1.2"/><circle cx="411.07" cy="381.46" r="0.6" fill="#E5302C"/><circle cx="412.3" cy="387.12" r="3.6" fill="none" stroke="#E5302C" stroke-width="1.2"/><circle cx="412.3" cy="387.12" r="0.6" fill="#E5302C"/><circle cx="413.53" cy="393.27" r="3.6" fill="none" stroke="#E5302C" stroke-width="1.2"/><circle cx="413.53" cy="393.27" r="0.6" fill="#E5302C"/><circle cx="414.76" cy="397.65" r="3.6" fill="none" stroke="#E5302C" stroke-width="1.2"/><circle cx="414.76" cy="397.65" r="0.6" fill="#E5302C"/><circle cx="415.98" cy="402.87" r="3.6" fill="none" stroke="#E5302C" stroke-width="1.2"/><circle cx="415.98" cy="402.87" r="0.6" fill="#E5302C"/><circle cx="417.21" cy="408.23" r="3.6" fill="none" stroke="#E5302C" stroke-width="1.2"/><circle cx="417.21" cy="408.23" r="0.6" fill="#E5302C"/><circle cx="418.44" cy="409.65" r="3.6" fill="none" stroke="#E5302C" stroke-width="1.2"/><circle cx="418.44" cy="409.65" r="0.6" fill="#E5302C"/><circle cx="419.66" cy="413.43" r="3.6" fill="none" stroke="#E5302C" stroke-width="1.2"/><circle cx="419.66" cy="413.43" r="0.6" fill="#E5302C"/><circle cx="420.89" cy="415.97" r="3.6" fill="none" stroke="#E5302C" stroke-width="1.2"/><circle cx="420.89" cy="415.97" r="0.6" fill="#E5302C"/><circle cx="422.12" cy="421.27" r="3.6" fill="none" stroke="#E5302C" stroke-width="1.2"/><circle cx="422.12" cy="421.27" r="0.6" fill="#E5302C"/><circle cx="423.34" cy="424.92" r="3.6" fill="none" stroke="#E5302C" stroke-width="1.2"/><circle cx="423.34" cy="424.92" r="0.6" fill="#E5302C"/><circle cx="424.57" cy="428.01" r="3.6" fill="none" stroke="#E5302C" stroke-width="1.2"/><circle cx="424.57" cy="428.01" r="0.6" fill="#E5302C"/><circle cx="425.8" cy="431.95" r="3.6" fill="none" stroke="#E5302C" stroke-width="1.2"/><circle cx="425.8" cy="431.95" r="0.6" fill="#E5302C"/><circle cx="427.03" cy="431.51" r="3.6" fill="none" stroke="#E5302C" stroke-width="1.2"/><circle cx="427.03" cy="431.51" r="0.6" fill="#E5302C"/><circle cx="428.25" cy="436.45" r="3.6" fill="none" stroke="#E5302C" stroke-width="1.2"/><circle cx="428.25" cy="436.45" r="0.6" fill="#E5302C"/><circle cx="429.48" cy="438.87" r="3.6" fill="none" stroke="#E5302C" stroke-width="1.2"/><circle cx="429.48" cy="438.87" r="0.6" fill="#E5302C"/><circle cx="430.71" cy="439.89" r="3.6" fill="none" stroke="#E5302C" stroke-width="1.2"/><circle cx="430.71" cy="439.89" r="0.6" fill="#E5302C"/><circle cx="431.93" cy="439.94" r="3.6" fill="none" stroke="#E5302C" stroke-width="1.2"/><circle cx="431.93" cy="439.94" r="0.6" fill="#E5302C"/><circle cx="433.16" cy="443.41" r="3.6" fill="none" stroke="#E5302C" stroke-width="1.2"/><circle cx="433.16" cy="443.41" r="0.6" fill="#E5302C"/><circle cx="434.39" cy="446.8" r="3.6" fill="none" stroke="#E5302C" stroke-width="1.2"/><circle cx="434.39" cy="446.8" r="0.6" fill="#E5302C"/><circle cx="435.61" cy="448.21" r="3.6" fill="none" stroke="#E5302C" stroke-width="1.2"/><circle cx="435.61" cy="448.21" r="0.6" fill="#E5302C"/><circle cx="436.84" cy="448.31" r="3.6" fill="none" stroke="#E5302C" stroke-width="1.2"/><circle cx="436.84" cy="448.31" r="0.6" fill="#E5302C"/><circle cx="438.07" cy="450.87" r="3.6" fill="none" stroke="#E5302C" stroke-width="1.2"/><circle cx="438.07" cy="450.87" r="0.6" fill="#E5302C"/><circle cx="439.3" cy="453.15" r="3.6" fill="none" stroke="#E5302C" stroke-width="1.2"/><circle cx="439.3" cy="453.15" r="0.6" fill="#E5302C"/><circle cx="440.52" cy="453.99" r="3.6" fill="none" stroke="#E5302C" stroke-width="1.2"/><circle cx="440.52" cy="453.99" r="0.6" fill="#E5302C"/><circle cx="441.75" cy="455.13" r="3.6" fill="none" stroke="#E5302C" stroke-width="1.2"/><circle cx="441.75" cy="455.13" r="0.6" fill="#E5302C"/><circle cx="454.02" cy="466.52" r="3.6" fill="none" stroke="#E5302C" stroke-width="1.2"/><circle cx="454.02" cy="466.52" r="0.6" fill="#E5302C"/><circle cx="466.29" cy="474.42" r="3.6" fill="none" stroke="#E5302C" stroke-width="1.2"/><circle cx="466.29" cy="474.42" r="0.6" fill="#E5302C"/><circle cx="478.56" cy="480.2" r="3.6" fill="none" stroke="#E5302C" stroke-width="1.2"/><circle cx="478.56" cy="480.2" r="0.6" fill="#E5302C"/><circle cx="490.83" cy="484.6" r="3.6" fill="none" stroke="#E5302C" stroke-width="1.2"/><circle cx="490.83" cy="484.6" r="0.6" fill="#E5302C"/><circle cx="503.1" cy="488.06" r="3.6" fill="none" stroke="#E5302C" stroke-width="1.2"/><circle cx="503.1" cy="488.06" r="0.6" fill="#E5302C"/><circle cx="515.37" cy="490.84" r="3.6" fill="none" stroke="#E5302C" stroke-width="1.2"/><circle cx="515.37" cy="490.84" r="0.6" fill="#E5302C"/><circle cx="527.64" cy="493.12" r="3.6" fill="none" stroke="#E5302C" stroke-width="1.2"/><circle cx="527.64" cy="493.12" r="0.6" fill="#E5302C"/><circle cx="539.91" cy="495.02" r="3.6" fill="none" stroke="#E5302C" stroke-width="1.2"/><circle cx="539.91" cy="495.02" r="0.6" fill="#E5302C"/><circle cx="552.18" cy="496.63" r="3.6" fill="none" stroke="#E5302C" stroke-width="1.2"/><circle cx="552.18" cy="496.63" r="0.6" fill="#E5302C"/><circle cx="564.45" cy="498.01" r="3.6" fill="none" stroke="#E5302C" stroke-width="1.2"/><circle cx="564.45" cy="498.01" r="0.6" fill="#E5302C"/><circle cx="576.72" cy="499.2" r="3.6" fill="none" stroke="#E5302C" stroke-width="1.2"/><circle cx="576.72" cy="499.2" r="0.6" fill="#E5302C"/><circle cx="588.99" cy="500.24" r="3.6" fill="none" stroke="#E5302C" stroke-width="1.2"/><circle cx="588.99" cy="500.24" r="0.6" fill="#E5302C"/><circle cx="601.26" cy="501.16" r="3.6" fill="none" stroke="#E5302C" stroke-width="1.2"/><circle cx="601.26" cy="501.16" r="0.6" fill="#E5302C"/><circle cx="613.53" cy="501.97" r="3.6" fill="none" stroke="#E5302C" stroke-width="1.2"/><circle cx="613.53" cy="501.97" r="0.6" fill="#E5302C"/><circle cx="625.8" cy="502.69" r="3.6" fill="none" stroke="#E5302C" stroke-width="1.2"/><circle cx="625.8" cy="502.69" r="0.6" fill="#E5302C"/><path d="M404.94 341.25 L406.11 350.44 L407.28 358.77 L408.45 366.35 L409.63 373.27 L410.8 379.61 L411.97 385.44 L413.14 390.83 L414.31 395.81 L415.48 400.43 L416.66 404.72 L417.83 408.73 L419 412.47 L420.17 415.98 L421.34 419.26 L422.51 422.35 L423.68 425.26 L424.86 428 L426.03 430.59 L427.2 433.04 L428.37 435.36 L429.54 437.56 L430.71 439.65 L431.88 441.64 L433.06 443.53 L434.23 445.33 L435.4 447.05 L436.57 448.69 L437.74 450.25 L438.91 451.75 L440.09 453.19 L441.26 454.57 L442.43 455.89 L443.6 457.15 L444.77 458.37 L445.94 459.54 L447.11 460.67 L448.29 461.75 L449.46 462.79 L450.63 463.8 L451.8 464.77 L452.97 465.71 L454.14 466.61 L455.31 467.48 L456.49 468.33 L457.66 469.14 L458.83 469.93 L460 470.7 L461.17 471.44 L462.34 472.16 L463.52 472.85 L464.69 473.53 L465.86 474.18 L467.03 474.82 L468.2 475.43 L469.37 476.03 L470.54 476.62 L471.72 477.18 L472.89 477.73 L474.06 478.27 L475.23 478.79 L476.4 479.3 L477.57 479.79 L478.74 480.28 L479.92 480.75 L481.09 481.2 L482.26 481.65 L483.43 482.08 L484.6 482.51 L485.77 482.92 L486.95 483.33 L488.12 483.72 L489.29 484.11 L490.46 484.49 L491.63 484.85 L492.8 485.21 L493.97 485.57 L495.15 485.91 L496.32 486.25 L497.49 486.58 L498.66 486.9 L499.83 487.21 L501 487.52 L502.18 487.82 L503.35 488.12 L504.52 488.41 L505.69 488.7 L506.86 488.97 L508.03 489.25 L509.2 489.51 L510.38 489.78 L511.55 490.03 L512.72 490.29 L513.89 490.53 L515.06 490.78 L516.23 491.01 L517.4 491.25 L518.58 491.48 L519.75 491.7 L520.92 491.92 L522.09 492.14 L523.26 492.35 L524.43 492.56 L525.61 492.77 L526.78 492.97 L527.95 493.17 L529.12 493.37 L530.29 493.56 L531.46 493.75 L532.63 493.93 L533.81 494.12 L534.98 494.3 L536.15 494.47 L537.32 494.65 L538.49 494.82 L539.66 494.99 L540.83 495.15 L542.01 495.32 L543.18 495.48 L544.35 495.63 L545.52 495.79 L546.69 495.94 L547.86 496.09 L549.04 496.24 L550.21 496.39 L551.38 496.53 L552.55 496.68 L553.72 496.82 L554.89 496.95 L556.06 497.09 L557.24 497.22 L558.41 497.36 L559.58 497.49 L560.75 497.62 L561.92 497.74 L563.09 497.87 L564.27 497.99 L565.44 498.11 L566.61 498.23 L567.78 498.35 L568.95 498.47 L570.12 498.58 L571.29 498.69 L572.47 498.81 L573.64 498.92 L574.81 499.03 L575.98 499.13 L577.15 499.24 L578.32 499.35 L579.49 499.45 L580.67 499.55 L581.84 499.65 L583.01 499.75 L584.18 499.85 L585.35 499.95 L586.52 500.04 L587.7 500.14 L588.87 500.23 L590.04 500.32 L591.21 500.42 L592.38 500.51 L593.55 500.6 L594.72 500.68 L595.9 500.77 L597.07 500.86 L598.24 500.94 L599.41 501.03 L600.58 501.11 L601.75 501.19 L602.92 501.27 L604.1 501.35 L605.27 501.43 L606.44 501.51 L607.61 501.59 L608.78 501.67 L609.95 501.74 L611.13 501.82 L612.3 501.89 L613.47 501.97 L614.64 502.04 L615.81 502.11 L616.98 502.18 L618.15 502.25 L619.33 502.32 L620.5 502.39 L621.67 502.46 L622.84 502.53 L624.01 502.59 L625.18 502.66 L626.35 502.72 L627.53 502.79 L628.7 502.85 L629.87 502.92 L631.04 502.98 L632.21 503.04 L633.38 503.1 L634.56 503.16 L635.73 503.22 L636.9 503.28 L638.07 503.34" stroke="#E02A26" stroke-width="1.6" fill="none"/><path d="M402.98 334.78 L404.16 344.16 L405.34 352.72 L406.52 360.55 L407.7 367.74 L408.88 374.35 L410.07 380.45 L411.25 386.1 L412.43 391.32 L413.61 396.18 L414.79 400.7 L415.97 404.92 L417.15 408.87 L418.33 412.56 L419.52 416.02 L420.7 419.28 L421.88 422.34 L423.06 425.23 L424.24 427.96 L425.42 430.54 L426.6 432.98 L427.79 435.29 L428.97 437.49 L430.15 439.58 L431.33 441.56 L432.51 443.45 L433.69 445.26 L434.87 446.98 L436.06 448.62 L437.24 450.19 L438.42 451.69 L439.6 453.13 L440.78 454.51 L441.96 455.84 L443.14 457.11 L444.32 458.33 L445.51 459.5 L446.69 460.63 L447.87 461.72 L449.05 462.77 L450.23 463.78 L451.41 464.75 L452.59 465.69 L453.78 466.6 L454.96 467.47 L456.14 468.32 L457.32 469.14 L458.5 469.93 L459.68 470.7 L460.86 471.45 L462.05 472.17 L463.23 472.87 L464.41 473.54 L465.59 474.2 L466.77 474.84 L467.95 475.46 L469.13 476.06 L470.32 476.65 L471.5 477.21 L472.68 477.77 L473.86 478.3 L475.04 478.83 L476.22 479.34 L477.4 479.83 L478.58 480.32 L479.77 480.79 L480.95 481.25 L482.13 481.7 L483.31 482.13 L484.49 482.56 L485.67 482.97 L486.85 483.38 L488.04 483.78 L489.22 484.16 L490.4 484.54 L491.58 484.91 L492.76 485.27 L493.94 485.62 L495.12 485.97 L496.31 486.31 L497.49 486.64 L498.67 486.96 L499.85 487.28 L501.03 487.59 L502.21 487.89 L503.39 488.18 L504.57 488.48 L505.76 488.76 L506.94 489.04 L508.12 489.31 L509.3 489.58 L510.48 489.84 L511.66 490.1 L512.84 490.35 L514.03 490.6 L515.21 490.84 L516.39 491.08 L517.57 491.32 L518.75 491.55 L519.93 491.77 L521.11 491.99 L522.3 492.21 L523.48 492.43 L524.66 492.64 L525.84 492.84 L527.02 493.04 L528.2 493.24 L529.38 493.44 L530.57 493.63 L531.75 493.82 L532.93 494.01 L534.11 494.19 L535.29 494.37 L536.47 494.55 L537.65 494.72 L538.83 494.89 L540.02 495.06 L541.2 495.23 L542.38 495.39 L543.56 495.55 L544.74 495.71 L545.92 495.86 L547.1 496.02 L548.29 496.17 L549.47 496.32 L550.65 496.46 L551.83 496.61 L553.01 496.75 L554.19 496.89 L555.37 497.03 L556.56 497.16 L557.74 497.3 L558.92 497.43 L560.1 497.56 L561.28 497.69 L562.46 497.81 L563.64 497.94 L564.82 498.06 L566.01 498.18 L567.19 498.3 L568.37 498.42 L569.55 498.54 L570.73 498.65 L571.91 498.77 L573.09 498.88 L574.28 498.99 L575.46 499.1 L576.64 499.21 L577.82 499.31 L579 499.42 L580.18 499.52 L581.36 499.62 L582.55 499.72 L583.73 499.82 L584.91 499.92 L586.09 500.02 L587.27 500.11 L588.45 500.21 L589.63 500.3 L590.82 500.4 L592 500.49 L593.18 500.58 L594.36 500.67 L595.54 500.75 L596.72 500.84 L597.9 500.93 L599.08 501.01 L600.27 501.1 L601.45 501.18 L602.63 501.26 L603.81 501.34 L604.99 501.42 L606.17 501.5 L607.35 501.58 L608.54 501.66 L609.72 501.73 L610.9 501.81 L612.08 501.89 L613.26 501.96 L614.44 502.03 L615.62 502.11 L616.81 502.18 L617.99 502.25 L619.17 502.32 L620.35 502.39 L621.53 502.46 L622.71 502.52 L623.89 502.59 L625.07 502.66 L626.26 502.72 L627.44 502.79 L628.62 502.85 L629.8 502.92 L630.98 502.98 L632.16 503.04 L633.34 503.11 L634.53 503.17 L635.71 503.23 L636.89 503.29 L638.07 503.35" stroke="#5DBB46" stroke-width="1.1" fill="none"/><rect x="381.3" y="304.6" width="257.1" height="209.8" fill="none" stroke="#000" stroke-width="2.6"/><line x1="382.6" y1="474.44" x2="387.1" y2="474.44" stroke="#000" stroke-width="2.2"/><line x1="382.6" y1="434.48" x2="387.1" y2="434.48" stroke="#000" stroke-width="2.2"/><line x1="382.6" y1="394.52" x2="387.1" y2="394.52" stroke="#000" stroke-width="2.2"/><line x1="382.6" y1="354.56" x2="387.1" y2="354.56" stroke="#000" stroke-width="2.2"/><line x1="382.6" y1="314.6" x2="387.1" y2="314.6" stroke="#000" stroke-width="2.2"/><line x1="382.6" y1="494.42" x2="384.5" y2="494.42" stroke="#000" stroke-width="2.2"/><line x1="382.6" y1="454.46" x2="384.5" y2="454.46" stroke="#000" stroke-width="2.2"/><line x1="382.6" y1="414.5" x2="384.5" y2="414.5" stroke="#000" stroke-width="2.2"/><line x1="382.6" y1="374.54" x2="384.5" y2="374.54" stroke="#000" stroke-width="2.2"/><line x1="382.6" y1="334.58" x2="384.5" y2="334.58" stroke="#000" stroke-width="2.2"/><line x1="429.48" y1="513.1" x2="429.48" y2="508.6" stroke="#000" stroke-width="2.2"/><line x1="478.56" y1="513.1" x2="478.56" y2="508.6" stroke="#000" stroke-width="2.2"/><line x1="527.64" y1="513.1" x2="527.64" y2="508.6" stroke="#000" stroke-width="2.2"/><line x1="576.72" y1="513.1" x2="576.72" y2="508.6" stroke="#000" stroke-width="2.2"/><line x1="625.8" y1="513.1" x2="625.8" y2="508.6" stroke="#000" stroke-width="2.2"/><line x1="404.94" y1="513.1" x2="404.94" y2="511.2" stroke="#000" stroke-width="2.2"/><line x1="454.02" y1="513.1" x2="454.02" y2="511.2" stroke="#000" stroke-width="2.2"/><line x1="503.1" y1="513.1" x2="503.1" y2="511.2" stroke="#000" stroke-width="2.2"/><line x1="552.18" y1="513.1" x2="552.18" y2="511.2" stroke="#000" stroke-width="2.2"/><line x1="601.26" y1="513.1" x2="601.26" y2="511.2" stroke="#000" stroke-width="2.2"/><text x="375.9" y="478.58" font-size="11.7" text-anchor="end">4</text><text x="429.48" y="528.6" font-size="11.7" text-anchor="middle">4</text><text x="375.9" y="438.62" font-size="11.7" text-anchor="end">8</text><text x="478.56" y="528.6" font-size="11.7" text-anchor="middle">8</text><text x="375.9" y="398.66" font-size="11.7" text-anchor="end">12</text><text x="527.64" y="528.6" font-size="11.7" text-anchor="middle">12</text><text x="375.9" y="358.7" font-size="11.7" text-anchor="end">16</text><text x="576.72" y="528.6" font-size="11.7" text-anchor="middle">16</text><text x="375.9" y="318.74" font-size="11.7" text-anchor="end">20</text><text x="625.8" y="528.6" font-size="11.7" text-anchor="middle">20</text><text x="509.9" y="545.6" font-size="11.7" text-anchor="middle">d (mm)</text><text x="351.6" y="409.5" font-size="11.7" text-anchor="middle" transform="rotate(-90 351.6 409.5)">f<tspan font-size="8" dy="2.5">peak</tspan><tspan dy="-2.5"> (GHz)</tspan></text><circle cx="492.5" cy="417.8" r="3.6" fill="none" stroke="#E5302C" stroke-width="1.2"/><circle cx="492.5" cy="417.8" r="0.6" fill="#E5302C"/><text x="509.9" y="420.4" font-size="10.2">Data</text><line x1="479.2" y1="432.1" x2="504.7" y2="432.1" stroke="#E02A26" stroke-width="2.6"/><text x="509.9" y="435.8" font-size="10.2">Fitted: f = 39.0/d<tspan font-size="6.8" dy="-4.5">1.17</tspan></text><line x1="480.2" y1="447.4" x2="504.7" y2="447.4" stroke="#5DBB46" stroke-width="1.3"/><text x="509.9" y="450.7" font-size="10.2">Modeled: f = c/4dε′<tspan font-size="6.8" dy="-4.5">0.5</tspan></text><text x="0.4" y="574.6" font-size="16.2" font-weight="bold">e</text><circle cx="100.5" cy="593.3" r="3.6" fill="none" stroke="#E5302C" stroke-width="1.2"/><circle cx="100.5" cy="593.3" r="0.6" fill="#E5302C"/><circle cx="102.8" cy="605.2" r="3.6" fill="none" stroke="#E5302C" stroke-width="1.2"/><circle cx="102.8" cy="605.2" r="0.6" fill="#E5302C"/><circle cx="103.7" cy="629.6" r="3.6" fill="none" stroke="#E5302C" stroke-width="1.2"/><circle cx="103.7" cy="629.6" r="0.6" fill="#E5302C"/><circle cx="97.7" cy="633.8" r="3.6" fill="none" stroke="#E5302C" stroke-width="1.2"/><circle cx="97.7" cy="633.8" r="0.6" fill="#E5302C"/><circle cx="99.2" cy="635.6" r="3.6" fill="none" stroke="#E5302C" stroke-width="1.2"/><circle cx="99.2" cy="635.6" r="0.6" fill="#E5302C"/><circle cx="101.6" cy="638.7" r="3.6" fill="none" stroke="#E5302C" stroke-width="1.2"/><circle cx="101.6" cy="638.7" r="0.6" fill="#E5302C"/><circle cx="92.8" cy="643.4" r="3.6" fill="none" stroke="#E5302C" stroke-width="1.2"/><circle cx="92.8" cy="643.4" r="0.6" fill="#E5302C"/><circle cx="96.8" cy="644.7" r="3.6" fill="none" stroke="#E5302C" stroke-width="1.2"/><circle cx="96.8" cy="644.7" r="0.6" fill="#E5302C"/><circle cx="105.6" cy="643.8" r="3.6" fill="none" stroke="#E5302C" stroke-width="1.2"/><circle cx="105.6" cy="643.8" r="0.6" fill="#E5302C"/><circle cx="95.9" cy="652" r="3.6" fill="none" stroke="#E5302C" stroke-width="1.2"/><circle cx="95.9" cy="652" r="0.6" fill="#E5302C"/><circle cx="94.3" cy="655.6" r="3.6" fill="none" stroke="#E5302C" stroke-width="1.2"/><circle cx="94.3" cy="655.6" r="0.6" fill="#E5302C"/><circle cx="91.9" cy="660.2" r="3.6" fill="none" stroke="#E5302C" stroke-width="1.2"/><circle cx="91.9" cy="660.2" r="0.6" fill="#E5302C"/><circle cx="106.5" cy="665.7" r="3.6" fill="none" stroke="#E5302C" stroke-width="1.2"/><circle cx="106.5" cy="665.7" r="0.6" fill="#E5302C"/><circle cx="107.8" cy="675.7" r="3.6" fill="none" stroke="#E5302C" stroke-width="1.2"/><circle cx="107.8" cy="675.7" r="0.6" fill="#E5302C"/><circle cx="109.2" cy="681.2" r="3.6" fill="none" stroke="#E5302C" stroke-width="1.2"/><circle cx="109.2" cy="681.2" r="0.6" fill="#E5302C"/><circle cx="110.7" cy="683.5" r="3.6" fill="none" stroke="#E5302C" stroke-width="1.2"/><circle cx="110.7" cy="683.5" r="0.6" fill="#E5302C"/><circle cx="90.7" cy="682.2" r="3.6" fill="none" stroke="#E5302C" stroke-width="1.2"/><circle cx="90.7" cy="682.2" r="0.6" fill="#E5302C"/><circle cx="89.5" cy="690.7" r="3.6" fill="none" stroke="#E5302C" stroke-width="1.2"/><circle cx="89.5" cy="690.7" r="0.6" fill="#E5302C"/><circle cx="88.3" cy="696.2" r="3.6" fill="none" stroke="#E5302C" stroke-width="1.2"/><circle cx="88.3" cy="696.2" r="0.6" fill="#E5302C"/><circle cx="87.1" cy="702.2" r="3.6" fill="none" stroke="#E5302C" stroke-width="1.2"/><circle cx="87.1" cy="702.2" r="0.6" fill="#E5302C"/><circle cx="85.2" cy="708.1" r="3.6" fill="none" stroke="#E5302C" stroke-width="1.2"/><circle cx="85.2" cy="708.1" r="0.6" fill="#E5302C"/><circle cx="82.4" cy="709.3" r="3.6" fill="none" stroke="#E5302C" stroke-width="1.2"/><circle cx="82.4" cy="709.3" r="0.6" fill="#E5302C"/><circle cx="79.2" cy="709.3" r="3.6" fill="none" stroke="#E5302C" stroke-width="1.2"/><circle cx="79.2" cy="709.3" r="0.6" fill="#E5302C"/><circle cx="78" cy="712.4" r="3.6" fill="none" stroke="#E5302C" stroke-width="1.2"/><circle cx="78" cy="712.4" r="0.6" fill="#E5302C"/><circle cx="77.3" cy="715.6" r="3.6" fill="none" stroke="#E5302C" stroke-width="1.2"/><circle cx="77.3" cy="715.6" r="0.6" fill="#E5302C"/><circle cx="75.7" cy="721.5" r="3.6" fill="none" stroke="#E5302C" stroke-width="1.2"/><circle cx="75.7" cy="721.5" r="0.6" fill="#E5302C"/><circle cx="72.9" cy="721.5" r="3.6" fill="none" stroke="#E5302C" stroke-width="1.2"/><circle cx="72.9" cy="721.5" r="0.6" fill="#E5302C"/><circle cx="122.92" cy="710.4" r="3.6" fill="none" stroke="#E5302C" stroke-width="1.2"/><circle cx="122.92" cy="710.4" r="0.6" fill="#E5302C"/><circle cx="135.19" cy="723.89" r="3.6" fill="none" stroke="#E5302C" stroke-width="1.2"/><circle cx="135.19" cy="723.89" r="0.6" fill="#E5302C"/><circle cx="147.46" cy="733.52" r="3.6" fill="none" stroke="#E5302C" stroke-width="1.2"/><circle cx="147.46" cy="733.52" r="0.6" fill="#E5302C"/><circle cx="159.73" cy="739.2" r="3.6" fill="none" stroke="#E5302C" stroke-width="1.2"/><circle cx="159.73" cy="739.2" r="0.6" fill="#E5302C"/><circle cx="172" cy="742.75" r="3.6" fill="none" stroke="#E5302C" stroke-width="1.2"/><circle cx="172" cy="742.75" r="0.6" fill="#E5302C"/><circle cx="184.27" cy="745.08" r="3.6" fill="none" stroke="#E5302C" stroke-width="1.2"/><circle cx="184.27" cy="745.08" r="0.6" fill="#E5302C"/><circle cx="196.54" cy="746.66" r="3.6" fill="none" stroke="#E5302C" stroke-width="1.2"/><circle cx="196.54" cy="746.66" r="0.6" fill="#E5302C"/><circle cx="208.81" cy="747.78" r="3.6" fill="none" stroke="#E5302C" stroke-width="1.2"/><circle cx="208.81" cy="747.78" r="0.6" fill="#E5302C"/><circle cx="221.08" cy="748.58" r="3.6" fill="none" stroke="#E5302C" stroke-width="1.2"/><circle cx="221.08" cy="748.58" r="0.6" fill="#E5302C"/><circle cx="233.35" cy="749.18" r="3.6" fill="none" stroke="#E5302C" stroke-width="1.2"/><circle cx="233.35" cy="749.18" r="0.6" fill="#E5302C"/><circle cx="245.62" cy="749.63" r="3.6" fill="none" stroke="#E5302C" stroke-width="1.2"/><circle cx="245.62" cy="749.63" r="0.6" fill="#E5302C"/><circle cx="257.89" cy="749.98" r="3.6" fill="none" stroke="#E5302C" stroke-width="1.2"/><circle cx="257.89" cy="749.98" r="0.6" fill="#E5302C"/><circle cx="270.16" cy="750.25" r="3.6" fill="none" stroke="#E5302C" stroke-width="1.2"/><circle cx="270.16" cy="750.25" r="0.6" fill="#E5302C"/><circle cx="282.43" cy="750.47" r="3.6" fill="none" stroke="#E5302C" stroke-width="1.2"/><circle cx="282.43" cy="750.47" r="0.6" fill="#E5302C"/><circle cx="294.7" cy="750.64" r="3.6" fill="none" stroke="#E5302C" stroke-width="1.2"/><circle cx="294.7" cy="750.64" r="0.6" fill="#E5302C"/><path d="M98.38 585.49 L99.04 592.4 L99.69 598.95 L100.35 605.14 L101.01 611.01 L101.66 616.57 L102.32 621.85 L102.98 626.86 L103.63 631.62 L104.29 636.15 L104.95 640.45 L105.6 644.54 L106.26 648.44 L106.92 652.16 L107.57 655.7 L108.23 659.08 L108.89 662.3 L109.54 665.38 L110.2 668.32 L110.86 671.13 L111.51 673.81 L112.17 676.38 L112.82 678.84 L113.48 681.2 L114.14 683.45 L114.79 685.62 L115.45 687.69 L116.11 689.68 L116.76 691.59 L117.42 693.42 L118.08 695.18 L118.73 696.87 L119.39 698.49 L120.05 700.05 L120.7 701.55 L121.36 703 L122.02 704.39 L122.67 705.73 L123.33 707.02 L123.99 708.26 L124.64 709.45 L125.3 710.61 L125.96 711.72 L126.61 712.8 L127.27 713.83 L127.93 714.83 L128.58 715.8 L129.24 716.73 L129.9 717.63 L130.55 718.5 L131.21 719.34 L131.87 720.16 L132.52 720.94 L133.18 721.7 L133.84 722.44 L134.49 723.15 L135.15 723.84 L135.81 724.51 L136.46 725.16 L137.12 725.79 L137.78 726.4 L138.43 726.99 L139.09 727.56 L139.75 728.11 L140.4 728.65 L141.06 729.17 L141.71 729.68 L142.37 730.17 L143.03 730.64 L143.68 731.11 L144.34 731.56 L145 731.99 L145.65 732.42 L146.31 732.83 L146.97 733.23 L147.62 733.62 L148.28 734 L148.94 734.37 L149.59 734.73 L150.25 735.07 L150.91 735.41 L151.56 735.74 L152.22 736.07 L152.88 736.38 L153.53 736.68 L154.19 736.98 L154.85 737.27 L155.5 737.55 L156.16 737.82 L156.82 738.09 L157.47 738.35 L158.13 738.61 L158.79 738.85 L159.44 739.1 L160.1 739.33 L160.76 739.56 L161.41 739.79 L162.07 740 L162.73 740.22 L163.38 740.43 L164.04 740.63 L164.7 740.83 L165.35 741.02 L166.01 741.21 L166.67 741.4 L167.32 741.58 L167.98 741.75 L168.63 741.93 L169.29 742.09 L169.95 742.26 L170.6 742.42 L171.26 742.58 L171.92 742.73 L172.57 742.88 L173.23 743.03 L173.89 743.17 L174.54 743.31 L175.2 743.45 L175.86 743.58 L176.51 743.72 L177.17 743.84 L177.83 743.97 L178.48 744.09 L179.14 744.21 L179.8 744.33 L180.45 744.45 L181.11 744.56 L181.77 744.67 L182.42 744.78 L183.08 744.89 L183.74 744.99 L184.39 745.09 L185.05 745.19 L185.71 745.29 L186.36 745.39 L187.02 745.48 L187.68 745.58 L188.33 745.67 L188.99 745.76 L189.65 745.84 L190.3 745.93 L190.96 746.01 L191.62 746.09 L192.27 746.17 L192.93 746.25 L193.59 746.33 L194.24 746.41 L194.9 746.48 L195.56 746.55 L196.21 746.63 L196.87 746.7 L197.52 746.77 L198.18 746.83 L198.84 746.9 L199.49 746.97 L200.15 747.03 L200.81 747.09 L201.46 747.15 L202.12 747.22 L202.78 747.28 L203.43 747.33 L204.09 747.39 L204.75 747.45 L205.4 747.5 L206.06 747.56 L206.72 747.61 L207.37 747.66 L208.03 747.72 L208.69 747.77 L209.34 747.82 L210 747.87 L210.66 747.92 L211.31 747.96 L211.97 748.01 L212.63 748.06 L213.28 748.1 L213.94 748.15 L214.6 748.19 L215.25 748.23 L215.91 748.27 L216.57 748.32 L217.22 748.36 L217.88 748.4 L218.54 748.44 L219.19 748.48 L219.85 748.51 L220.51 748.55 L221.16 748.59 L221.82 748.63 L222.48 748.66 L223.13 748.7 L223.79 748.73 L224.45 748.77 L225.1 748.8 L225.76 748.83 L226.41 748.87 L227.07 748.9 L227.73 748.93 L228.38 748.96 L229.04 748.99 L229.7 749.02 L230.35 749.05 L231.01 749.08 L231.67 749.11 L232.32 749.14 L232.98 749.17 L233.64 749.19 L234.29 749.22 L234.95 749.25 L235.61 749.27 L236.26 749.3 L236.92 749.33 L237.58 749.35 L238.23 749.38 L238.89 749.4 L239.55 749.42 L240.2 749.45 L240.86 749.47 L241.52 749.5 L242.17 749.52 L242.83 749.54 L243.49 749.56 L244.14 749.58 L244.8 749.61 L245.46 749.63 L246.11 749.65 L246.77 749.67 L247.43 749.69 L248.08 749.71 L248.74 749.73 L249.4 749.75 L250.05 749.77 L250.71 749.79 L251.37 749.81 L252.02 749.82 L252.68 749.84 L253.33 749.86 L253.99 749.88 L254.65 749.9 L255.3 749.91 L255.96 749.93 L256.62 749.95 L257.27 749.96 L257.93 749.98 L258.59 750 L259.24 750.01 L259.9 750.03 L260.56 750.04 L261.21 750.06 L261.87 750.07 L262.53 750.09 L263.18 750.1 L263.84 750.12 L264.5 750.13 L265.15 750.15 L265.81 750.16 L266.47 750.18 L267.12 750.19 L267.78 750.2 L268.44 750.22 L269.09 750.23 L269.75 750.24 L270.41 750.26 L271.06 750.27 L271.72 750.28 L272.38 750.29 L273.03 750.31 L273.69 750.32 L274.35 750.33 L275 750.34 L275.66 750.35 L276.32 750.36 L276.97 750.38 L277.63 750.39 L278.29 750.4 L278.94 750.41 L279.6 750.42 L280.26 750.43 L280.91 750.44 L281.57 750.45 L282.22 750.46 L282.88 750.47 L283.54 750.48 L284.19 750.49 L284.85 750.5 L285.51 750.51 L286.16 750.52 L286.82 750.53 L287.48 750.54 L288.13 750.55 L288.79 750.56 L289.45 750.57 L290.1 750.58 L290.76 750.59 L291.42 750.59 L292.07 750.6 L292.73 750.61 L293.39 750.62 L294.04 750.63 L294.7 750.64" stroke="#E02A26" stroke-width="1.7" fill="none"/><rect x="49.3" y="576.25" width="257.95" height="210.5" fill="none" stroke="#000" stroke-width="2.6"/><line x1="50.6" y1="576.25" x2="55.1" y2="576.25" stroke="#000" stroke-width="2.2"/><line x1="50.6" y1="611.32" x2="55.1" y2="611.32" stroke="#000" stroke-width="2.2"/><line x1="50.6" y1="646.39" x2="55.1" y2="646.39" stroke="#000" stroke-width="2.2"/><line x1="50.6" y1="681.46" x2="55.1" y2="681.46" stroke="#000" stroke-width="2.2"/><line x1="50.6" y1="716.53" x2="55.1" y2="716.53" stroke="#000" stroke-width="2.2"/><line x1="50.6" y1="751.6" x2="55.1" y2="751.6" stroke="#000" stroke-width="2.2"/><line x1="50.6" y1="786.67" x2="55.1" y2="786.67" stroke="#000" stroke-width="2.2"/><line x1="50.6" y1="593.78" x2="52.5" y2="593.78" stroke="#000" stroke-width="2.2"/><line x1="50.6" y1="628.86" x2="52.5" y2="628.86" stroke="#000" stroke-width="2.2"/><line x1="50.6" y1="663.92" x2="52.5" y2="663.92" stroke="#000" stroke-width="2.2"/><line x1="50.6" y1="699" x2="52.5" y2="699" stroke="#000" stroke-width="2.2"/><line x1="50.6" y1="734.07" x2="52.5" y2="734.07" stroke="#000" stroke-width="2.2"/><line x1="50.6" y1="769.13" x2="52.5" y2="769.13" stroke="#000" stroke-width="2.2"/><line x1="49.3" y1="785.45" x2="49.3" y2="780.95" stroke="#000" stroke-width="2.2"/><line x1="110.65" y1="785.45" x2="110.65" y2="780.95" stroke="#000" stroke-width="2.2"/><line x1="172" y1="785.45" x2="172" y2="780.95" stroke="#000" stroke-width="2.2"/><line x1="233.35" y1="785.45" x2="233.35" y2="780.95" stroke="#000" stroke-width="2.2"/><line x1="294.7" y1="785.45" x2="294.7" y2="780.95" stroke="#000" stroke-width="2.2"/><line x1="79.97" y1="785.45" x2="79.97" y2="783.55" stroke="#000" stroke-width="2.2"/><line x1="141.32" y1="785.45" x2="141.32" y2="783.55" stroke="#000" stroke-width="2.2"/><line x1="202.68" y1="785.45" x2="202.68" y2="783.55" stroke="#000" stroke-width="2.2"/><line x1="264.02" y1="785.45" x2="264.02" y2="783.55" stroke="#000" stroke-width="2.2"/><text x="43.6" y="580.59" font-size="11.7" text-anchor="end">−60</text><text x="43.6" y="615.66" font-size="11.7" text-anchor="end">−50</text><text x="43.6" y="650.73" font-size="11.7" text-anchor="end">−40</text><text x="43.6" y="685.8" font-size="11.7" text-anchor="end">−30</text><text x="43.6" y="720.87" font-size="11.7" text-anchor="end">−20</text><text x="43.6" y="755.94" font-size="11.7" text-anchor="end">−10</text><text x="49.3" y="801.6" font-size="11.7" text-anchor="middle">0</text><text x="110.65" y="801.6" font-size="11.7" text-anchor="middle">5</text><text x="172" y="801.6" font-size="11.7" text-anchor="middle">10</text><text x="233.35" y="801.6" font-size="11.7" text-anchor="middle">15</text><text x="294.7" y="801.6" font-size="11.7" text-anchor="middle">20</text><text x="178.5" y="817.5" font-size="11.7" text-anchor="middle">d (mm)</text><text x="11.6" y="681" font-size="11.7" text-anchor="middle" transform="rotate(-90 11.6 681)">RL<tspan font-size="8" dy="2.5">peak</tspan><tspan dy="-2.5"> (dB)</tspan></text><circle cx="146.9" cy="686.8" r="3.6" fill="none" stroke="#E5302C" stroke-width="1.2"/><circle cx="146.9" cy="686.8" r="0.6" fill="#E5302C"/><text x="161.3" y="691.2" font-size="10.2">Data</text><line x1="135.5" y1="702.4" x2="158.5" y2="702.4" stroke="#E02A26" stroke-width="1.5"/><text x="161.6" y="706.1" font-size="10.2">Fitted: RL = –4000.0/d<tspan font-size="6.8" dy="-4.5">3.2</tspan><tspan dy="4.5">–10.0</tspan></text><text x="346.6" y="577.6" font-size="16.2" font-weight="bold">f</text><circle cx="404.17" cy="603.44" r="3.6" fill="none" stroke="#E5302C" stroke-width="1.2"/><circle cx="404.17" cy="603.44" r="0.6" fill="#E5302C"/><circle cx="404.8" cy="610.55" r="3.6" fill="none" stroke="#E5302C" stroke-width="1.2"/><circle cx="404.8" cy="610.55" r="0.6" fill="#E5302C"/><circle cx="406.07" cy="613.72" r="3.6" fill="none" stroke="#E5302C" stroke-width="1.2"/><circle cx="406.07" cy="613.72" r="0.6" fill="#E5302C"/><circle cx="407.33" cy="616.88" r="3.6" fill="none" stroke="#E5302C" stroke-width="1.2"/><circle cx="407.33" cy="616.88" r="0.6" fill="#E5302C"/><circle cx="407.96" cy="620.04" r="3.6" fill="none" stroke="#E5302C" stroke-width="1.2"/><circle cx="407.96" cy="620.04" r="0.6" fill="#E5302C"/><circle cx="408.91" cy="623.99" r="3.6" fill="none" stroke="#E5302C" stroke-width="1.2"/><circle cx="408.91" cy="623.99" r="0.6" fill="#E5302C"/><circle cx="409.55" cy="632.37" r="3.6" fill="none" stroke="#E5302C" stroke-width="1.2"/><circle cx="409.55" cy="632.37" r="0.6" fill="#E5302C"/><circle cx="411.28" cy="635.06" r="3.6" fill="none" stroke="#E5302C" stroke-width="1.2"/><circle cx="411.28" cy="635.06" r="0.6" fill="#E5302C"/><circle cx="412.71" cy="637.43" r="3.6" fill="none" stroke="#E5302C" stroke-width="1.2"/><circle cx="412.71" cy="637.43" r="0.6" fill="#E5302C"/><circle cx="414.29" cy="639.8" r="3.6" fill="none" stroke="#E5302C" stroke-width="1.2"/><circle cx="414.29" cy="639.8" r="0.6" fill="#E5302C"/><circle cx="414.76" cy="644.55" r="3.6" fill="none" stroke="#E5302C" stroke-width="1.2"/><circle cx="414.76" cy="644.55" r="0.6" fill="#E5302C"/><circle cx="415.55" cy="647.71" r="3.6" fill="none" stroke="#E5302C" stroke-width="1.2"/><circle cx="415.55" cy="647.71" r="0.6" fill="#E5302C"/><circle cx="416.82" cy="650.87" r="3.6" fill="none" stroke="#E5302C" stroke-width="1.2"/><circle cx="416.82" cy="650.87" r="0.6" fill="#E5302C"/><circle cx="417.92" cy="657.98" r="3.6" fill="none" stroke="#E5302C" stroke-width="1.2"/><circle cx="417.92" cy="657.98" r="0.6" fill="#E5302C"/><circle cx="419.03" cy="661.15" r="3.6" fill="none" stroke="#E5302C" stroke-width="1.2"/><circle cx="419.03" cy="661.15" r="0.6" fill="#E5302C"/><circle cx="420.3" cy="664.31" r="3.6" fill="none" stroke="#E5302C" stroke-width="1.2"/><circle cx="420.3" cy="664.31" r="0.6" fill="#E5302C"/><circle cx="421.88" cy="667.47" r="3.6" fill="none" stroke="#E5302C" stroke-width="1.2"/><circle cx="421.88" cy="667.47" r="0.6" fill="#E5302C"/><circle cx="423.14" cy="671.42" r="3.6" fill="none" stroke="#E5302C" stroke-width="1.2"/><circle cx="423.14" cy="671.42" r="0.6" fill="#E5302C"/><circle cx="424.25" cy="673.79" r="3.6" fill="none" stroke="#E5302C" stroke-width="1.2"/><circle cx="424.25" cy="673.79" r="0.6" fill="#E5302C"/><circle cx="425.83" cy="676.96" r="3.6" fill="none" stroke="#E5302C" stroke-width="1.2"/><circle cx="425.83" cy="676.96" r="0.6" fill="#E5302C"/><circle cx="427.41" cy="680.12" r="3.6" fill="none" stroke="#E5302C" stroke-width="1.2"/><circle cx="427.41" cy="680.12" r="0.6" fill="#E5302C"/><circle cx="428.99" cy="683.28" r="3.6" fill="none" stroke="#E5302C" stroke-width="1.2"/><circle cx="428.99" cy="683.28" r="0.6" fill="#E5302C"/><circle cx="430.57" cy="686.44" r="3.6" fill="none" stroke="#E5302C" stroke-width="1.2"/><circle cx="430.57" cy="686.44" r="0.6" fill="#E5302C"/><circle cx="432.15" cy="689.6" r="3.6" fill="none" stroke="#E5302C" stroke-width="1.2"/><circle cx="432.15" cy="689.6" r="0.6" fill="#E5302C"/><circle cx="433.74" cy="692.77" r="3.6" fill="none" stroke="#E5302C" stroke-width="1.2"/><circle cx="433.74" cy="692.77" r="0.6" fill="#E5302C"/><circle cx="435.32" cy="695.14" r="3.6" fill="none" stroke="#E5302C" stroke-width="1.2"/><circle cx="435.32" cy="695.14" r="0.6" fill="#E5302C"/><circle cx="436.9" cy="697.51" r="3.6" fill="none" stroke="#E5302C" stroke-width="1.2"/><circle cx="436.9" cy="697.51" r="0.6" fill="#E5302C"/><circle cx="438.48" cy="699.88" r="3.6" fill="none" stroke="#E5302C" stroke-width="1.2"/><circle cx="438.48" cy="699.88" r="0.6" fill="#E5302C"/><circle cx="440.85" cy="703.04" r="3.6" fill="none" stroke="#E5302C" stroke-width="1.2"/><circle cx="440.85" cy="703.04" r="0.6" fill="#E5302C"/><circle cx="453.66" cy="717.43" r="3.6" fill="none" stroke="#E5302C" stroke-width="1.2"/><circle cx="453.66" cy="717.43" r="0.6" fill="#E5302C"/><circle cx="465.92" cy="727.68" r="3.6" fill="none" stroke="#E5302C" stroke-width="1.2"/><circle cx="465.92" cy="727.68" r="0.6" fill="#E5302C"/><circle cx="478.18" cy="735.74" r="3.6" fill="none" stroke="#E5302C" stroke-width="1.2"/><circle cx="478.18" cy="735.74" r="0.6" fill="#E5302C"/><circle cx="490.44" cy="742.26" r="3.6" fill="none" stroke="#E5302C" stroke-width="1.2"/><circle cx="490.44" cy="742.26" r="0.6" fill="#E5302C"/><circle cx="502.7" cy="747.67" r="3.6" fill="none" stroke="#E5302C" stroke-width="1.2"/><circle cx="502.7" cy="747.67" r="0.6" fill="#E5302C"/><circle cx="514.96" cy="752.23" r="3.6" fill="none" stroke="#E5302C" stroke-width="1.2"/><circle cx="514.96" cy="752.23" r="0.6" fill="#E5302C"/><circle cx="527.22" cy="756.15" r="3.6" fill="none" stroke="#E5302C" stroke-width="1.2"/><circle cx="527.22" cy="756.15" r="0.6" fill="#E5302C"/><circle cx="539.48" cy="759.56" r="3.6" fill="none" stroke="#E5302C" stroke-width="1.2"/><circle cx="539.48" cy="759.56" r="0.6" fill="#E5302C"/><circle cx="551.74" cy="762.55" r="3.6" fill="none" stroke="#E5302C" stroke-width="1.2"/><circle cx="551.74" cy="762.55" r="0.6" fill="#E5302C"/><circle cx="564" cy="765.21" r="3.6" fill="none" stroke="#E5302C" stroke-width="1.2"/><circle cx="564" cy="765.21" r="0.6" fill="#E5302C"/><circle cx="576.26" cy="767.58" r="3.6" fill="none" stroke="#E5302C" stroke-width="1.2"/><circle cx="576.26" cy="767.58" r="0.6" fill="#E5302C"/><circle cx="588.52" cy="769.72" r="3.6" fill="none" stroke="#E5302C" stroke-width="1.2"/><circle cx="588.52" cy="769.72" r="0.6" fill="#E5302C"/><circle cx="600.78" cy="771.65" r="3.6" fill="none" stroke="#E5302C" stroke-width="1.2"/><circle cx="600.78" cy="771.65" r="0.6" fill="#E5302C"/><circle cx="613.04" cy="773.41" r="3.6" fill="none" stroke="#E5302C" stroke-width="1.2"/><circle cx="613.04" cy="773.41" r="0.6" fill="#E5302C"/><circle cx="625.3" cy="775.03" r="3.6" fill="none" stroke="#E5302C" stroke-width="1.2"/><circle cx="625.3" cy="775.03" r="0.6" fill="#E5302C"/><path d="M404.62 602.98 L405.36 607.32 L406.1 611.46 L406.83 615.4 L407.57 619.16 L408.31 622.76 L409.05 626.2 L409.79 629.5 L410.52 632.66 L411.26 635.7 L412 638.61 L412.74 641.42 L413.48 644.12 L414.21 646.72 L414.95 649.24 L415.69 651.66 L416.43 654 L417.17 656.26 L417.91 658.45 L418.64 660.56 L419.38 662.61 L420.12 664.6 L420.86 666.52 L421.6 668.39 L422.33 670.2 L423.07 671.96 L423.81 673.67 L424.55 675.33 L425.29 676.95 L426.02 678.52 L426.76 680.05 L427.5 681.54 L428.24 682.99 L428.98 684.41 L429.71 685.79 L430.45 687.13 L431.19 688.45 L431.93 689.73 L432.67 690.98 L433.4 692.2 L434.14 693.4 L434.88 694.56 L435.62 695.7 L436.36 696.82 L437.09 697.91 L437.83 698.98 L438.57 700.02 L439.31 701.04 L440.05 702.05 L440.78 703.03 L441.52 703.99 L442.26 704.93 L443 705.85 L443.74 706.76 L444.48 707.65 L445.21 708.52 L445.95 709.37 L446.69 710.21 L447.43 711.04 L448.17 711.84 L448.9 712.64 L449.64 713.42 L450.38 714.18 L451.12 714.94 L451.86 715.68 L452.59 716.4 L453.33 717.12 L454.07 717.82 L454.81 718.51 L455.55 719.19 L456.28 719.86 L457.02 720.51 L457.76 721.16 L458.5 721.8 L459.24 722.42 L459.97 723.04 L460.71 723.65 L461.45 724.25 L462.19 724.84 L462.93 725.42 L463.66 725.99 L464.4 726.55 L465.14 727.11 L465.88 727.65 L466.62 728.19 L467.36 728.72 L468.09 729.25 L468.83 729.76 L469.57 730.27 L470.31 730.78 L471.05 731.27 L471.78 731.76 L472.52 732.24 L473.26 732.72 L474 733.19 L474.74 733.65 L475.47 734.11 L476.21 734.56 L476.95 735.01 L477.69 735.45 L478.43 735.88 L479.16 736.31 L479.9 736.73 L480.64 737.15 L481.38 737.57 L482.12 737.97 L482.85 738.38 L483.59 738.78 L484.33 739.17 L485.07 739.56 L485.81 739.94 L486.54 740.32 L487.28 740.7 L488.02 741.07 L488.76 741.44 L489.5 741.8 L490.23 742.16 L490.97 742.51 L491.71 742.87 L492.45 743.21 L493.19 743.56 L493.93 743.89 L494.66 744.23 L495.4 744.56 L496.14 744.89 L496.88 745.22 L497.62 745.54 L498.35 745.86 L499.09 746.17 L499.83 746.48 L500.57 746.79 L501.31 747.1 L502.04 747.4 L502.78 747.7 L503.52 747.99 L504.26 748.29 L505 748.58 L505.73 748.87 L506.47 749.15 L507.21 749.43 L507.95 749.71 L508.69 749.99 L509.42 750.26 L510.16 750.53 L510.9 750.8 L511.64 751.07 L512.38 751.33 L513.11 751.59 L513.85 751.85 L514.59 752.11 L515.33 752.36 L516.07 752.61 L516.81 752.86 L517.54 753.11 L518.28 753.35 L519.02 753.6 L519.76 753.84 L520.5 754.08 L521.23 754.31 L521.97 754.55 L522.71 754.78 L523.45 755.01 L524.19 755.24 L524.92 755.46 L525.66 755.69 L526.4 755.91 L527.14 756.13 L527.88 756.35 L528.61 756.57 L529.35 756.78 L530.09 756.99 L530.83 757.21 L531.57 757.41 L532.3 757.62 L533.04 757.83 L533.78 758.03 L534.52 758.24 L535.26 758.44 L535.99 758.64 L536.73 758.84 L537.47 759.03 L538.21 759.23 L538.95 759.42 L539.69 759.61 L540.42 759.8 L541.16 759.99 L541.9 760.18 L542.64 760.37 L543.38 760.55 L544.11 760.74 L544.85 760.92 L545.59 761.1 L546.33 761.28 L547.07 761.46 L547.8 761.63 L548.54 761.81 L549.28 761.98 L550.02 762.16 L550.76 762.33 L551.49 762.5 L552.23 762.67 L552.97 762.83 L553.71 763 L554.45 763.17 L555.18 763.33 L555.92 763.49 L556.66 763.66 L557.4 763.82 L558.14 763.98 L558.87 764.14 L559.61 764.29 L560.35 764.45 L561.09 764.61 L561.83 764.76 L562.56 764.91 L563.3 765.07 L564.04 765.22 L564.78 765.37 L565.52 765.52 L566.26 765.66 L566.99 765.81 L567.73 765.96 L568.47 766.1 L569.21 766.25 L569.95 766.39 L570.68 766.53 L571.42 766.67 L572.16 766.82 L572.9 766.96 L573.64 767.09 L574.37 767.23 L575.11 767.37 L575.85 767.51 L576.59 767.64 L577.33 767.78 L578.06 767.91 L578.8 768.04 L579.54 768.17 L580.28 768.3 L581.02 768.44 L581.75 768.56 L582.49 768.69 L583.23 768.82 L583.97 768.95 L584.71 769.08 L585.44 769.2 L586.18 769.33 L586.92 769.45 L587.66 769.57 L588.4 769.7 L589.14 769.82 L589.87 769.94 L590.61 770.06 L591.35 770.18 L592.09 770.3 L592.83 770.42 L593.56 770.53 L594.3 770.65 L595.04 770.77 L595.78 770.88 L596.52 771 L597.25 771.11 L597.99 771.23 L598.73 771.34 L599.47 771.45 L600.21 771.56 L600.94 771.68 L601.68 771.79 L602.42 771.9 L603.16 772.01 L603.9 772.11 L604.63 772.22 L605.37 772.33 L606.11 772.44 L606.85 772.54 L607.59 772.65 L608.32 772.75 L609.06 772.86 L609.8 772.96 L610.54 773.07 L611.28 773.17 L612.01 773.27 L612.75 773.37 L613.49 773.48 L614.23 773.58 L614.97 773.68 L615.71 773.78 L616.44 773.88 L617.18 773.97 L617.92 774.07 L618.66 774.17 L619.4 774.27 L620.13 774.36 L620.87 774.46 L621.61 774.56 L622.35 774.65 L623.09 774.74 L623.82 774.84 L624.56 774.93 L625.3 775.03" stroke="#E02A26" stroke-width="1.7" fill="none"/><rect x="380.1" y="577.7" width="257.3" height="210.55" fill="none" stroke="#000" stroke-width="2.6"/><line x1="381.4" y1="774.1" x2="385.9" y2="774.1" stroke="#000" stroke-width="2.2"/><line x1="381.4" y1="717.9" x2="385.9" y2="717.9" stroke="#000" stroke-width="2.2"/><line x1="381.4" y1="661.7" x2="385.9" y2="661.7" stroke="#000" stroke-width="2.2"/><line x1="381.4" y1="605.5" x2="385.9" y2="605.5" stroke="#000" stroke-width="2.2"/><line x1="381.4" y1="746" x2="383.3" y2="746" stroke="#000" stroke-width="2.2"/><line x1="381.4" y1="689.8" x2="383.3" y2="689.8" stroke="#000" stroke-width="2.2"/><line x1="381.4" y1="633.6" x2="383.3" y2="633.6" stroke="#000" stroke-width="2.2"/><line x1="429.14" y1="786.95" x2="429.14" y2="782.45" stroke="#000" stroke-width="2.2"/><line x1="478.18" y1="786.95" x2="478.18" y2="782.45" stroke="#000" stroke-width="2.2"/><line x1="527.22" y1="786.95" x2="527.22" y2="782.45" stroke="#000" stroke-width="2.2"/><line x1="576.26" y1="786.95" x2="576.26" y2="782.45" stroke="#000" stroke-width="2.2"/><line x1="625.3" y1="786.95" x2="625.3" y2="782.45" stroke="#000" stroke-width="2.2"/><line x1="404.62" y1="786.95" x2="404.62" y2="785.05" stroke="#000" stroke-width="2.2"/><line x1="453.66" y1="786.95" x2="453.66" y2="785.05" stroke="#000" stroke-width="2.2"/><line x1="502.7" y1="786.95" x2="502.7" y2="785.05" stroke="#000" stroke-width="2.2"/><line x1="551.74" y1="786.95" x2="551.74" y2="785.05" stroke="#000" stroke-width="2.2"/><line x1="600.78" y1="786.95" x2="600.78" y2="785.05" stroke="#000" stroke-width="2.2"/><text x="373.5" y="779.44" font-size="11.7" text-anchor="end">0</text><text x="373.5" y="723.24" font-size="11.7" text-anchor="end">2</text><text x="373.5" y="667.04" font-size="11.7" text-anchor="end">4</text><text x="373.5" y="610.84" font-size="11.7" text-anchor="end">6</text><text x="429.14" y="802.6" font-size="11.7" text-anchor="middle">4</text><text x="478.18" y="802.6" font-size="11.7" text-anchor="middle">8</text><text x="527.22" y="802.6" font-size="11.7" text-anchor="middle">12</text><text x="576.26" y="802.6" font-size="11.7" text-anchor="middle">16</text><text x="625.3" y="802.6" font-size="11.7" text-anchor="middle">20</text><text x="508.5" y="819.5" font-size="11.7" text-anchor="middle">d (mm)</text><text x="358.2" y="682.9" font-size="11.7" text-anchor="middle" transform="rotate(-90 358.2 682.9)">Δf<tspan font-size="8" dy="2.5">10</tspan><tspan dy="-2.5"> (GHz)</tspan></text><circle cx="489.1" cy="687.2" r="3.6" fill="none" stroke="#E5302C" stroke-width="1.2"/><circle cx="489.1" cy="687.2" r="0.6" fill="#E5302C"/><text x="506.2" y="691.2" font-size="10.2">Data</text><line x1="479" y1="701" x2="502.2" y2="701" stroke="#E02A26" stroke-width="1.5"/><text x="506.4" y="704.8" font-size="10.2">Fitted: Δf = 12.4/d<tspan font-size="6.8" dy="-4.5">0.68</tspan><tspan dy="4.5">–1.65</tspan></text></svg></body></html>
